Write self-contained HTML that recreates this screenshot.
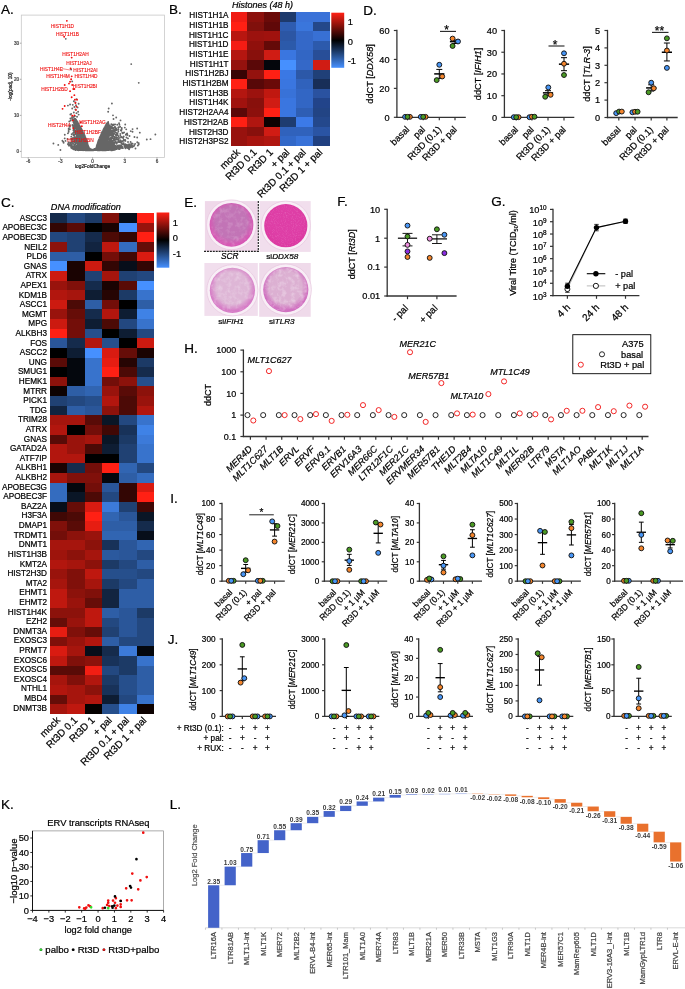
<!DOCTYPE html>
<html><head><meta charset="utf-8"><title>Figure</title>
<style>
html,body{margin:0;padding:0;background:#fff;}
body{width:685px;height:989px;overflow:hidden;font-family:"Liberation Sans",sans-serif;}
svg{display:block;font-family:"Liberation Sans",sans-serif;will-change:transform;}
</style></head><body>
<svg width="685" height="989" viewBox="0 0 685 989">
<defs><linearGradient id="cb" x1="0" y1="0" x2="0" y2="1"><stop offset="0" stop-color="#ff2014"/><stop offset="0.5" stop-color="#000"/><stop offset="1" stop-color="#4690ff"/></linearGradient></defs>
<text stroke="#000" stroke-width="0.22" x="1" y="13.5" font-size="13.5" text-anchor="start" fill="#000">A.</text>
<rect x="21.3" y="15.1" width="143.1" height="142.3" fill="#fff" stroke="#c8c8c8" stroke-width="0.8"/>
<line x1="28.22" y1="157.4" x2="28.22" y2="158.9" stroke="#555" stroke-width="0.5"/>
<text stroke="#444" stroke-width="0.22" x="28.22" y="163" font-size="4.6" text-anchor="middle" fill="#444">-6</text>
<line x1="60.41" y1="157.4" x2="60.41" y2="158.9" stroke="#555" stroke-width="0.5"/>
<text stroke="#444" stroke-width="0.22" x="60.41" y="163" font-size="4.6" text-anchor="middle" fill="#444">-3</text>
<line x1="92.6" y1="157.4" x2="92.6" y2="158.9" stroke="#555" stroke-width="0.5"/>
<text stroke="#444" stroke-width="0.22" x="92.6" y="163" font-size="4.6" text-anchor="middle" fill="#444">0</text>
<line x1="124.79" y1="157.4" x2="124.79" y2="158.9" stroke="#555" stroke-width="0.5"/>
<text stroke="#444" stroke-width="0.22" x="124.79" y="163" font-size="4.6" text-anchor="middle" fill="#444">3</text>
<line x1="156.98" y1="157.4" x2="156.98" y2="158.9" stroke="#555" stroke-width="0.5"/>
<text stroke="#444" stroke-width="0.22" x="156.98" y="163" font-size="4.6" text-anchor="middle" fill="#444">6</text>
<line x1="19.8" y1="151.4" x2="21.3" y2="151.4" stroke="#555" stroke-width="0.5"/>
<text stroke="#444" stroke-width="0.22" x="19" y="153" font-size="4.6" text-anchor="end" fill="#444">0</text>
<line x1="19.8" y1="115.33" x2="21.3" y2="115.33" stroke="#555" stroke-width="0.5"/>
<text stroke="#444" stroke-width="0.22" x="19" y="116.93" font-size="4.6" text-anchor="end" fill="#444">10</text>
<line x1="19.8" y1="79.26" x2="21.3" y2="79.26" stroke="#555" stroke-width="0.5"/>
<text stroke="#444" stroke-width="0.22" x="19" y="80.86" font-size="4.6" text-anchor="end" fill="#444">20</text>
<line x1="19.8" y1="43.19" x2="21.3" y2="43.19" stroke="#555" stroke-width="0.5"/>
<text stroke="#444" stroke-width="0.22" x="19" y="44.79" font-size="4.6" text-anchor="end" fill="#444">30</text>
<text stroke="#222" stroke-width="0.22" x="92.6" y="168.3" font-size="4.8" text-anchor="middle" fill="#222">log2FoldChange</text>
<text stroke="#222" stroke-width="0.22" transform="translate(12 86.5) rotate(-90)" font-size="4.8" text-anchor="middle" fill="#222">-log(padj, 10)</text>
<path d="M95.24 149.16h0M95.14 149.38h0M121.82 148h0M87.27 142.88h0M80.71 149.71h0M102.03 138.69h0M100.71 148.33h0M101.28 139h0M76.93 137.14h0M87.7 145.98h0M121.01 141.77h0M83.96 137.53h0M72.73 141.59h0M106.6 137.79h0M81.93 145.04h0M98.67 142.57h0M113.96 147.54h0M113.35 143.21h0M76.39 141.69h0M88.72 149.12h0M110.38 147.72h0M106.27 139.55h0M114.03 148.37h0M87.09 143.35h0M86.26 147.61h0M96.78 149.99h0M98.28 149.32h0M138.74 144.35h0M110.94 145.25h0M97.27 148.26h0M108.74 124.34h0M108.6 144.77h0M132.64 143.6h0M81.06 129.46h0M104.1 149.71h0M65.51 140.91h0M104.21 148.56h0M77.9 125.95h0M75.86 122h0M98.87 148.78h0M80.71 141.84h0M114.3 149.87h0M75.2 119.16h0M78.38 143.08h0M98.73 147.61h0M88.18 149.44h0M102.66 138.12h0M78.43 139.72h0M101.19 148.59h0M79.36 139.52h0M100.74 140.15h0M81.29 132.15h0M80.93 139.25h0M110.8 130.35h0M71.47 146.52h0M85.53 140.97h0M112.44 136.22h0M125.03 147.49h0M63.2 141.76h0M106.64 148.82h0M98.77 140.11h0M127.15 147.67h0M96.68 148.63h0M117.57 146.79h0M83.64 133.75h0M76.42 123.95h0M110.42 130.62h0M103.75 129.93h0M97.92 147.42h0M99.51 146.21h0M95.44 148.77h0M103.14 138.54h0M88.84 149.9h0M125.39 140.88h0M106.19 133.15h0M105.04 149.82h0M111.3 149.16h0M84.96 147h0M121.68 143.44h0M77.87 123.63h0M102.54 144.65h0M100.78 147.25h0M101.59 149.66h0M103.17 135.31h0M107.9 129.77h0M75.77 121.74h0M85.98 149.18h0M80.46 135.91h0M86.19 147.71h0M105.21 138.42h0M96.03 148.72h0M107.52 135.37h0M79.82 140.84h0M83.62 134.47h0M100.01 139.68h0M106.12 137.71h0M114.04 143.24h0M104.8 127.14h0M99.62 142h0M88.37 148.28h0M111.21 131.23h0M84.68 147.2h0M99.06 141.93h0M96.76 146.06h0M75.37 123.22h0M86.61 146.29h0M86.64 145.43h0M113.98 145.09h0M74.2 134.99h0M107.81 134.9h0M127.88 146.86h0M104.47 136.91h0M101.88 148.29h0M105.98 128.32h0M99.1 145.39h0M107.6 139.18h0M97.47 145.24h0M107.14 125.95h0M85.45 145.97h0M110.6 128.78h0M107.34 126.77h0M110.55 144.09h0M87.71 149.78h0M77 123.4h0M73.61 148.62h0M86.56 145.12h0M87.35 149.18h0M105.69 139.2h0M105.34 127.48h0M105.3 128.24h0M105.66 144.58h0M81.19 147.26h0M104.78 133.25h0M109.48 128.43h0M102.3 146.42h0M105.77 147.59h0M87.85 147.44h0M113.68 149.47h0M73.05 143.44h0M87.06 148.88h0M122.61 146.86h0M105.95 127.22h0M74.31 149.29h0M97.14 145.47h0M116.17 148.67h0M80.14 127.82h0M82.3 132.65h0M105.85 134.88h0M72.34 139.6h0M102.21 147.46h0M78.12 129.98h0M85.39 143.81h0M81.62 129.64h0M123.78 139.76h0M87.96 150.26h0M84.29 141.11h0M80.75 128.22h0M85.73 146.14h0M75.69 146.72h0M107.24 125.34h0M81.6 129.47h0M112 126.08h0M104.39 129.82h0M83.8 135.67h0M96.33 149.62h0M90.16 149.61h0M102.54 148.6h0M99.54 139.35h0M102.4 135.15h0M102.44 138.84h0M76.86 121.42h0M76.45 124.68h0M103.92 129.87h0M106.32 131.76h0M100.36 141.77h0M121.46 141.39h0M126.84 146.08h0M109.6 127.69h0M103.75 133.86h0M84.3 147.39h0M104.54 149.98h0M68.67 128.48h0M105.23 138.39h0M101.77 144.22h0M97.39 148.98h0M88.68 148.34h0M101.73 144.06h0M101.71 148.73h0M118.61 141.08h0M103.16 131.88h0M74.77 141.8h0M95.43 149.56h0M87.73 146.88h0M99.74 147.03h0M119.73 148.94h0M79.47 128.54h0M83.45 143.89h0M75.83 120.29h0M83.43 146.42h0M95.47 148.95h0M88.83 149.99h0M104.36 129.54h0M85.42 143.79h0M100.43 139.19h0M78.65 124.39h0M108.42 137.53h0M102.18 137.45h0M80.48 141.05h0M100.32 140.42h0M112.55 133.65h0M80.77 135.27h0M87.19 148.39h0M127.13 133.49h0M84.04 141.35h0M104.61 149.59h0M80.37 131.42h0M124.81 147.08h0M105.91 132.3h0M111.37 134.53h0M104.42 148.49h0M81.14 141.45h0M83.14 143.06h0M96.03 148.35h0M105.83 125.88h0M107.42 136.02h0M109.52 138.58h0M74.66 125.57h0M95.95 148.47h0M79.62 126.85h0M98.81 148.68h0M100.42 146.52h0M110.09 127.16h0M84.72 140.67h0M77.34 137.94h0M127.76 148.01h0M99.35 142.18h0M99.23 147.67h0M101.91 133.75h0M79.57 130.51h0M113.89 143.5h0M116.14 148.36h0M99.19 144.66h0M102.42 136.61h0M104.07 149.41h0M81.1 128.93h0M104.8 128.26h0M96.68 149.47h0M100.63 142.56h0M93.6 150.09h0M108.44 127.23h0M97.17 150.12h0M106.25 143.25h0M98.06 149.71h0M78.31 126.05h0M78.62 132.52h0M78.01 126.09h0M105.57 149.41h0M84.92 146.25h0M77.94 126.07h0M68.57 142.35h0M104.67 134.18h0M106.84 139.61h0M118.66 141.99h0M107.93 138.14h0M93.34 149.72h0M100.68 143.62h0M105.2 127.65h0M86.45 141.75h0M85.3 139.96h0M78.54 144.58h0M78.15 138.57h0M104.61 130.81h0M97.8 148.76h0M105.08 141.81h0M77.28 129.22h0M76.75 126.6h0M77.38 122.41h0M107.49 149.57h0M111.34 131.02h0M75.88 126.68h0M78.98 132.26h0M103.86 131.09h0M100.56 149.31h0M98.9 139.58h0M82.82 135.29h0M107.64 126.96h0M81.51 131.35h0M76.04 138.81h0M100.51 145.69h0M99.62 142.05h0M109.57 133.75h0M103.09 140.88h0M86.16 145h0M84.93 136.51h0M87.55 149.67h0M78.99 136.63h0M81.47 136.3h0M85.08 147.85h0M82.94 148.64h0M105.82 131.38h0M105.11 146.17h0M87.93 149.09h0M79.84 142.53h0M78.36 125.32h0M96.31 147.98h0M117.91 135.17h0M107.07 148.76h0M112.61 148.64h0M74.97 130.47h0M105.48 125.89h0M95.23 149.64h0M84.67 141.04h0M87.93 149.36h0M82.41 134.32h0M84.41 135.5h0M82.24 133.14h0M82.03 133.94h0M82.78 143.35h0M86.31 149.75h0M69.84 126.71h0M78.83 145.73h0M79.71 126.1h0M102.52 133.98h0M83.2 134.09h0M109.54 142.55h0M74.77 147.65h0M84.66 137.58h0M104.75 135.98h0M96.97 148.16h0M79.38 129.29h0M101.8 148.17h0M85.25 146.39h0M77.32 121.83h0M94.94 149.29h0M105.33 126.4h0M70.75 143.08h0M104.91 130.3h0M137.83 145.55h0M109.78 129.47h0M106.61 131.69h0M78.94 129.64h0M99.85 138.77h0M99.88 142.01h0M120.32 135.81h0M113.63 147.49h0M89.86 149.17h0M78.49 140.32h0M100.53 139.28h0M96.59 149.59h0M110.54 149.57h0M97.8 145.76h0M87.95 148.38h0M137.27 142.27h0M77.49 150h0M118.57 127.13h0M106.77 128.3h0M106.43 148.69h0M101.34 138.07h0M109.29 138.15h0M78.93 131.1h0M109.9 131.81h0M75.95 124.73h0M99.33 148.79h0M101.19 149.19h0M110.75 134.02h0M111.09 134.58h0M83.07 140.34h0M97.36 147.31h0M103.63 131.62h0M82.03 135.97h0M84.19 149.96h0M99.28 140.76h0M111.89 149.56h0M119.34 147.62h0M104.06 132.71h0M85.21 146.88h0M77.59 129.99h0M75.99 120.15h0M104.06 137.33h0M106.49 150.02h0M76.6 134.29h0M86.53 145.77h0M105.11 128.1h0M105.32 147.61h0M103.75 137.83h0M94.73 149.68h0M99.49 143.74h0M105.42 140.48h0M104.5 136.24h0M84.35 147.15h0M107.11 138.96h0M76.64 148.62h0M98.66 142.41h0M105.42 126.76h0M109.7 139.28h0M108.08 132.9h0M110.52 128.36h0M103.97 136.11h0M79.81 130.79h0M106.99 143.09h0M109.18 145.04h0M85.11 138.7h0M114.45 138.42h0M114.56 129.56h0M99.01 150.22h0M100.37 145.31h0M83.81 134.48h0M120.48 140.53h0M137.49 142.53h0M129.07 144.26h0M103.49 150.15h0M85.06 140.46h0M99.54 141.47h0M77.77 122.6h0M106.81 133.99h0M100.17 139.8h0M105.56 138.28h0M98.9 142.94h0M91.36 149.91h0M102.5 131.52h0M85.76 145.32h0M104.98 129.46h0M114.11 144.15h0M83.86 134.13h0M75.82 127.07h0M74.55 123.3h0M99.33 143.54h0M103.15 131.66h0M98.08 148.97h0M87.01 142.38h0M104 130.54h0M96.64 148.88h0M80.55 150.1h0M102.83 135.44h0M86.28 142.8h0M80.99 141.42h0M105.05 129.55h0M105.4 131.37h0M100.57 147.24h0M86.62 143.28h0M87.51 144.95h0M86.22 145.77h0M96.17 149.74h0M105.01 127.41h0M99.04 148.85h0M100.08 147.82h0M74.16 148.62h0M90.19 149.97h0M95.38 149.65h0M81.71 147.05h0M98.58 148.51h0M107.02 149.79h0M103.01 131.1h0M81.63 129.8h0M81.19 141.07h0M81 140.38h0M98.85 142.26h0M78.43 126.07h0M83.06 134.21h0M96.72 148.66h0M82.39 132.52h0M114.47 146.41h0M109.48 138.98h0M103.42 136.75h0M80.42 128.54h0M106.67 146.82h0M98.46 150.03h0M96.75 148.17h0M76.62 120.85h0M80.53 134.75h0M98.56 148.64h0M114.5 136.99h0M102.24 133.92h0M83.72 145.67h0M110.24 149.09h0M78.52 125.82h0M106.26 138.78h0M98.48 142.47h0M129.53 135.95h0M80.58 128.84h0M81.96 144.81h0M78.6 124.83h0M98.7 148.82h0M110.38 127.87h0M77.82 126.08h0M70.71 145.58h0M97.06 145.69h0M100.28 137.3h0M83.14 142.61h0M113 149.94h0M102.88 146.93h0M100.13 140.72h0M82.68 135.45h0M103.51 142.52h0M76.78 121.08h0M70.66 143.04h0M81.04 129.49h0M98.11 149.03h0M82.07 137.41h0M76.86 124.28h0M104.27 131.69h0M79.68 125.9h0M75.21 126.95h0M85.02 146.31h0M91.23 150.08h0M100.57 146.75h0M115.69 134.96h0M102.43 145.91h0M82.17 148.3h0M111.09 142.34h0M114.24 149.61h0M88.4 149.95h0M90.22 149.06h0M106.85 125.33h0M82.49 139.47h0M105.48 125.99h0M79.14 129.29h0M114.08 147.62h0M80.37 130.64h0M85.11 144.36h0M105.87 127.53h0M97.62 147.6h0M100.41 142.37h0M105.38 149.67h0M104.97 127.17h0M101.63 139.65h0M88.6 149.27h0M103.87 149.96h0M105.49 139.24h0M105.56 134.21h0M98.64 145.11h0M113.32 133.74h0M106.13 138.25h0M121.06 147.6h0M76.48 122.2h0M80.75 148.94h0M105.54 131.64h0M79.93 137.46h0M108.27 136.13h0M103.1 142.44h0M79.76 149.79h0M75.13 120.87h0M99.06 150.03h0M98.71 144.36h0M76.05 119.77h0M84.34 139.3h0M75.8 138.5h0M111.12 137.46h0M114.92 140.11h0M85.22 146.8h0M104.63 148.59h0M111.3 138.88h0M78.29 146.25h0M107.2 130.84h0M76.56 140.12h0M102.93 132.26h0M77.62 122.31h0M108.2 128.86h0M95.62 149.12h0M104.62 127.56h0M101.34 134.2h0M106.22 128.28h0M107.39 136.97h0M98.96 150.05h0M76.5 122.92h0M95.82 148.84h0M98.41 140.95h0M81.31 134.22h0M80.54 129.01h0M105.95 127.54h0M97.59 149h0M85.98 141.56h0M114.82 127.38h0M101.37 139.15h0M77.32 123.75h0M80.45 147.07h0M105.92 141h0M100.63 139.02h0M83.17 140.39h0M118.82 147.49h0M102.03 134.28h0M78.37 140.78h0M78.63 142.94h0M95.18 149.42h0M101.41 142.44h0M81.79 134.16h0M81.17 133.14h0M100.78 145.11h0M95.57 149.93h0M97.26 147.29h0M82.3 141.51h0M105.64 149.36h0M103.44 134.35h0M73.51 122.27h0M80.2 145.05h0M113.55 139.83h0M78.02 139.56h0M102.03 142.03h0M102.24 139.03h0M108.1 136.58h0M89.06 148.55h0M80.65 136.76h0M80.73 133.22h0M80.58 128.01h0M105.78 126.77h0M103.33 147.41h0M110.02 146.45h0M88.24 146.45h0M101.07 142.43h0M83.81 147.71h0M100.25 144.16h0M107.53 131.04h0M75.95 125.23h0M97.81 143.65h0M83.98 148.11h0M81.13 138.93h0M96.24 149.45h0M120.66 147.31h0M83.34 133.1h0M87.91 148.51h0M87.77 149.04h0M96.64 148.36h0M106.69 133.56h0M112.88 128.26h0M108.16 146.82h0M104.39 141.58h0M113.31 150.02h0M87.55 149.02h0M81.47 131.27h0M98.24 148.92h0M104.15 138.25h0M83.82 149.21h0M101.72 140h0M75.63 122.51h0M85.9 139.59h0M82.87 137.38h0M101.69 139.8h0M111.56 149.91h0M132.57 129.1h0M107.71 135.7h0M109.25 147.67h0M102.99 149.07h0M80.92 129.29h0M78.33 135.05h0M112.89 132.44h0M99.62 143.28h0M82.4 133.71h0M79.46 139.49h0M77.3 147.93h0M89.71 150.29h0M109.57 132.29h0M76.46 125.22h0M76.58 129.25h0M113.35 128.65h0M98.75 146.89h0M102.6 142.87h0M79.29 143.12h0M78.89 126.01h0M111.49 146.08h0M88.39 149.26h0M85.9 141.63h0M104.4 130.15h0M109.65 143.16h0M126.18 134.32h0M114.4 145.17h0M75.68 120.41h0M88.88 148.84h0M98.2 149.94h0M79.38 150.01h0M114.32 144.1h0M84.49 140.25h0M81.48 134.15h0M87.26 143.03h0M81.89 133.89h0M78.56 128.78h0M103.87 129.81h0M82.17 142.9h0M104.94 134.11h0M104.85 130.25h0M82.17 132.37h0M101.31 135.56h0M107.83 131.78h0M124.86 146.54h0M71.09 146.91h0M100.56 147.45h0M74.38 146.18h0M102.79 132.24h0M81.54 141.28h0M78.39 124.4h0M88.22 146.1h0M78.75 124.9h0M105.96 140.54h0M124.71 146.2h0M82 133.35h0M85.24 142.75h0M105.26 132.07h0M84.99 144.07h0M105.91 131.6h0M109.83 132.53h0M103.76 137.1h0M76.01 125.71h0M105.2 137h0M104.14 129.88h0M127.03 144.67h0M102.37 131.7h0M90.41 149.32h0M97.83 148.53h0M83.37 144.56h0M105.66 131.15h0M111.29 134.42h0M103.92 133.24h0M111.44 138.47h0M87.51 144.14h0M103.25 150.07h0M87.31 148.35h0M103.88 134.34h0M106.7 147.25h0M75.41 131.62h0M82.96 135.37h0M101.36 147.21h0M104.18 133.8h0M122.28 132.73h0M77.2 128.35h0M100.44 140.42h0M113.03 127.66h0M77.86 143.86h0M96.99 149.85h0M113.48 149.62h0M100.5 147.79h0M100.28 139.54h0M100.2 137.25h0M83.47 149.3h0M82.82 132.63h0M83.22 134.48h0M79.04 128.96h0M81.74 150.11h0M107.88 127.1h0M83.07 134.4h0M104.08 150.04h0M105.15 132.18h0M121.73 128.03h0M105.56 135.43h0M87.18 149.14h0M127.44 134.99h0M82.34 134.85h0M106.17 126.67h0M104.27 131.6h0M105.15 136.79h0M86.5 150.07h0M104.53 142.75h0M76.69 126.61h0M86.4 148.84h0M85.31 140.49h0M98.03 144.19h0M109.91 125.59h0M81.58 130.76h0M105.23 128.63h0M77.77 129.52h0M100.55 145.45h0M107.64 124.95h0M81.48 143.75h0M90.32 150.27h0M81.86 130.81h0M107.6 136.11h0M88.06 148.82h0M80.21 133.58h0M83.58 150.17h0M125.1 145.46h0M97.51 150.26h0M86.59 141.58h0M77.32 148.52h0M82.73 131.52h0M106.02 136.42h0M130.81 145.91h0M91.66 150.29h0M86.99 143.74h0M84.73 138.63h0M79.99 145.38h0M105.08 144.32h0M107.3 129.31h0M83.97 141.31h0M88.23 150.12h0M96.75 149.97h0M105.48 126.17h0M110.28 130.56h0M103.94 130.62h0M98.76 149.74h0M89.33 149.34h0M77.28 122.08h0M100.16 136.73h0M104.33 147.87h0M71.81 145.04h0M83.94 148.65h0M92.35 150.24h0M114.44 133.7h0M120.82 130.28h0M87.41 147.47h0M77.82 123.75h0M107.77 136.49h0M102.92 138.51h0M82.19 132.05h0M101.71 149.59h0M86.76 149.81h0M118.49 139.12h0M105.61 125.84h0M68.67 145.58h0M77.71 141.82h0M85.49 149.8h0M73.42 130.25h0M106.43 137.65h0M102.74 147.49h0M80.02 133.48h0M82.68 149.29h0M79.51 127.59h0M68.88 142.38h0M100.67 137h0M95.95 148.49h0M102.6 149.06h0M101.8 134.88h0M124.44 145.21h0M79.86 134.34h0M78.42 145.1h0M77.43 124h0M101.91 133.3h0M94.97 149.01h0M105.88 126.9h0M74.94 118.72h0M98.24 142.41h0M103.67 149.05h0M80.82 131.6h0M106.03 125.08h0M108.8 135.77h0M91.17 150.22h0M82.09 146.98h0M85.53 149.53h0M102.91 147.51h0M87.69 148.75h0M78.98 125.67h0M87.11 146.86h0M76.38 120.93h0M105.14 137.12h0M113.54 149.23h0M101.88 148.48h0M98.87 141.65h0M99.6 143.67h0M79.69 139.99h0M117.1 142.26h0M83.69 133.7h0M77.39 123.13h0M80.78 130.75h0M122.38 144h0M93.54 149.77h0M100.19 139.1h0M99.11 145.51h0M83.65 149.83h0M76.23 120.63h0M100.99 136.2h0M103.59 131.54h0M98.98 142.41h0M82 131.19h0M106.01 131.11h0M104.94 129.3h0M80.9 130.24h0M114.97 148.19h0M78.21 123.88h0M77.62 129.99h0M110.57 140.64h0M110.02 133.52h0M74.84 126.05h0M85.65 148.43h0M111.06 135.28h0M92.85 150.31h0M88.28 147.07h0M71.64 142.22h0M103.56 136.57h0M79.61 126h0M79.88 129.03h0M100 148.09h0M75.57 133.95h0M100.64 136.51h0M103.68 133.02h0M138.69 144.5h0M100.83 137.95h0M101.24 148.95h0M76.71 124.06h0M86.6 143.97h0M104.77 133.5h0M81.38 137.42h0M85.37 146.87h0M98.07 141.85h0M102.56 147.89h0M100.02 140.42h0M82.22 132.43h0M74.64 126.99h0M102.71 132.3h0M102.07 137.38h0M83.76 148.79h0M95.57 149.11h0M100.23 148.94h0M83.27 138.93h0M105.55 149.2h0M84.57 142.59h0M101.82 149.47h0M103.76 132.75h0M82.94 140.89h0M82.46 131.86h0M101.96 137.9h0M85.26 139.11h0M99.93 149.62h0M105.47 131.67h0M82.85 144.82h0M85.68 146.72h0M110.9 146.56h0M103.51 136.95h0M98.9 147.91h0M74.12 132.45h0M104.97 127.93h0M80.07 126.8h0M77.04 121.63h0M96.32 148.79h0M102.74 135.89h0M85.33 140.58h0M103.35 131.29h0M97.37 145.53h0M103.87 143.15h0M104.49 130.54h0M106.06 125.45h0M97.1 144.89h0M82.63 148.59h0M73.14 133.07h0M86.25 144.35h0M77.5 129.96h0M79.79 130.82h0M103.43 132.3h0M77.62 127.37h0M77.02 122.34h0M91.8 149.83h0M85.31 140.57h0M85.32 139.8h0M73.64 146.1h0M79.42 135.91h0M114.27 130.71h0M94.85 149.34h0M84.71 136.96h0M76.79 129.03h0M103.27 130.16h0M115.03 137.12h0M94.77 149.64h0M100.13 149.37h0M87.12 146.68h0M81 132.89h0M74.81 142.42h0M78.16 147.34h0M78.02 126.8h0M99.3 149.75h0M108.25 144.67h0M74.31 118.44h0M101.74 149.81h0M77.32 122.62h0M79.83 127.77h0M86.75 145.76h0M82.58 137.49h0M107.11 131.45h0M81.54 129.91h0M107.04 127.35h0M98.41 141h0M96.33 148.69h0M71.07 139.06h0M109.63 133.15h0M85.74 145.68h0M70.69 120.5h0M81.65 131.97h0M87.59 146.72h0M101.67 149.55h0M87.4 142.74h0M109.51 135.03h0M98.17 149.28h0M78.95 126.94h0M83.83 134.27h0M101.78 137.57h0M105.02 127.54h0M100.94 136.95h0M103.05 149.67h0M98.88 141.52h0M82.52 132.18h0M92.58 150.3h0M98.09 143.74h0M86.96 145.94h0M101.16 136.19h0M104.41 134.53h0M101.3 148.83h0M81.17 129.15h0M104.81 149.54h0M82.39 131.48h0M98.71 149.06h0M85.12 146.39h0M111.3 150.3h0M80.85 130.27h0M78.66 150.23h0M79.9 130.67h0M80.51 132.09h0M102.56 146.15h0M84.49 147.41h0M97.71 149.09h0M80.58 131.35h0M101.2 144.06h0M78.28 128.89h0M108.28 146.68h0M79.34 147.66h0M83.53 133.53h0M105.63 148.24h0M79.22 144.22h0M85.15 140.33h0M104.61 132.03h0M98.2 147.05h0M110.16 131.8h0M79.65 140.15h0M104.31 141.95h0M94.17 149.47h0M101.32 136.33h0M101.62 137.71h0M103.71 147.45h0M102.11 149.61h0M100.43 145.95h0M89.91 149.67h0M62.43 140.77h0M85.86 138.98h0M105.23 133.11h0M104.09 130.51h0M90.78 149.32h0M97.9 150.31h0M99.45 141.4h0M111.48 140.4h0M103.52 145.29h0M96.96 148.25h0M85.83 145h0M105.86 127.97h0M99.45 143.47h0M84.78 141.69h0M75.51 120.94h0M99.27 142.13h0M80.92 134.77h0M103.59 141.87h0M103.08 149.91h0M104.45 138.09h0M101.27 141.44h0M108.07 125.79h0M108.11 128.77h0M109.55 131.55h0M106.15 141.57h0M111.53 130.36h0M93.8 150.16h0M117.55 146.53h0M84.91 139.79h0M82.17 131.9h0M100.73 137.12h0M83.92 140.97h0M102.87 133.3h0M86.21 142.75h0M85.39 143.3h0M75 139.07h0M99.5 142.05h0M85.82 150.23h0M99.23 143.79h0M103.27 146.82h0M79 135.08h0M103.67 134.99h0M79.28 125.38h0M100.18 148.27h0M97.04 148.86h0M97.99 142.29h0M98.84 146.13h0M81.12 132.27h0M105.92 149.55h0M101.7 133.53h0M97.75 149.26h0M107.06 144.55h0M106.45 145.75h0M76.58 120.64h0M87.44 143.93h0M83.26 137.91h0M75.33 148.3h0M103.07 138.19h0M79.05 126.13h0M72.14 118.96h0M82.69 149.34h0M82.38 148.04h0M85.68 144.17h0M108.64 136.5h0M93.26 150.23h0M88.63 148.75h0M95.91 150.05h0M86.21 143.01h0M77.97 128.52h0M109.15 149.98h0M81.38 129.66h0M114.14 142.73h0M97.6 149.36h0M75.22 132.61h0M99.84 149.51h0M95.43 149.18h0M98.61 149.61h0M96.84 147.34h0M77.25 140.98h0M106.61 148.82h0M104.01 143.59h0M97.27 146.98h0M87.95 149.83h0M75.83 143.27h0M108.21 122h0M79.74 126.93h0M81.28 148.08h0M106.11 142.34h0M99.67 148.79h0M103.03 136.14h0M73.12 137.9h0M85.25 140.06h0M78.03 136.15h0M84.46 140.32h0M77.15 124.06h0M97 148.1h0M110.16 133.8h0M96.62 146.96h0M96.67 147.21h0M104.18 135.5h0M114.15 145.1h0M114.97 126.72h0M79.57 128.92h0M106.69 144.84h0M78.45 135.77h0M85.61 145.3h0M107.14 130h0M79.34 127.47h0M83.6 135.56h0M78.62 124.29h0M108.99 128.92h0M87.93 148.09h0M119.66 142.15h0M106.13 131.04h0M102.61 144.44h0M101.05 137.33h0M105.11 149.4h0M78.73 127.23h0M103.93 138.8h0M98.96 141.28h0M78.25 149.68h0M107.33 126.6h0M104.57 146.9h0M103.83 141.89h0M82.33 149.32h0M80.16 135.77h0M91.15 149.62h0M79.15 126.43h0M105.4 135.28h0M101.61 136.66h0M109.83 145.19h0M106.27 131.51h0M109.85 129.52h0M95.02 149.6h0M100.75 136.69h0M80.8 128.85h0M81.11 128.36h0M79.27 129.68h0M75.52 122.22h0M81.04 133.79h0M97.73 147.01h0M82.51 131.8h0M82.07 130.72h0M102.68 131.98h0M102.44 132.18h0M85.28 150.23h0M86.97 141.7h0M104.54 135.25h0M88.44 149.27h0M112.94 145.88h0M74.63 140.55h0M80.49 128.47h0M99.44 141.1h0M114.11 143.83h0M105.06 149.91h0M83.58 139.29h0M112.74 130.48h0M110.54 127.77h0M120.14 126.72h0M85.04 147.94h0M107.39 148.27h0M103.81 144.27h0M77.62 123.18h0M123.26 138.06h0M98.51 144.99h0M85.43 142.44h0M103.63 143.4h0M114.33 145.09h0M105.15 133.04h0M102.78 136.32h0M80.65 127.79h0M130.76 144.87h0M99.05 143.35h0M109.04 134.73h0M81.53 135.34h0M99.64 139.26h0M96.28 147.99h0M102.66 133.59h0M85.91 145.95h0M72.48 124.83h0M112.03 131.72h0M102.83 148.34h0M105.73 135.86h0M102.02 134.8h0M98.87 148.89h0M103.77 145.8h0M101.58 134.32h0M112.94 141.53h0M82.57 133.08h0M74.33 119.21h0M121.7 128.93h0M97.86 148.37h0M102.72 148.98h0M108.88 146.15h0M80.69 131h0M102.65 149.46h0M102.08 148.8h0M81.95 144.45h0M108 128.3h0M97.81 147.28h0M111.02 150.25h0M101.82 147.74h0M74.03 123.56h0M71.28 147.69h0M102.27 132.83h0M84 150.13h0M109.18 134.14h0M111.69 141.96h0M72.5 141.78h0M81.7 129.53h0M78.71 140.77h0M100.31 146.25h0M81.76 130.39h0M72.01 148.36h0M122.85 148.16h0M81.2 132.67h0M99.14 141.42h0M82.38 147.17h0M77.89 124.5h0M87.31 144.56h0M114.36 148.33h0M86.96 145.41h0M99.67 140.66h0M106.38 125.19h0M105.7 137.34h0M78.06 126.44h0M82.5 139.68h0M100.74 143.91h0M123.7 143.08h0M104.15 143.21h0M75.59 144.83h0M81.44 146.56h0M76.56 147.39h0M109.09 134.53h0M74 140.01h0M74.08 141.14h0M88.48 149.52h0M78.41 129h0M106.33 126.1h0M82.64 134.3h0M94.33 149.8h0M104.1 142.48h0M102.11 135.54h0M97.68 148.55h0M101.18 144.4h0M112.81 131.98h0M108.55 124.71h0M107.53 130.11h0M99.86 140.29h0M95.9 148.78h0M102.57 148.6h0M109.64 146.87h0M79.64 131.42h0M111.07 147.14h0M97.67 146.45h0M85.8 143.35h0M108.31 125.68h0M131.15 146.39h0M118.97 148.94h0M104.13 149.3h0M95.16 150.01h0M107.05 140.66h0M78.41 128.01h0M100.07 138.6h0M107.25 150.04h0M97.32 149.57h0M100.08 149.78h0M98.18 143.42h0M107.55 125.28h0M84.39 137.79h0M98.27 143.48h0M76.44 129.87h0M103.02 134.64h0M109.28 129.44h0M102.92 135.17h0M80.01 141.7h0M104.15 130.94h0M96 148.47h0M82.56 139.25h0M104.1 129.29h0M83.88 134.24h0M97.38 148.22h0M107.56 140.69h0M120.91 142.52h0M78.15 131.8h0M104.87 131.51h0M69.26 121.52h0M85.98 140.67h0M105.24 144.97h0M100.45 150.14h0M102.98 148.35h0M100.25 145.76h0M79.1 125.12h0M132.08 143.76h0M87.03 149.73h0M105.22 135.7h0M103.76 135.57h0M96.29 149.31h0M79.34 125.76h0M100.72 136.6h0M110.56 139.4h0M105.47 127.81h0M106.13 129.73h0M77.34 122.01h0M105.97 125.08h0M85.88 146.33h0M75.29 121.7h0M99.48 144.31h0M100.7 136.42h0M88.98 148.81h0M121.98 141.22h0M82.71 138.33h0M78.89 127.37h0M89.19 148.29h0M104.08 129.75h0M99 139.25h0M113.29 147.44h0M130.1 147.45h0M97.47 148.81h0M98.27 145.67h0M108.78 135.89h0M98.78 141.89h0M82.81 132.5h0M82.19 140.21h0M102.06 149.04h0M82.45 143.96h0M101.54 136.01h0M105.6 127.54h0M103.96 128.6h0M114.62 149.38h0M84.92 141.71h0M79.11 136.21h0M103.31 130.08h0M100.36 137.48h0M63.45 142.49h0M81.6 130.03h0M101.64 137h0M80.66 139.53h0M106.17 124.65h0M107.94 149.96h0M80.77 150.12h0M97.29 147.98h0M109.27 141.82h0M73.94 121.21h0M86.14 146.85h0M103.68 134.29h0M82.66 133.92h0M86.93 142.32h0M96.98 146.76h0M77.99 147.81h0M85.73 147.65h0M101.18 136.41h0M101.06 139.85h0M104.17 141.62h0M87.9 147.28h0M104.33 141.36h0M99.77 147.3h0M97.18 145.01h0M88.55 149.81h0M101.86 134.01h0M105.87 146.21h0M84.39 135.52h0M108.83 127.35h0M112.82 146.25h0M76.71 122.39h0M88.12 147.35h0M82.5 145.87h0M104 130.15h0M98.06 149.44h0M82.79 133.24h0M86.44 150.16h0M105.54 133.64h0M103.13 144.98h0M73.34 116.91h0M79.04 125.35h0M79.58 142.67h0M107.06 143.6h0M77.82 123.21h0M87.36 142.79h0M99.22 140.56h0M102.75 142.56h0M97.41 144.2h0M107.66 144.82h0M103.59 133.09h0M101.59 144.84h0M75.63 120.72h0M76.91 122.76h0M106.11 134.09h0M98.69 146.65h0M98.76 142.23h0M106.74 143.64h0M89.22 149.75h0M86.32 141.74h0M100.49 149.96h0M85.04 139.86h0M79.63 130.29h0M87.76 148.43h0M102.38 141.51h0M110.18 139.54h0M77.09 121.52h0M101.32 135.53h0M106.58 126.76h0M102.44 134.98h0M81.27 149h0M103.86 129.08h0M98.05 149.48h0M81.8 136.97h0M106.29 145.68h0M125.69 147.14h0M76.97 125.85h0M85.23 139.57h0M110.91 137.81h0M113.24 146.31h0M105.48 132.68h0M81.47 134.01h0M96.81 148.06h0M120.19 140.24h0M77.06 146.41h0M104.34 129.14h0M81.1 144.53h0M102.81 139.7h0M84.23 145.69h0M100.22 141.27h0M76.87 121.56h0M104.23 131.19h0M102.58 136.52h0M90.62 150.03h0M114.96 139h0M102.68 140.15h0M80.46 140.22h0M108.09 142.82h0M104.66 148.8h0M103.5 129.78h0M104.4 128.88h0M82.86 132.29h0M102.03 133.88h0M84.19 149.11h0M91.27 149.95h0M116.14 148.9h0M72.04 146.27h0M111.26 127.06h0M106.83 146.11h0M101.41 135.58h0M102.09 135.78h0M84.45 145.29h0M73.13 126.95h0M80.99 139.98h0M103.58 146.13h0M97.31 144.64h0M105.26 148.16h0M106.14 131.76h0M83.91 146.47h0M86.79 141.91h0M81.21 133.82h0M80.87 131.84h0M99.82 147.96h0M87.59 145.17h0M107.57 149.23h0M96.26 148.49h0M81.2 131.66h0M81.27 128.69h0M84.03 134.75h0M99.6 141.62h0M89.3 149.1h0M77.62 126.18h0M106.23 132.56h0M79.59 144.48h0M106.32 124.6h0M111.9 143.9h0M103.47 136.53h0M85.85 140.23h0M103.02 130.84h0M88.18 148.91h0M104.55 131.77h0M104.04 129.37h0M97.26 145.3h0M86.21 146h0M101.05 146.18h0M81.2 137.76h0M94.49 150.07h0M104.17 130.14h0M101.39 149.67h0M105.42 142.97h0M98.2 149.53h0M77.83 123.62h0M97.64 147.16h0M74.6 127.42h0M78.78 150.04h0M83.27 142.28h0M100.52 150.02h0M87.1 146.12h0M84.68 136.32h0M98.33 148.92h0M88.54 147.21h0M118.82 147.69h0M97.57 144.32h0M72.52 146.11h0M83.41 143.4h0M95.21 148.93h0M103.29 149.13h0M76.98 148.24h0M102.67 133.34h0M97.98 147.82h0M73.59 134.73h0M108.38 130.46h0M67.82 144.1h0M80.66 129.96h0M76.96 136.21h0M93.46 150.21h0M80.19 147.28h0M82.91 138.73h0M106.17 141.95h0M102.92 135.15h0M112.85 149.15h0M99.41 142.03h0M102.02 142.71h0M102.43 143.13h0M84.18 144.04h0M100.35 139.49h0M112.47 148.47h0M100.91 140.52h0M82.47 140.99h0M107.05 149.13h0M78.8 124.77h0M99.93 149.42h0M79.72 139.12h0M105.65 142.74h0M103.54 132.62h0M107.85 134.04h0M106.6 149.3h0M105.87 125.96h0M83.93 137.56h0M98.75 148.79h0M83.21 148.48h0M107.05 137.02h0M74.21 129.74h0M104.19 134.46h0M104.28 141.22h0M115.51 148.5h0M96.66 146.68h0M82.14 136.23h0M103.53 129.93h0M77.82 126.75h0M77.11 126.81h0M79 140.67h0M80.39 129.37h0M100.2 141.58h0M80.35 131.73h0M89.37 149.36h0M121.28 130.82h0M75.01 125.43h0M98.64 142.51h0M111.11 146.93h0M99.16 148.35h0M103.28 148.52h0M83.47 144.8h0M96.5 147.57h0M108.11 130.8h0M106.7 126.1h0M106.4 137.37h0M99.45 139.95h0M78.9 129.41h0M102.75 139.37h0M101.14 138.95h0M103.32 130.81h0M116.24 128.52h0M88.53 146.73h0M99.17 141.94h0M107.47 149.95h0M82.97 148.58h0M117.53 148.25h0M91.54 150.11h0M76.99 140.4h0M83.57 133.63h0M79.5 136.11h0M98.47 147.38h0M103.65 137.99h0M82.43 137h0M80.61 127.94h0M102.22 146.49h0M116.82 143.85h0M102.27 137.92h0M86.93 149.11h0M114.02 143.09h0M84.11 143.38h0M96.09 149.09h0M83.78 133.8h0M81.02 129.86h0M106.81 127.67h0M129.71 147.01h0M109.39 127.83h0M89.25 148.43h0M109.05 148.9h0M105.51 126.48h0M108.86 132.82h0M99.17 150.1h0M81.32 147.57h0M110.17 133.95h0M100.53 136.1h0M64.8 134.75h0M105.39 131.46h0M75.5 139.84h0M107.95 148.25h0M85.92 140.12h0M122.08 144.42h0M84.52 136.27h0M81.63 135.95h0M84.92 149.2h0M79.7 132.05h0M105.17 141.51h0M89.7 148.97h0M100.93 135.6h0M104.94 129.48h0M98.67 149.61h0M75.16 120.27h0M100.55 143.94h0M85.56 137.94h0M100.94 135.79h0M100 149.93h0M78.11 125.22h0M103.13 136.91h0M97.84 144.73h0M109.51 140.47h0M86.42 143.11h0M80.93 148.35h0M114.11 130.15h0M76.36 126.03h0M108.3 135.28h0M100.86 137.39h0M74.72 120.76h0M86.64 142.28h0M115.94 147.25h0M108.09 127.86h0M99.46 147.94h0M83.56 143.59h0M72.7 120.2h0M85.14 148.28h0M77.14 124.34h0M97.02 149.93h0M104.47 142.62h0M115.8 128.1h0M85.93 138.65h0M109.97 128.27h0M79.85 129.13h0M70.36 143.24h0M107.73 141.2h0M100.02 146.52h0M87.5 144.77h0M76.69 125.17h0M104.91 150.01h0M90.58 149.43h0M77.36 122.27h0M103.12 148.95h0M120.99 146.01h0M107.64 142.86h0M107.66 125.92h0M82.01 130.63h0M72.37 119.35h0M81.08 129.48h0M95.44 149.89h0M107.94 132.26h0M79.63 142.23h0M86.86 145.24h0M107.09 146.08h0M101.01 136.34h0M83.73 143.59h0M105.67 148.95h0M114.92 149.79h0M96.17 148.02h0M102.02 148.9h0M80.31 135.15h0M79.33 144.19h0M79.51 128.57h0M83.24 135.94h0M79.15 130.49h0M85.22 140.57h0M98.67 143.71h0M79.9 143.19h0M86.66 150.21h0M98.48 145.21h0M106.31 147.02h0M107.84 148.9h0M86.61 144.66h0M83.25 139.73h0M104.8 147.91h0M103.77 146.93h0M107.19 123.3h0M114.59 146.58h0M93.93 150.08h0M105.39 129.45h0M76.63 149.23h0M76.68 124.01h0M122.76 137.67h0M79.87 131.29h0M124.73 145.74h0M100.36 142.96h0M70.37 114.48h0M107.55 130.44h0M76.83 122.4h0M108.3 128.34h0M78.26 140.33h0M79 141.15h0M102.39 136.33h0M85.1 143.12h0M84.39 142.11h0M90.04 149.14h0M79.52 135.98h0M112.13 150.18h0M83.06 138.69h0M113.89 124.38h0M83.16 142.62h0M85.5 144.69h0M78.64 123.98h0M78.24 138.51h0M78.16 144.14h0M100.84 142.27h0M107.39 126.08h0M76.39 145.5h0M105.2 147.73h0M99.69 137.57h0M100.4 140.9h0M80.33 143.82h0M106.25 138.26h0M137.17 128.54h0M81.1 128.38h0M78.29 141.35h0M99.31 147.33h0M99.48 141.37h0M98.14 145.72h0M100.24 138.24h0M104.33 129h0M112.13 150.13h0M80.9 136.53h0M99.84 145.02h0M100.94 145.98h0M98.37 146.41h0M104.41 133.98h0M101.72 135.85h0M108.86 130.28h0M102.29 141.99h0M86.63 147.82h0M109.61 148.82h0M88.31 146.67h0M81.96 132.79h0M103.38 150.19h0M120.29 133.89h0M78.45 137.03h0M78.62 126.16h0M102.67 132.59h0M79.97 137.59h0M82.4 144.3h0M99.8 150.02h0M99.01 140.87h0M95.83 149.43h0M104.11 128.76h0M83.12 150.21h0M112.12 134.57h0M77.72 141.64h0M119.06 148.45h0M106.25 145.09h0M101.16 146.32h0M101.25 146.66h0M74.34 138.74h0M119.91 137.85h0M89.04 148.41h0M107.27 142.68h0M103.78 148.6h0M83.36 148.88h0M77.36 129.16h0M102.16 150.23h0M105.87 129.25h0M106.76 128.29h0M78.42 126.03h0M96.54 149.98h0M108.24 129.63h0M101.56 134.18h0M91.14 150.06h0M77.52 124.91h0M77.38 129.56h0M85.26 143.4h0M102.33 142.94h0M107.19 128.52h0M84.14 148.1h0M79.6 126.56h0M106.16 128.28h0M98.25 150.18h0M98.33 142.75h0M85.98 144.87h0M110.25 135.17h0M90.04 149.4h0M89.1 150.2h0M107.62 145.82h0M81.5 133.03h0M84.32 134.99h0M78 139.98h0M103.43 135.17h0M105.04 134.58h0M82.02 131.9h0M83.25 145.1h0M82.87 142.63h0M86.22 142.78h0M117.55 146.48h0M83.31 142.33h0M91.63 149.97h0M76.81 142.9h0M79.91 140.96h0M111.95 146.06h0M102.39 137.69h0M106.92 136.62h0M76.01 122.82h0M110.75 148.01h0M80.33 145.65h0M106.65 143.95h0M108.13 148.01h0M96.24 149.56h0M95.49 149.05h0M87.32 150.15h0M98.44 146.67h0M83.52 137.65h0M104.75 129.97h0M77.25 126.82h0M101.15 136.75h0M113.29 136.05h0M102.17 146.81h0M98.27 149.83h0M74.78 120.53h0M103.35 148.43h0M105.76 147h0M87.67 148.21h0M106.07 130.84h0M85.02 146.19h0M87.57 149.54h0M118.33 138.94h0M78.11 125.16h0M101.57 139.4h0M85.61 145.04h0M87.16 145.38h0M103.59 145.04h0M106.43 137.98h0M84.35 149.44h0M84 145.5h0M106.86 134.23h0M107.7 127.84h0M106.37 130.42h0M108.58 132.6h0M102.26 139.33h0M100.75 148.51h0M107.5 129.59h0M105.42 139.46h0M86.3 145.29h0M107.63 148.57h0M81.14 136.41h0M83.36 141.87h0M111.07 149.03h0M90.13 149.44h0M126.44 145.98h0M106.96 139.92h0M108.26 127.44h0M103.08 136.16h0M76.23 133.33h0M104.12 129.13h0M80.6 147.89h0M73.52 149.21h0M107.3 128.95h0M86.28 140.19h0M74.9 139.61h0M105.8 149.81h0M85.55 148.73h0M117.55 133.3h0M98.97 147.97h0M109.95 140.86h0M85.71 149.37h0M77.01 121.82h0M102.68 132.89h0M104.19 128.89h0M113.06 143.46h0M100.66 141.51h0M109.98 138.52h0M106.67 136.01h0M132.11 145.58h0M98.65 141.41h0M115.81 130.62h0M84.46 142.44h0M77.85 124.42h0M83.77 139.25h0M81.72 136.16h0M86.89 146.91h0M107.71 145.69h0M107.95 136.97h0M86.82 143.28h0M71.71 134.23h0M104.13 129.91h0M79.99 133.68h0M105.77 128.65h0M84.75 147.9h0M96.49 147.79h0M87.22 146.92h0M104.85 129.13h0M77.27 149.36h0M79.61 126.52h0M106.73 139.31h0M100.62 137.33h0M80.05 129.11h0M98.48 149.38h0M86.38 148.85h0M104.46 129.33h0M111.45 148.32h0M99.72 143.59h0M80.7 128.22h0M105.09 128.1h0M104.35 148.62h0M103.96 133.57h0M100.25 150.27h0M117.75 147.69h0M100.32 142.88h0M84.22 138.33h0M112.22 138.12h0M76.43 128.26h0M85.43 139.24h0M112.39 136.79h0M107.72 149.4h0M112.3 148.75h0M74.03 128.55h0M104.63 149.33h0M87.22 149.15h0M107.35 130.65h0M87.34 146.7h0M81.59 129.86h0M83.85 134.87h0M78.39 124.15h0M111.31 126.75h0M106.94 139.49h0M77.55 127.46h0M79.77 147.04h0M85.13 140.35h0M78.89 146.58h0M70.78 143.39h0M105.6 128.18h0M87.14 145.49h0M98.34 149h0M92.88 150.3h0M101.47 149.3h0M116.06 129.96h0M108.83 142.48h0M101.29 140.14h0M98.17 143.72h0M121.87 146.55h0M81.34 138.34h0M85.37 143.34h0M97.75 149.12h0M106.54 128.51h0M103.55 139.48h0M98.71 148.37h0M98.43 143.34h0M81.54 142.51h0M107.53 139.77h0M105.85 126.54h0M83.56 149.43h0M92.57 150.24h0M99.98 138.31h0M97.93 143.44h0M103.34 139.22h0M80.48 141.55h0M82.18 141.45h0M103.36 137.98h0M137.19 137.54h0M102.03 136.7h0M101.67 143.61h0M97.05 148.89h0M99.26 149.3h0M82.64 149.22h0M105.27 147.37h0M79.81 146.11h0M103.6 129.43h0M99.37 149.7h0M104.02 130.71h0M111.65 138.14h0M88.08 149.64h0M104.11 134.5h0M88.57 149.03h0M85.42 142.56h0M124.1 132.41h0M75.39 127.28h0M81.57 145.76h0M80.92 138.68h0M100.13 147.85h0M76.13 146.92h0M77.73 147.65h0M83.32 147.44h0M104.69 136.71h0M107.62 144.53h0M77.74 130.29h0M79.84 148.28h0M89.83 150.14h0M105.11 146.74h0M108.21 132.71h0M77.16 122.69h0M78.51 145.52h0M82.02 133.39h0M82.34 132.77h0M102.9 136.32h0M108.61 147.75h0M80.59 136.09h0M82.45 143.21h0M100.86 137.59h0M87.38 148.03h0M82.9 135.67h0M100.72 145.99h0M107.8 123.39h0M86.6 142.68h0M103.09 138.86h0M102.6 137.74h0M107.76 149.86h0M105.77 143.69h0M102.22 145.08h0M99.07 142.63h0M104.01 135.99h0M73.39 148.25h0M85.17 142.23h0M101.71 146.69h0M126.49 137.53h0M91.84 149.78h0M89.31 148.56h0M108.73 142.2h0M103.43 136.82h0M113.92 146.98h0M106.06 139.01h0M109.69 127.68h0M86.04 149.5h0M73.8 120.54h0M104.08 135.7h0M103.76 131.1h0M81.05 137.87h0M78.86 141.03h0M101.48 135.79h0M96.14 148.47h0M103.15 149.7h0M104.97 140.23h0M106.46 128.92h0M110.46 138.42h0M84.67 140.6h0M103.46 148.7h0M102.5 135.42h0M105.67 128.38h0M68.63 144.23h0M79.25 139.47h0M81.98 133.51h0M95.48 150.08h0M108.49 126.88h0M85.23 149.5h0M104.2 130.36h0M86.83 143.4h0M88.35 147.57h0M78.98 148.79h0M103 132.96h0M80.09 127.56h0M101.93 135.95h0M132.01 147.33h0M88.65 148.93h0M112.05 133.87h0M80.58 148.57h0M111.31 127.02h0M105.37 130.27h0M77.34 147h0M81.44 130.36h0M108.12 149.67h0M87.22 142h0M96.8 149.55h0M86.12 140.31h0M97.96 144.87h0M104.23 141.81h0M100.44 137.85h0M115.53 147.14h0M103.31 136.72h0M79.84 134.18h0M102.83 140.71h0M85.6 149.34h0M74.13 131.35h0M82.54 149.23h0M80.72 129.51h0M101.59 141.85h0M84.33 135.32h0M76.49 136.26h0M85.11 137.26h0M77.47 147.51h0M89.8 149.55h0M84.56 142.16h0M109.36 126.37h0M107.14 125.06h0M76.92 124.16h0M84.76 137.69h0M77.16 130.59h0M110 129.28h0M76.44 122.4h0M78.05 125.21h0M118.38 141.92h0M108.28 131.8h0M98.04 145.17h0M69.74 145.43h0M73.82 148.28h0M76.06 142.17h0M82.14 143.67h0M97.68 149.05h0M80.65 145.8h0M79.39 128.34h0M96.41 149.76h0M103.19 133.46h0M108.48 129.58h0M97.73 148.19h0M84.99 136.55h0M103.21 148.63h0M108.49 133.46h0M85.49 143.2h0M86.37 144.42h0M82.5 131.91h0M105.89 148.02h0M80.38 139.27h0M87.18 146.66h0M100.08 137.24h0M106.17 138.01h0M79.54 128.74h0M96.91 148.26h0M111.65 132.39h0M87.49 147.8h0M111.31 150.26h0M89.44 150.27h0M97.76 145.94h0M78.78 126.8h0M98.99 141.55h0M105.86 130.49h0M69.92 125.3h0M110.87 142.25h0M80.24 127.29h0M128.73 147.76h0M113.11 140.63h0M112.84 144.6h0M81.13 129.46h0M108.84 146.24h0M106.46 150.12h0M82.31 136.34h0M84.03 134.6h0M84.39 149.77h0M87.57 145.55h0M101.83 148.24h0M103.24 132.7h0M104.03 140.91h0M83.44 138.8h0M106.51 149.09h0M75.2 139.42h0M100.97 143.59h0M90.12 149.76h0M105.14 145.91h0M108.87 130.3h0M105.06 147.52h0M73.66 125.7h0M111.5 146.57h0M78.85 124.81h0M100.66 146.19h0M102.83 140.5h0M77.24 133.9h0M101.55 139.05h0M104.26 133.93h0M100.28 137.16h0M85.78 144.98h0M86.61 140.49h0M97.19 144.47h0M112.64 124.67h0M86.81 143.32h0M72.92 148.83h0M105.09 127.8h0M96.86 148.6h0M97.83 148.66h0M86.93 141.9h0M112.67 148.86h0M85.49 142.84h0M96.28 149.44h0M106.25 148.26h0M104.26 133.35h0M97.98 144.03h0M109.99 129.02h0M77.92 125.32h0M71.89 139.92h0M88.28 146.93h0M72.21 138.62h0M78.42 143.98h0M72.26 146.9h0M78.94 126.94h0M79.22 131.02h0M78.85 141.84h0M77.27 132.11h0M109.41 142.43h0M80.77 149.14h0M99.93 149.05h0M107.29 132.99h0M105.92 147.77h0M87.27 146.27h0M105.14 135.65h0M102.37 147.04h0M104.88 146.81h0M73.61 130.73h0M83.55 133.89h0M82.68 133.7h0M77.13 122.41h0M73.6 121.63h0M100.22 137.99h0M129.27 145.88h0M87.52 144.04h0M101.46 147.43h0M84.43 139.48h0M102.63 132.02h0M103.23 130.47h0M101.73 133.48h0M80.55 127.65h0M88.06 148.19h0M100.02 149.51h0M103.33 145.14h0M105.27 145.76h0M83.5 133.7h0M82.11 144.35h0M83 139.06h0M89.75 149.39h0M77.4 136.39h0M74.22 144.63h0M80.85 128.47h0M105.44 145.2h0M85.93 142.95h0M110.05 147.2h0M83.84 142.14h0M103.92 131.28h0M97.48 147.94h0M101.49 141.71h0M98.32 142.12h0M103.74 139.04h0M76.02 149.24h0M80.14 147.1h0M130.72 131.11h0M94.2 149.48h0M105.75 128.6h0M105.79 129.06h0M104.24 139.55h0M68.57 142.39h0M108.35 123.47h0M76.01 127.71h0M105.44 138.08h0M98.39 143.49h0M77.68 134.37h0M100.59 137.17h0M84.03 136.91h0M99.96 148.53h0M85.71 149.17h0M88.28 149.58h0M80.42 146.73h0M107.16 124.04h0M114.91 148.15h0M77.98 126.4h0M107.45 124.22h0M83.42 139.01h0M84.12 136.44h0M99.43 149.5h0M102.2 148.82h0M105.07 129.22h0M99.48 140.03h0M100.8 135.72h0M103.75 141.37h0M99.13 144.7h0M67.46 138.98h0M80.77 139.31h0M104.32 146.17h0M88 147.78h0M78.67 124.82h0M75.78 134.16h0M76.44 134.73h0M90.93 149.93h0M86.32 147.62h0M104.58 128.04h0M99.58 150.13h0M103.08 132.93h0M92.8 150.26h0M76.39 133.01h0M85.18 148.98h0M96.03 148.76h0M112.72 141.13h0M115.06 129.44h0M104.7 127.43h0M118.41 146.03h0M99.12 140.23h0M80.51 134.16h0M77.05 123.46h0M102.87 144.65h0M106.96 133.69h0M85.87 147.63h0M84.6 138.44h0M78.52 127.8h0M104.04 140.34h0M86.32 139.88h0M99.86 143.18h0M77.5 124.16h0M104.15 139.83h0M100.7 138.05h0M79.09 133.26h0M104.48 136.74h0M82.04 143.67h0M100.02 143.54h0M80.42 133.7h0M80.45 142.79h0M101.74 138.99h0M87.35 149.69h0M104.87 127.26h0M97.32 148.09h0M81.61 129.86h0M72.49 125.41h0M116.55 143.38h0M109.2 129.1h0M78.25 124.42h0M110.93 146.43h0M99.47 141.04h0M87.23 148.52h0M95.94 149.18h0M98.01 143.64h0M103.55 130.8h0M101.99 144.17h0M98.88 147.35h0M77.42 147.96h0M83.21 147.46h0M103.97 131.12h0M99.48 148.79h0M116.53 149.16h0M81.99 134.59h0M111.86 144.34h0M86.82 145.3h0M113.62 136.79h0M77.06 140.03h0M80.2 137.81h0M123.72 136.48h0M103.7 132.34h0M133.68 146.29h0M98.66 142.69h0M107.8 124.18h0M135.14 143.87h0M108 127.46h0M85.46 147.84h0M104.49 135.96h0M107.35 140.92h0M91.09 149.5h0M84.81 148.51h0M86.19 148.66h0M97.76 143.08h0M77.64 141.75h0M100.27 136.85h0M112.34 128.23h0M104.88 137.6h0M83.98 136.59h0M80.06 127.35h0M78.8 130.58h0M101.89 133.64h0M107.01 132.99h0M105.35 127.41h0M103.91 131.8h0M83.78 144.21h0M103.39 131.83h0M74.92 130.88h0M109.21 146.33h0M101.41 133.88h0M121.56 129.4h0M108.03 144.17h0M97.58 148.99h0M80.19 136.36h0M117.23 124.71h0M82.04 136.37h0M85.43 147.61h0M78.74 124.35h0M105.26 130.71h0M106.79 126.71h0M99.67 144.42h0M102.7 138.37h0M82.03 146.44h0M78.37 130.77h0M73.51 135.13h0M79.8 126.97h0M98.27 141.5h0M109.07 148.68h0M103.03 148.87h0M77.58 127.51h0M83.92 144.62h0M110.89 138.95h0M106.83 148.51h0M96.46 148.89h0M76.48 123.11h0M95.44 148.74h0M96.1 149.44h0M89.34 148.99h0M107.41 124.68h0M83.82 149.57h0M87.2 142.96h0M102.69 136.69h0M106.52 128.95h0M80.98 129.71h0M83.17 147.15h0M80.1 137h0M102.87 139.29h0M103.15 148.74h0M97.78 144.08h0M97.07 149.89h0M100.5 146h0M81.69 138.17h0M86.01 142.23h0M84.97 149.93h0M108.93 139.66h0M81.53 137.74h0M81.11 129.57h0M78.98 145.3h0M105.55 128.8h0M105.01 131.9h0M117.13 145.87h0M78.1 138.65h0M77.85 123.91h0M81.84 147.92h0M83.57 138.3h0M103.21 134.75h0M78.77 127.09h0M84.5 140.85h0M117.89 137.64h0M105.41 141.25h0M131.28 145.53h0M102.84 138.94h0M84.58 135.81h0M125.78 147.47h0M94.93 149.7h0M97.61 146.72h0M111.5 148.63h0M87.53 146.93h0M119.75 145.35h0M114.98 148.94h0M80.31 129h0M103.85 138.65h0M105.38 137.42h0M80.21 146.67h0M102.17 136.51h0M92.68 150.24h0M85.97 143.71h0M104.4 132.73h0M83.35 134.31h0M89.4 148.83h0M107.86 144.27h0M70.36 118.41h0M98.52 147.96h0M102.18 132.41h0M83.6 133.29h0M71.74 145.03h0M78.59 125.81h0M96.16 150.02h0M98.95 146.31h0M101.01 134.83h0M73.65 129.12h0M88.67 148.79h0M101.42 139.98h0M80.82 133.11h0M86.35 140.31h0M106.2 141.48h0M96.69 147.13h0M107.85 144.33h0M83.25 149.41h0M107.04 131.8h0M85.7 145.95h0M72.94 125.96h0M68.68 131.82h0M101.34 141.3h0M101.58 135.8h0M81.68 149.36h0M98.45 140.76h0M102.71 148.62h0M81.7 131.9h0M102.26 146.5h0M98.42 146.29h0M104.84 130.82h0M104.15 149.68h0M100.37 139.56h0M74.45 120.68h0M98.3 147.74h0M76 122.69h0M106.36 130.29h0M80.59 138.89h0M126.3 145.69h0M101.56 148.85h0M77.91 127.97h0M81.52 143.2h0M82.99 144.52h0M76.96 145.56h0M83.36 148.95h0M100.87 137.66h0M103.06 131h0M80.22 136.87h0M112.07 143.14h0M68.53 144.37h0M79.92 142.75h0M98.99 142.58h0M85.53 142h0M101.95 134.95h0M102.73 138.69h0M85 149.45h0M77.89 123.22h0M110.97 148.67h0M72.36 146.8h0M99 142.12h0M97.14 148.63h0M115.9 148.15h0M92.92 149.77h0M71.03 145.94h0M103.87 145.78h0M80.14 141.5h0M86.05 146.8h0M100.37 136.49h0M107.19 131.68h0M110.34 138.88h0M78.01 126.16h0M86.94 143.59h0M101.46 136.29h0M84.44 145.53h0M111.46 126.64h0M78.02 123.26h0M106.24 149.31h0M102.91 134.02h0M103.55 131.33h0M98.11 149.66h0M80.32 129.05h0M75.58 150.13h0M82.69 142.01h0M108.8 128.27h0M83.53 135.13h0M107.94 132.55h0M81.14 133.87h0M85.26 149.96h0M106.52 148.39h0M86.97 146.75h0M106.54 146.92h0M106.43 125.4h0M68.59 130.11h0M101.76 150.31h0M103.18 145.45h0M85.39 148.41h0M103.31 139.75h0M105.21 128.69h0M82.94 142.1h0M120.18 148.08h0M103.83 146.14h0M101.59 136.19h0M75.99 119.65h0M102.81 145.34h0M92.38 150.21h0M99.7 142.62h0M111.66 149.72h0M78.91 130.25h0M97.47 145.9h0M76.46 131.18h0M106.32 128.67h0M107.19 129.69h0M103.33 130.79h0M100.51 149.99h0M105.74 142.55h0M103.89 150.18h0M107.82 129.55h0M98.06 149.83h0M73.4 119.46h0M104.46 144.91h0M101.59 142.16h0M106.74 137.48h0M100.92 149.87h0M86.92 149.86h0M87.58 145.63h0M81.67 134.57h0M108.63 148.57h0M101.64 133.48h0M117.38 145.87h0M102.4 136.83h0M105.29 129.58h0M79.88 144.93h0M84.56 137.84h0M107.67 148.76h0M100.68 147.79h0M72.41 146.67h0M81.43 131.65h0M84.64 146.89h0M77.53 137.45h0M108.49 132.46h0M106.86 144.68h0M101.06 143.94h0M86.76 145.8h0M115.62 147.43h0M88.49 147.77h0M78.97 148.83h0M71.37 144.19h0M113.5 146.69h0M103.59 136.45h0M89.66 148.56h0M104.17 137.32h0M79.79 126.84h0M84.43 141.04h0M99.43 144.94h0M99.66 149.11h0M115.44 145.99h0M87.68 145.12h0M78.56 124.3h0M97.7 145.11h0M116.85 139.45h0M98.13 147.78h0M113.98 140.04h0M128.88 144.62h0M98.68 143.66h0M116.2 128.54h0M103.89 150.11h0M83.22 139.04h0M118.23 127.82h0M83.13 149.34h0M96.96 148.58h0M107.75 124.45h0M82.99 146.07h0M80.12 127.94h0M80.5 127.6h0M121.08 141.76h0M108.23 131.67h0M86.63 141.32h0M82.44 134.67h0M108.73 129.02h0M104.79 129.57h0M103.37 130.07h0M106.88 141.61h0M106.17 126.37h0M124.02 144.8h0M79.21 127.49h0M83.06 138.98h0M103.48 135.97h0M123.42 132.69h0M104.8 127.92h0M82.37 140.03h0M98.87 146.54h0M103.53 142.41h0M77.42 134.56h0M105.4 129.22h0M75.97 137.16h0M105.64 128.02h0M101.46 143.84h0M80.41 128.58h0M82.24 130.82h0M86.46 144.73h0M94.13 149.5h0M83.15 146.88h0M82.82 141.31h0M79.69 149.56h0M102.9 131.99h0M83.36 141.05h0M78.66 127.62h0M107 133.21h0M81.38 132.56h0M79.75 126.47h0M81.95 138.41h0M102.83 146.93h0M103.67 132.17h0M79.87 133.75h0M102.32 147.62h0M100.51 143.52h0M97.4 149.88h0M83.89 144.64h0M104.3 131.2h0M74.88 123.97h0M81.47 133.16h0M104.77 130.74h0M82.36 147.4h0M79.57 146.5h0M97.84 149.13h0M105.03 146.26h0M101.83 148.78h0M80.07 129.31h0M82.49 137.06h0M90 149.75h0M101.93 142.97h0M106.84 126.02h0M80.35 127.29h0M107.11 138.63h0M104.95 130.65h0M103.98 145.75h0M113.43 125.15h0M80.76 133.3h0M88.87 148.68h0M84.46 142.96h0M86.11 142.69h0M97.89 146.68h0M105.59 126.03h0M77.38 122.14h0M110.68 149.31h0M108.9 144.74h0M100.72 138.78h0M103.89 148.04h0M82.02 130.21h0M82.68 142.4h0M77.49 149.14h0M72.91 148.65h0M79.08 129.36h0M103.04 146.6h0M99.35 147.57h0M79.53 126.43h0M105.19 128.64h0M76.14 125.16h0M104.79 133.1h0M85.21 148.78h0M102.7 133.94h0M85.96 139.43h0M108.42 148.97h0M106.93 126.74h0M86.41 146.07h0M113.55 139h0M81.53 129.4h0M74.14 141.89h0M105.91 132.59h0M88.75 148.96h0M104.07 145.69h0M105.92 126.12h0M75.25 121.41h0M74.29 136.1h0M128.59 145.87h0M88.72 147.74h0M95.45 149.67h0M78.97 137.74h0M78.26 145.76h0M102.76 138.8h0M96.3 150.01h0M78.79 139.96h0M99.53 141.65h0M99.09 142.86h0M102.82 146.05h0M97.55 145.04h0M100.69 139.98h0M120.1 148.23h0M105.93 134.03h0M99.08 143.21h0M96.55 149.45h0M98.63 140.95h0M106.04 133.62h0M83.78 139.76h0M80.96 131.15h0M101.25 139.41h0M109.81 139.85h0M114.61 133.39h0M84.05 136.01h0M82.89 146.8h0M97.16 150h0M86.41 144.22h0M107.98 126.27h0M111.23 148.91h0M97.9 148.98h0M97.78 143.24h0M102.77 135.4h0M76.98 121.52h0M111.41 145.11h0M82.24 138.37h0M102.87 133.12h0M81.53 144.6h0M104.45 132.08h0M95.34 148.83h0M96.8 149.91h0M84.6 135.42h0M118.45 136.44h0M101.72 143.64h0M105.37 134.13h0M105.42 148.53h0M110.65 138.72h0M111.81 144.17h0M72.05 118.76h0M125.33 144.16h0M108.98 149.47h0M102.6 133.51h0M78.57 124.52h0M90.17 149.62h0M101.58 134.71h0M78.34 125.54h0M102.89 133.15h0M134.22 145.59h0M83.32 134.65h0M110.27 130.97h0M74.4 132.43h0M77.67 122.73h0M84.15 138.4h0M106.95 130.48h0M106.47 124.96h0M108.77 136.82h0M107.49 143.99h0M77.62 143.92h0M116.08 137.11h0M85.4 139.91h0M103.15 148.39h0M82.65 138.46h0M99.93 146.84h0M104.59 138.21h0M83.21 144.71h0M109.26 128.27h0M120.09 145.27h0M103.93 138.07h0M114.73 148.91h0M102.2 149.97h0M79.5 128.97h0M102.18 139.08h0M102.32 137.48h0M105.38 145.69h0M103.58 142.65h0M77.44 142.57h0M108.62 148.91h0M78.36 124.59h0M87.52 145.88h0M104.71 134.77h0M121.55 137.25h0M74.62 137.65h0M107.56 141.58h0M93.42 149.72h0M75.91 126.39h0M91.92 150.25h0M82.05 133.32h0M125.23 124.45h0M104.71 134.95h0M92.22 150.26h0M84.91 138.72h0M75.86 123.52h0M97.26 145.15h0M115.18 141.4h0M83.4 137.91h0M76.37 125.94h0M102.46 134.8h0M103.42 130.47h0M102.1 132.23h0M89.9 148.77h0M106.1 150.18h0M99.08 147.84h0M88.66 149.82h0M106.13 133.75h0M75.69 141.64h0M96.56 148.96h0M98.42 148.5h0M105.38 146.68h0M103.51 149.55h0M123.3 140.8h0M114.51 143.7h0M86.09 143.74h0M100.77 139.15h0M91.95 150.24h0M80.34 129.61h0M81.52 131.55h0M106.65 137.77h0M84.5 139.77h0M105.51 132.14h0M95.48 150.06h0M118.71 148.19h0M104.73 143.06h0M104.9 148.29h0M101.97 137.08h0M104.19 149.41h0M115.01 147.61h0M118.25 139.64h0M87.7 148.16h0M109.12 126.67h0M84.75 136.27h0M107.83 126.28h0M107.68 145.77h0M106.3 132.77h0M102.52 147.72h0M83.25 142.96h0M100.91 138.31h0M87.07 142.53h0M98.39 146.84h0M81.34 140.63h0M79.17 128.29h0M97.05 146.38h0M103.57 139.63h0M99.2 147.33h0M78.82 131.63h0M76.65 123.64h0M78.01 124.03h0M103.63 133.59h0M86.03 144.09h0M86.33 141.7h0M83.56 138.14h0M105.73 129.83h0M111.34 124.18h0M75.67 126.51h0M72.02 117.24h0M102.53 141.47h0M85.01 145.09h0M101.49 142.67h0M76.02 140.65h0M81.22 129.39h0M105.58 126.86h0M103.03 131.63h0M73.98 121.32h0M85.72 149.29h0M79.94 129.06h0M78.71 124.62h0M106.71 133.3h0M102.53 146.89h0M122.74 133.3h0M111.42 149.24h0M105.57 143h0M103.47 143.96h0M100.3 142.77h0M103.39 130.34h0M104.19 130.37h0M100.41 139.74h0M76.87 125.93h0M75.37 141.74h0M115.84 148.68h0M106.12 140.11h0M76.74 121.32h0M103.09 132.2h0M109.95 132.75h0M111.79 145.38h0M106.52 143.24h0M106.78 127.1h0M104.17 148.34h0M95.82 148.58h0M132.54 131.82h0M110.51 148.67h0M105 134.89h0M83.72 140.85h0M84.53 136.98h0M85.96 148.42h0M81.75 140.39h0M104.99 127.21h0M86.11 142.23h0M114.16 131.47h0M107.69 144.29h0M74.29 149.16h0M87.79 146h0M99.06 149.38h0M78.74 125.28h0M109.82 148.06h0M87.91 146.15h0M81.35 149.25h0M82.35 137.9h0M109.83 134.99h0M77.26 130h0M103.82 130.42h0M99.05 144.15h0M106.58 139.8h0M107.68 133.14h0M98.56 145.88h0M86.06 140.5h0M115.75 141.94h0M105.52 133.45h0M78.07 128.51h0M118.44 129.55h0M109.64 148.16h0M79.68 135.52h0M85.81 149.32h0M85.11 145.2h0M101.39 148.69h0M76.54 133.11h0M74.69 119.4h0M100.55 136.91h0M79.04 126.99h0M97.96 149.89h0M84.85 137h0M86.61 148.56h0M84.46 135.44h0M100.53 145.8h0M102.63 147.24h0M100.62 142.29h0M103.08 134.01h0M82.64 148.14h0M101.45 143.14h0M86.52 142.45h0M96.42 147.73h0M102.36 147.34h0M102 150.25h0M105.16 138.13h0M86.44 143.59h0M96.96 146.55h0M108.57 137.48h0M108.98 129h0M111.27 143.83h0M83.73 147.41h0M119.06 123.21h0M80.03 132.56h0M111.71 145.03h0M117.23 134.52h0M86.48 144.75h0M109.03 130.61h0M102.31 140.94h0M85.6 143.72h0M103.53 148.93h0M110.8 138.61h0M97.68 144.3h0M104.1 129.94h0M83.15 136.88h0M100.13 149.81h0M134.35 145.07h0M81.62 129.36h0M96.78 149.94h0M100.49 146.35h0M100.84 148.24h0M106.17 129.69h0M84.71 149.88h0M103.62 133.05h0M82.72 139.03h0M102.62 149.29h0M79.1 133.51h0M100.19 139.26h0M109.03 145.97h0M103.51 132.97h0M97.37 144.87h0M104.03 134.64h0M78.51 132.91h0M101.8 132.87h0M106.99 127.61h0M101.54 146.56h0M87.47 149.66h0M80.28 147.69h0M125.47 148.22h0M77.53 124.13h0M97.5 146.17h0M112.31 141.41h0M84.53 145.21h0M76.05 126.59h0M80.84 136.55h0M85.92 140.73h0M121.87 146.35h0M98.33 142.23h0M102.1 136.11h0M78.68 133.56h0M81.22 129.18h0M80.28 126.92h0M78.3 125.05h0M76.35 122.83h0M104.72 129.08h0M75.34 120.76h0M77.95 147.35h0M79.48 149.78h0M106.09 128.34h0M80.1 143.3h0M77.06 132.58h0M79.08 132.62h0M103.12 134.67h0M98.25 147.51h0M85.06 138.46h0M119.48 146.42h0M73.67 122.19h0M74.36 134.8h0M83.31 136.31h0M78.37 142.58h0M82.05 146.63h0M69.93 129.32h0M78.38 125.84h0M88.67 148.01h0M77.29 127.89h0M79.95 132.53h0M80.42 132.18h0M102.48 148.76h0M102.31 141.24h0M97.71 143.87h0M78.11 124.08h0M74.99 119.95h0M107.36 137.71h0M87.91 146.4h0M104.59 149.05h0M80.88 149.2h0M78.46 124.26h0M85.8 142.78h0M87.91 145.32h0M109.68 144.63h0M102.37 134.01h0M102.33 144.8h0M81.63 129.49h0M79.05 127.21h0M86.48 149.2h0M84.6 147.46h0M78.46 124.73h0M116.64 139.65h0M85.44 138.49h0M100.12 137.36h0M99.57 147.59h0M114.29 146.87h0M77.78 134.36h0M85.97 147.07h0M82.84 147.34h0M83.77 139.48h0M109.51 130.2h0M95.81 148.82h0M97.56 146.34h0M74.33 120h0M90.67 149.49h0M110.38 127.78h0M97.25 145.24h0M100.57 147.84h0M102.85 141.76h0M107.23 149.66h0M109.37 145.96h0M107.22 140.13h0M103.43 142.4h0M111.74 150.13h0M79.11 146.77h0M106.26 126.72h0M103.61 135.45h0M89.68 149.19h0M118.7 145.41h0M76.68 121.45h0M108.84 138.82h0M88.72 147.44h0M78.7 125.87h0M108.64 126.4h0M86.31 143.38h0M107.11 141.49h0M103 133h0M107.36 129.54h0M77.66 148.88h0M77.48 134.46h0M85.91 146.03h0M85.45 138.38h0M104.78 129.98h0M99.58 139.14h0M79.62 130.95h0M109.76 141.94h0M104.59 129.76h0M96.55 149.14h0M104.23 139.19h0M125.23 140.04h0M90.91 150.06h0M110.74 149.13h0M78.59 124.21h0M78 125.07h0M99.13 150.17h0M113.1 134.9h0M105.32 127.26h0M88.32 148.81h0M75.97 130.5h0M89.03 148.06h0M95.35 149.85h0M79.32 128.22h0M96.1 149.52h0M98.61 147.93h0M74.65 124.76h0M76.52 120.63h0M114.78 142.7h0M106.05 137.19h0M100.2 146.8h0M99.43 145.98h0M79.51 126.67h0M76.83 121.42h0M108.58 146.01h0M108.66 134.13h0M102.83 131.71h0M103.8 134.09h0M112.05 141.33h0M81.42 136.74h0M99.7 142.48h0M110.23 147.36h0M101.19 136.26h0M85.56 140.21h0M86.53 148.37h0M86.86 148.68h0M102.15 147.87h0M81.34 129.64h0M82.34 134.2h0M85.02 140.87h0M118.58 148.88h0M76.98 126.39h0M101.5 136.3h0M96.74 146.4h0M77.53 128.04h0M79.24 140.4h0M112.61 143.08h0M90.14 149.12h0M113.67 147.84h0M105.65 136.12h0M102.49 144.09h0M116.87 132.99h0M115.32 132.33h0M99.44 141.93h0M122.48 141.57h0M129.87 145.69h0M105.92 132.19h0M84.18 136.6h0M80.63 141.76h0M78.52 130.64h0M104.79 143.03h0M103.13 146.11h0M99.22 147.05h0M116.27 135.38h0M101.54 137.71h0M75.16 142.31h0M105.18 140.04h0M83.71 144.59h0M96.59 148.56h0M98.06 148.83h0M79.69 145.12h0M104.48 149.68h0M102.63 134.51h0M84.8 144.95h0M98.76 142.54h0M102.62 148.52h0M80.69 127.81h0M107.63 148.65h0M116.33 137.9h0M84.31 145.52h0M104.93 130.26h0M69.72 144.34h0M80.16 128.04h0M104.93 129.05h0M84.9 136.17h0M83.66 134.78h0M96.95 149.88h0M87.21 149.32h0M106.98 123.33h0M79.73 127.12h0M78.08 133.79h0M110.71 135.27h0M86.05 139.76h0M128.02 147.16h0M109.62 135.47h0M102.53 140.42h0M127.81 145.65h0M104.91 148.44h0M106.57 133.01h0M84.22 136.45h0M111.07 148.56h0M81.65 149.79h0M107.16 134.16h0M86.07 143.57h0M103.18 134.89h0M123.55 136.75h0M74.7 128.76h0M77.9 138.86h0M82.01 131.29h0M80.68 145.98h0M83.78 138.8h0M117.42 148.3h0M86.98 142.99h0M82.98 139.3h0M72.34 147.48h0M104.29 128.3h0M112.2 147.07h0M86.78 146.3h0M118.3 145.7h0M101.69 137.74h0M83.04 149.33h0M99.58 140.73h0M104.98 143.16h0M87.44 148.61h0M77.99 124.13h0M119.4 148.38h0M79.78 128.04h0M107.33 127.41h0M75.19 144.24h0M105.14 150.27h0M104.61 128.26h0M82.25 148.59h0M99.65 140.2h0M109.35 126.91h0M71.29 136.67h0M98.05 145.69h0M76.42 132.4h0M106.83 134.6h0M80.49 129.3h0M116.84 129.99h0M101.13 142.39h0M78.78 125.33h0M88.08 149.95h0M83.14 136.19h0M100.21 140.99h0M82.9 148.21h0M130.59 141.92h0M78.36 125.46h0M83.25 145.24h0M85.61 138.7h0M108.35 129.77h0M105.93 140.85h0M126.24 129.34h0M105.94 126.96h0M81.02 134.92h0M101.68 134.92h0M116.96 133.46h0M131.23 64.11h0M138.74 82.87h0M155.37 134.45h0M150.54 139.14h0M146.79 139.5h0M138.74 143.1h0M134.45 136.97h0M139.81 132.64h0M132.3 147.07h0M128.01 142.02h0M124.79 127.59h0M125.86 134.81h0M120.5 120.38h0M116.21 117.49h0M113.52 118.94h0M111.91 103.43h0M108.69 108.48h0M108.16 111.72h0M112.99 115.33h0M53.44 143.46h0M58.26 144.91h0M63.63 142.74h0M65.77 38.86h0M67.92 105.59h0M70.07 104.51h0M72.21 108.48h0M74.36 107.03h0M76.5 99.1h0M75.43 102.34h0M78.65 114.61h0M71.14 69.52h0M72.21 81.42h0M64.7 138.41h0M67.92 133.37h0M60.41 149.96h0M78.11 111.72h0M76.5 113.17h0M73.82 112.44h0M75.43 109.56h0M77.58 107.39h0M72.75 104.87h0M75.97 105.23h0M78.65 103.79h0M73.82 101.26h0M71.14 113.89h0M77.04 116.77h0M74.9 116.05h0M118.35 131.56h0M121.57 136.97h0M123.72 140.58h0M128.01 138.41h0M131.23 143.46h0M119.42 124.71h0M115.13 124.35h0M129.08 149.24h0M135.52 148.51h0M122.64 147.79h0" stroke="#666" stroke-width="1.9" stroke-linecap="round" fill="none"/>
<path d="M66.85 20.83h0M64.17 36.7h0M71.68 57.62h0M70.6 68.44h0M71.68 76.37h0M71.14 79.26h0M70.07 81.78h0M68.99 83.59h0M64.7 85.03h0M72.21 85.03h0M73.29 89h0M74.36 89h0M70.07 91.16h0M74.36 95.13h0M71.68 97.3h0M74.9 99.82h0M77.04 99.82h0M75.43 103.07h0M76.5 106.67h0M64.7 105.95h0M62.56 108.84h0M75.97 109.92h0M74.36 115.33h0M72.21 115.69h0M72.75 120.38h0M73.29 128.32h0M80.8 122.54h0M81.87 126.15h0" stroke="#f01010" stroke-width="1.9" stroke-linecap="round" fill="none"/>
<text x="62.5" y="27.8" font-size="4.8" text-anchor="middle" fill="#f01010" stroke="#f01010" stroke-width="0.12">HIST1H1D</text>
<text x="67.5" y="35.8" font-size="4.8" text-anchor="middle" fill="#f01010" stroke="#f01010" stroke-width="0.12">HIST1H1B</text>
<text x="75.5" y="56.2" font-size="4.8" text-anchor="middle" fill="#f01010" stroke="#f01010" stroke-width="0.12">HIST1H2AH</text>
<text x="79" y="64.8" font-size="4.8" text-anchor="middle" fill="#f01010" stroke="#f01010" stroke-width="0.12">HIST1H2AJ</text>
<text x="51.5" y="71" font-size="4.8" text-anchor="middle" fill="#f01010" stroke="#f01010" stroke-width="0.12">HIST1H4E</text>
<text x="85.5" y="71.6" font-size="4.8" text-anchor="middle" fill="#f01010" stroke="#f01010" stroke-width="0.12">HIST1H2AI</text>
<text x="58" y="77.6" font-size="4.8" text-anchor="middle" fill="#f01010" stroke="#f01010" stroke-width="0.12">HIST1H4M</text>
<text x="86" y="78.2" font-size="4.8" text-anchor="middle" fill="#f01010" stroke="#f01010" stroke-width="0.12">HIST1H4D</text>
<text x="85" y="88" font-size="4.8" text-anchor="middle" fill="#f01010" stroke="#f01010" stroke-width="0.12">HIST1H2BI</text>
<text x="54.5" y="91.3" font-size="4.8" text-anchor="middle" fill="#f01010" stroke="#f01010" stroke-width="0.12">HIST1H2BD</text>
<text x="92.5" y="123.9" font-size="4.8" text-anchor="middle" fill="#f01010" stroke="#f01010" stroke-width="0.12">HIST1H2AG</text>
<text x="59.5" y="126.8" font-size="4.8" text-anchor="middle" fill="#f01010" stroke="#f01010" stroke-width="0.12">HIST2H4A</text>
<text x="88" y="133.8" font-size="4.8" text-anchor="middle" fill="#f01010" stroke="#f01010" stroke-width="0.12">HIST1H2BF</text>
<text x="80.5" y="141.6" font-size="4.8" text-anchor="middle" fill="#f01010" stroke="#f01010" stroke-width="0.12">HIST1H2BN</text>
<line x1="62" y1="68.6" x2="70" y2="70" stroke="#f01010" stroke-width="0.5"/>
<text stroke="#000" stroke-width="0.22" x="169" y="13.8" font-size="13.5" text-anchor="start" fill="#000">B.</text>
<text stroke="#000" stroke-width="0.22" x="262.5" y="8.2" font-size="9" text-anchor="middle" fill="#000" font-style="italic">Histones (48 h)</text>
<g shape-rendering="crispEdges">
<rect x="230.7" y="12.2" width="16.72" height="9.85" fill="#f01c14"/>
<rect x="247.12" y="12.2" width="16.72" height="9.85" fill="#8c100c"/>
<rect x="263.53" y="12.2" width="16.72" height="9.85" fill="#6a0a08"/>
<rect x="279.95" y="12.2" width="16.72" height="9.85" fill="#1e3a6c"/>
<rect x="296.37" y="12.2" width="16.72" height="9.85" fill="#3a72d8"/>
<rect x="312.78" y="12.2" width="16.72" height="9.85" fill="#3a72d8"/>
<rect x="230.7" y="21.75" width="16.72" height="9.85" fill="#ff2014"/>
<rect x="247.12" y="21.75" width="16.72" height="9.85" fill="#80100c"/>
<rect x="263.53" y="21.75" width="16.72" height="9.85" fill="#600808"/>
<rect x="279.95" y="21.75" width="16.72" height="9.85" fill="#2e5cb0"/>
<rect x="296.37" y="21.75" width="16.72" height="9.85" fill="#3a76dc"/>
<rect x="312.78" y="21.75" width="16.72" height="9.85" fill="#24488a"/>
<rect x="230.7" y="31.3" width="16.72" height="9.85" fill="#b81610"/>
<rect x="247.12" y="31.3" width="16.72" height="9.85" fill="#9c120e"/>
<rect x="263.53" y="31.3" width="16.72" height="9.85" fill="#a0120e"/>
<rect x="279.95" y="31.3" width="16.72" height="9.85" fill="#2c56a4"/>
<rect x="296.37" y="31.3" width="16.72" height="9.85" fill="#3468c8"/>
<rect x="312.78" y="31.3" width="16.72" height="9.85" fill="#3870d4"/>
<rect x="230.7" y="40.85" width="16.72" height="9.85" fill="#f41c14"/>
<rect x="247.12" y="40.85" width="16.72" height="9.85" fill="#90100c"/>
<rect x="263.53" y="40.85" width="16.72" height="9.85" fill="#640a08"/>
<rect x="279.95" y="40.85" width="16.72" height="9.85" fill="#2c5aaa"/>
<rect x="296.37" y="40.85" width="16.72" height="9.85" fill="#3468c8"/>
<rect x="312.78" y="40.85" width="16.72" height="9.85" fill="#2c5aac"/>
<rect x="230.7" y="50.4" width="16.72" height="9.85" fill="#b41610"/>
<rect x="247.12" y="50.4" width="16.72" height="9.85" fill="#88100c"/>
<rect x="263.53" y="50.4" width="16.72" height="9.85" fill="#d01c14"/>
<rect x="279.95" y="50.4" width="16.72" height="9.85" fill="#3a76e0"/>
<rect x="296.37" y="50.4" width="16.72" height="9.85" fill="#3266c4"/>
<rect x="312.78" y="50.4" width="16.72" height="9.85" fill="#284e98"/>
<rect x="230.7" y="59.95" width="16.72" height="9.85" fill="#94120e"/>
<rect x="247.12" y="59.95" width="16.72" height="9.85" fill="#5a0808"/>
<rect x="263.53" y="59.95" width="16.72" height="9.85" fill="#04060c"/>
<rect x="279.95" y="59.95" width="16.72" height="9.85" fill="#4690ff"/>
<rect x="296.37" y="59.95" width="16.72" height="9.85" fill="#3468c8"/>
<rect x="312.78" y="59.95" width="16.72" height="9.85" fill="#d01c14"/>
<rect x="230.7" y="69.5" width="16.72" height="9.85" fill="#380404"/>
<rect x="247.12" y="69.5" width="16.72" height="9.85" fill="#94120e"/>
<rect x="263.53" y="69.5" width="16.72" height="9.85" fill="#ff2014"/>
<rect x="279.95" y="69.5" width="16.72" height="9.85" fill="#3a78e4"/>
<rect x="296.37" y="69.5" width="16.72" height="9.85" fill="#2c58a8"/>
<rect x="312.78" y="69.5" width="16.72" height="9.85" fill="#204078"/>
<rect x="230.7" y="79.05" width="16.72" height="9.85" fill="#ff2014"/>
<rect x="247.12" y="79.05" width="16.72" height="9.85" fill="#580808"/>
<rect x="263.53" y="79.05" width="16.72" height="9.85" fill="#6a0a08"/>
<rect x="279.95" y="79.05" width="16.72" height="9.85" fill="#3a76e0"/>
<rect x="296.37" y="79.05" width="16.72" height="9.85" fill="#3062bc"/>
<rect x="312.78" y="79.05" width="16.72" height="9.85" fill="#182e58"/>
<rect x="230.7" y="88.6" width="16.72" height="9.85" fill="#b41610"/>
<rect x="247.12" y="88.6" width="16.72" height="9.85" fill="#9c120e"/>
<rect x="263.53" y="88.6" width="16.72" height="9.85" fill="#c01810"/>
<rect x="279.95" y="88.6" width="16.72" height="9.85" fill="#3872d8"/>
<rect x="296.37" y="88.6" width="16.72" height="9.85" fill="#3266c4"/>
<rect x="312.78" y="88.6" width="16.72" height="9.85" fill="#2a52a0"/>
<rect x="230.7" y="98.15" width="16.72" height="9.85" fill="#a0120e"/>
<rect x="247.12" y="98.15" width="16.72" height="9.85" fill="#88100c"/>
<rect x="263.53" y="98.15" width="16.72" height="9.85" fill="#d01c14"/>
<rect x="279.95" y="98.15" width="16.72" height="9.85" fill="#3a76e0"/>
<rect x="296.37" y="98.15" width="16.72" height="9.85" fill="#3266c4"/>
<rect x="312.78" y="98.15" width="16.72" height="9.85" fill="#22448a"/>
<rect x="230.7" y="107.7" width="16.72" height="9.85" fill="#5c0808"/>
<rect x="247.12" y="107.7" width="16.72" height="9.85" fill="#8c100c"/>
<rect x="263.53" y="107.7" width="16.72" height="9.85" fill="#ff2014"/>
<rect x="279.95" y="107.7" width="16.72" height="9.85" fill="#3a76e0"/>
<rect x="296.37" y="107.7" width="16.72" height="9.85" fill="#2e5eb4"/>
<rect x="312.78" y="107.7" width="16.72" height="9.85" fill="#224484"/>
<rect x="230.7" y="117.25" width="16.72" height="9.85" fill="#ff2014"/>
<rect x="247.12" y="117.25" width="16.72" height="9.85" fill="#b01610"/>
<rect x="263.53" y="117.25" width="16.72" height="9.85" fill="#0c0202"/>
<rect x="279.95" y="117.25" width="16.72" height="9.85" fill="#1e3c70"/>
<rect x="296.37" y="117.25" width="16.72" height="9.85" fill="#3c7ae8"/>
<rect x="312.78" y="117.25" width="16.72" height="9.85" fill="#24488c"/>
<rect x="230.7" y="126.8" width="16.72" height="9.85" fill="#98120e"/>
<rect x="247.12" y="126.8" width="16.72" height="9.85" fill="#88100c"/>
<rect x="263.53" y="126.8" width="16.72" height="9.85" fill="#d01c14"/>
<rect x="279.95" y="126.8" width="16.72" height="9.85" fill="#3062bc"/>
<rect x="296.37" y="126.8" width="16.72" height="9.85" fill="#3062bc"/>
<rect x="312.78" y="126.8" width="16.72" height="9.85" fill="#2a54a4"/>
<rect x="230.7" y="136.35" width="16.72" height="9.85" fill="#98120e"/>
<rect x="247.12" y="136.35" width="16.72" height="9.85" fill="#a8140e"/>
<rect x="263.53" y="136.35" width="16.72" height="9.85" fill="#b01610"/>
<rect x="279.95" y="136.35" width="16.72" height="9.85" fill="#3268c8"/>
<rect x="296.37" y="136.35" width="16.72" height="9.85" fill="#3872d8"/>
<rect x="312.78" y="136.35" width="16.72" height="9.85" fill="#204080"/>
</g>
<text stroke="#000" stroke-width="0.22" x="228.5" y="18.1" font-size="8.2" text-anchor="end" fill="#000">HIST1H1A</text>
<text stroke="#000" stroke-width="0.22" x="228.5" y="27.8" font-size="8.2" text-anchor="end" fill="#000">HIST1H1B</text>
<text stroke="#000" stroke-width="0.22" x="228.5" y="37.5" font-size="8.2" text-anchor="end" fill="#000">HIST1H1C</text>
<text stroke="#000" stroke-width="0.22" x="228.5" y="47.2" font-size="8.2" text-anchor="end" fill="#000">HIST1H1D</text>
<text stroke="#000" stroke-width="0.22" x="228.5" y="56.9" font-size="8.2" text-anchor="end" fill="#000">HIST1H1E</text>
<text stroke="#000" stroke-width="0.22" x="228.5" y="66.6" font-size="8.2" text-anchor="end" fill="#000">HIST1H1T</text>
<text stroke="#000" stroke-width="0.22" x="228.5" y="76.3" font-size="8.2" text-anchor="end" fill="#000">HIST1H2BJ</text>
<text stroke="#000" stroke-width="0.22" x="228.5" y="86" font-size="8.2" text-anchor="end" fill="#000">HIST1H2BM</text>
<text stroke="#000" stroke-width="0.22" x="228.5" y="95.7" font-size="8.2" text-anchor="end" fill="#000">HIST1H3B</text>
<text stroke="#000" stroke-width="0.22" x="228.5" y="105.4" font-size="8.2" text-anchor="end" fill="#000">HIST1H4K</text>
<text stroke="#000" stroke-width="0.22" x="228.5" y="115.1" font-size="8.2" text-anchor="end" fill="#000">HIST2H2AA4</text>
<text stroke="#000" stroke-width="0.22" x="228.5" y="124.8" font-size="8.2" text-anchor="end" fill="#000">HIST2H2AB</text>
<text stroke="#000" stroke-width="0.22" x="228.5" y="134.5" font-size="8.2" text-anchor="end" fill="#000">HIST2H3D</text>
<text stroke="#000" stroke-width="0.22" x="228.5" y="144.2" font-size="8.2" text-anchor="end" fill="#000">HIST2H3PS2</text>
<text stroke="#000" stroke-width="0.22" transform="translate(240.91 152.9) rotate(-45)" font-size="10" text-anchor="end" fill="#000">mock</text>
<text stroke="#000" stroke-width="0.22" transform="translate(257.32 152.9) rotate(-45)" font-size="10" text-anchor="end" fill="#000">Rt3D 0.1</text>
<text stroke="#000" stroke-width="0.22" transform="translate(273.74 152.9) rotate(-45)" font-size="10" text-anchor="end" fill="#000">Rt3D 1</text>
<text stroke="#000" stroke-width="0.22" transform="translate(290.16 152.9) rotate(-45)" font-size="10" text-anchor="end" fill="#000">+ pal</text>
<text stroke="#000" stroke-width="0.22" transform="translate(306.57 152.9) rotate(-45)" font-size="10" text-anchor="end" fill="#000">Rt3D 0.1 + pal</text>
<text stroke="#000" stroke-width="0.22" transform="translate(322.99 152.9) rotate(-45)" font-size="10" text-anchor="end" fill="#000">Rt3D 1 + pal</text>
<rect x="331.3" y="12.7" width="12.9" height="55.1" fill="url(#cb)"/>
<text stroke="#000" stroke-width="0.22" x="347.7" y="24.8" font-size="9.3" text-anchor="start" fill="#000">1</text>
<text stroke="#000" stroke-width="0.22" x="347.7" y="44.5" font-size="9.3" text-anchor="start" fill="#000">0</text>
<text stroke="#000" stroke-width="0.22" x="347.7" y="64.3" font-size="9.3" text-anchor="start" fill="#000">-1</text>
<text stroke="#000" stroke-width="0.22" x="1" y="206.5" font-size="13.5" text-anchor="start" fill="#000">C.</text>
<text stroke="#000" stroke-width="0.22" x="85.8" y="209.8" font-size="9.1" text-anchor="middle" fill="#000" font-style="italic">DNA modification</text>
<g shape-rendering="crispEdges">
<rect x="50.2" y="213.1" width="17.57" height="9.93" fill="#152b4c"/>
<rect x="67.47" y="213.1" width="17.57" height="9.93" fill="#234880"/>
<rect x="84.73" y="213.1" width="17.57" height="9.93" fill="#1c3a66"/>
<rect x="102" y="213.1" width="17.57" height="9.93" fill="#80100a"/>
<rect x="119.27" y="213.1" width="17.57" height="9.93" fill="#070e1a"/>
<rect x="136.53" y="213.1" width="17.57" height="9.93" fill="#ff2014"/>
<rect x="50.2" y="222.73" width="17.57" height="9.93" fill="#330604"/>
<rect x="67.47" y="222.73" width="17.57" height="9.93" fill="#590b07"/>
<rect x="84.73" y="222.73" width="17.57" height="9.93" fill="#000000"/>
<rect x="102" y="222.73" width="17.57" height="9.93" fill="#1a0302"/>
<rect x="119.27" y="222.73" width="17.57" height="9.93" fill="#4690ff"/>
<rect x="136.53" y="222.73" width="17.57" height="9.93" fill="#99130c"/>
<rect x="50.2" y="232.36" width="17.57" height="9.93" fill="#234880"/>
<rect x="67.47" y="232.36" width="17.57" height="9.93" fill="#204173"/>
<rect x="84.73" y="232.36" width="17.57" height="9.93" fill="#152b4c"/>
<rect x="102" y="232.36" width="17.57" height="9.93" fill="#4c0a06"/>
<rect x="119.27" y="232.36" width="17.57" height="9.93" fill="#330604"/>
<rect x="136.53" y="232.36" width="17.57" height="9.93" fill="#ff2014"/>
<rect x="50.2" y="241.99" width="17.57" height="9.93" fill="#8c120b"/>
<rect x="67.47" y="241.99" width="17.57" height="9.93" fill="#204173"/>
<rect x="84.73" y="241.99" width="17.57" height="9.93" fill="#122440"/>
<rect x="102" y="241.99" width="17.57" height="9.93" fill="#bf180f"/>
<rect x="119.27" y="241.99" width="17.57" height="9.93" fill="#346cbf"/>
<rect x="136.53" y="241.99" width="17.57" height="9.93" fill="#660d08"/>
<rect x="50.2" y="251.62" width="17.57" height="9.93" fill="#2e5ea6"/>
<rect x="67.47" y="251.62" width="17.57" height="9.93" fill="#2e5ea6"/>
<rect x="84.73" y="251.62" width="17.57" height="9.93" fill="#000000"/>
<rect x="102" y="251.62" width="17.57" height="9.93" fill="#730e09"/>
<rect x="119.27" y="251.62" width="17.57" height="9.93" fill="#400805"/>
<rect x="136.53" y="251.62" width="17.57" height="9.93" fill="#d91b11"/>
<rect x="50.2" y="261.24" width="17.57" height="9.93" fill="#4690ff"/>
<rect x="67.47" y="261.24" width="17.57" height="9.93" fill="#1a0302"/>
<rect x="84.73" y="261.24" width="17.57" height="9.93" fill="#cc1a10"/>
<rect x="102" y="261.24" width="17.57" height="9.93" fill="#330604"/>
<rect x="119.27" y="261.24" width="17.57" height="9.93" fill="#070e1a"/>
<rect x="136.53" y="261.24" width="17.57" height="9.93" fill="#330604"/>
<rect x="50.2" y="270.87" width="17.57" height="9.93" fill="#cc1a10"/>
<rect x="67.47" y="270.87" width="17.57" height="9.93" fill="#1a0302"/>
<rect x="84.73" y="270.87" width="17.57" height="9.93" fill="#204173"/>
<rect x="102" y="270.87" width="17.57" height="9.93" fill="#a6150d"/>
<rect x="119.27" y="270.87" width="17.57" height="9.93" fill="#204173"/>
<rect x="136.53" y="270.87" width="17.57" height="9.93" fill="#234880"/>
<rect x="50.2" y="280.5" width="17.57" height="9.93" fill="#99130c"/>
<rect x="67.47" y="280.5" width="17.57" height="9.93" fill="#80100a"/>
<rect x="84.73" y="280.5" width="17.57" height="9.93" fill="#152b4c"/>
<rect x="102" y="280.5" width="17.57" height="9.93" fill="#1a0302"/>
<rect x="119.27" y="280.5" width="17.57" height="9.93" fill="#590b07"/>
<rect x="136.53" y="280.5" width="17.57" height="9.93" fill="#4690ff"/>
<rect x="50.2" y="290.13" width="17.57" height="9.93" fill="#b2160e"/>
<rect x="67.47" y="290.13" width="17.57" height="9.93" fill="#a6150d"/>
<rect x="84.73" y="290.13" width="17.57" height="9.93" fill="#0e1d33"/>
<rect x="102" y="290.13" width="17.57" height="9.93" fill="#260503"/>
<rect x="119.27" y="290.13" width="17.57" height="9.93" fill="#1c3a66"/>
<rect x="136.53" y="290.13" width="17.57" height="9.93" fill="#3873cc"/>
<rect x="50.2" y="299.76" width="17.57" height="9.93" fill="#cc1a10"/>
<rect x="67.47" y="299.76" width="17.57" height="9.93" fill="#4c0a06"/>
<rect x="84.73" y="299.76" width="17.57" height="9.93" fill="#2e5ea6"/>
<rect x="102" y="299.76" width="17.57" height="9.93" fill="#730e09"/>
<rect x="119.27" y="299.76" width="17.57" height="9.93" fill="#000000"/>
<rect x="136.53" y="299.76" width="17.57" height="9.93" fill="#2e5ea6"/>
<rect x="50.2" y="309.39" width="17.57" height="9.93" fill="#99130c"/>
<rect x="67.47" y="309.39" width="17.57" height="9.93" fill="#660d08"/>
<rect x="84.73" y="309.39" width="17.57" height="9.93" fill="#152b4c"/>
<rect x="102" y="309.39" width="17.57" height="9.93" fill="#b2160e"/>
<rect x="119.27" y="309.39" width="17.57" height="9.93" fill="#0e1d33"/>
<rect x="136.53" y="309.39" width="17.57" height="9.93" fill="#3f82e6"/>
<rect x="50.2" y="319.02" width="17.57" height="9.93" fill="#cc1a10"/>
<rect x="67.47" y="319.02" width="17.57" height="9.93" fill="#730e09"/>
<rect x="84.73" y="319.02" width="17.57" height="9.93" fill="#0e1d33"/>
<rect x="102" y="319.02" width="17.57" height="9.93" fill="#4c0a06"/>
<rect x="119.27" y="319.02" width="17.57" height="9.93" fill="#234880"/>
<rect x="136.53" y="319.02" width="17.57" height="9.93" fill="#3873cc"/>
<rect x="50.2" y="328.65" width="17.57" height="9.93" fill="#ff2014"/>
<rect x="67.47" y="328.65" width="17.57" height="9.93" fill="#730e09"/>
<rect x="84.73" y="328.65" width="17.57" height="9.93" fill="#264f8c"/>
<rect x="102" y="328.65" width="17.57" height="9.93" fill="#000000"/>
<rect x="119.27" y="328.65" width="17.57" height="9.93" fill="#0e1d33"/>
<rect x="136.53" y="328.65" width="17.57" height="9.93" fill="#234880"/>
<rect x="50.2" y="338.27" width="17.57" height="9.93" fill="#2a5699"/>
<rect x="67.47" y="338.27" width="17.57" height="9.93" fill="#152b4c"/>
<rect x="84.73" y="338.27" width="17.57" height="9.93" fill="#b2160e"/>
<rect x="102" y="338.27" width="17.57" height="9.93" fill="#264f8c"/>
<rect x="119.27" y="338.27" width="17.57" height="9.93" fill="#000000"/>
<rect x="136.53" y="338.27" width="17.57" height="9.93" fill="#cc1a10"/>
<rect x="50.2" y="347.9" width="17.57" height="9.93" fill="#000000"/>
<rect x="67.47" y="347.9" width="17.57" height="9.93" fill="#0e1d33"/>
<rect x="84.73" y="347.9" width="17.57" height="9.93" fill="#4690ff"/>
<rect x="102" y="347.9" width="17.57" height="9.93" fill="#d91b11"/>
<rect x="119.27" y="347.9" width="17.57" height="9.93" fill="#660d08"/>
<rect x="136.53" y="347.9" width="17.57" height="9.93" fill="#1a0302"/>
<rect x="50.2" y="357.53" width="17.57" height="9.93" fill="#590b07"/>
<rect x="67.47" y="357.53" width="17.57" height="9.93" fill="#04070d"/>
<rect x="84.73" y="357.53" width="17.57" height="9.93" fill="#3873cc"/>
<rect x="102" y="357.53" width="17.57" height="9.93" fill="#e61d12"/>
<rect x="119.27" y="357.53" width="17.57" height="9.93" fill="#260503"/>
<rect x="136.53" y="357.53" width="17.57" height="9.93" fill="#1c3a66"/>
<rect x="50.2" y="367.16" width="17.57" height="9.93" fill="#000000"/>
<rect x="67.47" y="367.16" width="17.57" height="9.93" fill="#04070d"/>
<rect x="84.73" y="367.16" width="17.57" height="9.93" fill="#3873cc"/>
<rect x="102" y="367.16" width="17.57" height="9.93" fill="#ff2014"/>
<rect x="119.27" y="367.16" width="17.57" height="9.93" fill="#4c0a06"/>
<rect x="136.53" y="367.16" width="17.57" height="9.93" fill="#152b4c"/>
<rect x="50.2" y="376.79" width="17.57" height="9.93" fill="#8c120b"/>
<rect x="67.47" y="376.79" width="17.57" height="9.93" fill="#04070d"/>
<rect x="84.73" y="376.79" width="17.57" height="9.93" fill="#3873cc"/>
<rect x="102" y="376.79" width="17.57" height="9.93" fill="#730e09"/>
<rect x="119.27" y="376.79" width="17.57" height="9.93" fill="#8c120b"/>
<rect x="136.53" y="376.79" width="17.57" height="9.93" fill="#264f8c"/>
<rect x="50.2" y="386.42" width="17.57" height="9.93" fill="#0d0201"/>
<rect x="67.47" y="386.42" width="17.57" height="9.93" fill="#2e5ea6"/>
<rect x="84.73" y="386.42" width="17.57" height="9.93" fill="#3165b2"/>
<rect x="102" y="386.42" width="17.57" height="9.93" fill="#99130c"/>
<rect x="119.27" y="386.42" width="17.57" height="9.93" fill="#590b07"/>
<rect x="136.53" y="386.42" width="17.57" height="9.93" fill="#8c120b"/>
<rect x="50.2" y="396.05" width="17.57" height="9.93" fill="#204173"/>
<rect x="67.47" y="396.05" width="17.57" height="9.93" fill="#234880"/>
<rect x="84.73" y="396.05" width="17.57" height="9.93" fill="#264f8c"/>
<rect x="102" y="396.05" width="17.57" height="9.93" fill="#b2160e"/>
<rect x="119.27" y="396.05" width="17.57" height="9.93" fill="#4c0a06"/>
<rect x="136.53" y="396.05" width="17.57" height="9.93" fill="#99130c"/>
<rect x="50.2" y="405.68" width="17.57" height="9.93" fill="#122440"/>
<rect x="67.47" y="405.68" width="17.57" height="9.93" fill="#2e5ea6"/>
<rect x="84.73" y="405.68" width="17.57" height="9.93" fill="#2a5699"/>
<rect x="102" y="405.68" width="17.57" height="9.93" fill="#8c120b"/>
<rect x="119.27" y="405.68" width="17.57" height="9.93" fill="#4c0a06"/>
<rect x="136.53" y="405.68" width="17.57" height="9.93" fill="#b2160e"/>
<rect x="50.2" y="415.31" width="17.57" height="9.93" fill="#a6150d"/>
<rect x="67.47" y="415.31" width="17.57" height="9.93" fill="#a6150d"/>
<rect x="84.73" y="415.31" width="17.57" height="9.93" fill="#590b07"/>
<rect x="102" y="415.31" width="17.57" height="9.93" fill="#0a1626"/>
<rect x="119.27" y="415.31" width="17.57" height="9.93" fill="#234880"/>
<rect x="136.53" y="415.31" width="17.57" height="9.93" fill="#3873cc"/>
<rect x="50.2" y="424.93" width="17.57" height="9.93" fill="#b2160e"/>
<rect x="67.47" y="424.93" width="17.57" height="9.93" fill="#000000"/>
<rect x="84.73" y="424.93" width="17.57" height="9.93" fill="#730e09"/>
<rect x="102" y="424.93" width="17.57" height="9.93" fill="#400805"/>
<rect x="119.27" y="424.93" width="17.57" height="9.93" fill="#183259"/>
<rect x="136.53" y="424.93" width="17.57" height="9.93" fill="#3f82e6"/>
<rect x="50.2" y="434.56" width="17.57" height="9.93" fill="#590b07"/>
<rect x="67.47" y="434.56" width="17.57" height="9.93" fill="#99130c"/>
<rect x="84.73" y="434.56" width="17.57" height="9.93" fill="#a6150d"/>
<rect x="102" y="434.56" width="17.57" height="9.93" fill="#0a1626"/>
<rect x="119.27" y="434.56" width="17.57" height="9.93" fill="#1c3a66"/>
<rect x="136.53" y="434.56" width="17.57" height="9.93" fill="#3c7ad9"/>
<rect x="50.2" y="444.19" width="17.57" height="9.93" fill="#b2160e"/>
<rect x="67.47" y="444.19" width="17.57" height="9.93" fill="#99130c"/>
<rect x="84.73" y="444.19" width="17.57" height="9.93" fill="#4c0a06"/>
<rect x="102" y="444.19" width="17.57" height="9.93" fill="#0e1d33"/>
<rect x="119.27" y="444.19" width="17.57" height="9.93" fill="#204173"/>
<rect x="136.53" y="444.19" width="17.57" height="9.93" fill="#3873cc"/>
<rect x="50.2" y="453.82" width="17.57" height="9.93" fill="#b2160e"/>
<rect x="67.47" y="453.82" width="17.57" height="9.93" fill="#b2160e"/>
<rect x="84.73" y="453.82" width="17.57" height="9.93" fill="#000000"/>
<rect x="102" y="453.82" width="17.57" height="9.93" fill="#000000"/>
<rect x="119.27" y="453.82" width="17.57" height="9.93" fill="#204173"/>
<rect x="136.53" y="453.82" width="17.57" height="9.93" fill="#3873cc"/>
<rect x="50.2" y="463.45" width="17.57" height="9.93" fill="#1a0302"/>
<rect x="67.47" y="463.45" width="17.57" height="9.93" fill="#152b4c"/>
<rect x="84.73" y="463.45" width="17.57" height="9.93" fill="#730e09"/>
<rect x="102" y="463.45" width="17.57" height="9.93" fill="#ff2014"/>
<rect x="119.27" y="463.45" width="17.57" height="9.93" fill="#3165b2"/>
<rect x="136.53" y="463.45" width="17.57" height="9.93" fill="#234880"/>
<rect x="50.2" y="473.08" width="17.57" height="9.93" fill="#a6150d"/>
<rect x="67.47" y="473.08" width="17.57" height="9.93" fill="#80100a"/>
<rect x="84.73" y="473.08" width="17.57" height="9.93" fill="#80100a"/>
<rect x="102" y="473.08" width="17.57" height="9.93" fill="#04070d"/>
<rect x="119.27" y="473.08" width="17.57" height="9.93" fill="#2e5ea6"/>
<rect x="136.53" y="473.08" width="17.57" height="9.93" fill="#346cbf"/>
<rect x="50.2" y="482.71" width="17.57" height="9.93" fill="#346cbf"/>
<rect x="67.47" y="482.71" width="17.57" height="9.93" fill="#04070d"/>
<rect x="84.73" y="482.71" width="17.57" height="9.93" fill="#730e09"/>
<rect x="102" y="482.71" width="17.57" height="9.93" fill="#2a5699"/>
<rect x="119.27" y="482.71" width="17.57" height="9.93" fill="#330604"/>
<rect x="136.53" y="482.71" width="17.57" height="9.93" fill="#d91b11"/>
<rect x="50.2" y="492.34" width="17.57" height="9.93" fill="#346cbf"/>
<rect x="67.47" y="492.34" width="17.57" height="9.93" fill="#0a1626"/>
<rect x="84.73" y="492.34" width="17.57" height="9.93" fill="#4c0a06"/>
<rect x="102" y="492.34" width="17.57" height="9.93" fill="#234880"/>
<rect x="119.27" y="492.34" width="17.57" height="9.93" fill="#330604"/>
<rect x="136.53" y="492.34" width="17.57" height="9.93" fill="#ff2014"/>
<rect x="50.2" y="501.97" width="17.57" height="9.93" fill="#070e1a"/>
<rect x="67.47" y="501.97" width="17.57" height="9.93" fill="#660d08"/>
<rect x="84.73" y="501.97" width="17.57" height="9.93" fill="#d91b11"/>
<rect x="102" y="501.97" width="17.57" height="9.93" fill="#3c7ad9"/>
<rect x="119.27" y="501.97" width="17.57" height="9.93" fill="#204173"/>
<rect x="136.53" y="501.97" width="17.57" height="9.93" fill="#400805"/>
<rect x="50.2" y="511.59" width="17.57" height="9.93" fill="#400805"/>
<rect x="67.47" y="511.59" width="17.57" height="9.93" fill="#4c0a06"/>
<rect x="84.73" y="511.59" width="17.57" height="9.93" fill="#ff2014"/>
<rect x="102" y="511.59" width="17.57" height="9.93" fill="#3165b2"/>
<rect x="119.27" y="511.59" width="17.57" height="9.93" fill="#2a5699"/>
<rect x="136.53" y="511.59" width="17.57" height="9.93" fill="#0a1626"/>
<rect x="50.2" y="521.22" width="17.57" height="9.93" fill="#80100a"/>
<rect x="67.47" y="521.22" width="17.57" height="9.93" fill="#590b07"/>
<rect x="84.73" y="521.22" width="17.57" height="9.93" fill="#e61d12"/>
<rect x="102" y="521.22" width="17.57" height="9.93" fill="#2e5ea6"/>
<rect x="119.27" y="521.22" width="17.57" height="9.93" fill="#2e5ea6"/>
<rect x="136.53" y="521.22" width="17.57" height="9.93" fill="#152b4c"/>
<rect x="50.2" y="530.85" width="17.57" height="9.93" fill="#730e09"/>
<rect x="67.47" y="530.85" width="17.57" height="9.93" fill="#8c120b"/>
<rect x="84.73" y="530.85" width="17.57" height="9.93" fill="#99130c"/>
<rect x="102" y="530.85" width="17.57" height="9.93" fill="#3165b2"/>
<rect x="119.27" y="530.85" width="17.57" height="9.93" fill="#3165b2"/>
<rect x="136.53" y="530.85" width="17.57" height="9.93" fill="#070e1a"/>
<rect x="50.2" y="540.48" width="17.57" height="9.93" fill="#a6150d"/>
<rect x="67.47" y="540.48" width="17.57" height="9.93" fill="#a6150d"/>
<rect x="84.73" y="540.48" width="17.57" height="9.93" fill="#8c120b"/>
<rect x="102" y="540.48" width="17.57" height="9.93" fill="#183259"/>
<rect x="119.27" y="540.48" width="17.57" height="9.93" fill="#2a5699"/>
<rect x="136.53" y="540.48" width="17.57" height="9.93" fill="#3165b2"/>
<rect x="50.2" y="550.11" width="17.57" height="9.93" fill="#9e140c"/>
<rect x="67.47" y="550.11" width="17.57" height="9.93" fill="#8c120b"/>
<rect x="84.73" y="550.11" width="17.57" height="9.93" fill="#a6150d"/>
<rect x="102" y="550.11" width="17.57" height="9.93" fill="#2b599e"/>
<rect x="119.27" y="550.11" width="17.57" height="9.93" fill="#2a5699"/>
<rect x="136.53" y="550.11" width="17.57" height="9.93" fill="#234880"/>
<rect x="50.2" y="559.74" width="17.57" height="9.93" fill="#b2160e"/>
<rect x="67.47" y="559.74" width="17.57" height="9.93" fill="#a6150d"/>
<rect x="84.73" y="559.74" width="17.57" height="9.93" fill="#8c120b"/>
<rect x="102" y="559.74" width="17.57" height="9.93" fill="#1c3a66"/>
<rect x="119.27" y="559.74" width="17.57" height="9.93" fill="#234880"/>
<rect x="136.53" y="559.74" width="17.57" height="9.93" fill="#2e5ea6"/>
<rect x="50.2" y="569.37" width="17.57" height="9.93" fill="#99130c"/>
<rect x="67.47" y="569.37" width="17.57" height="9.93" fill="#80100a"/>
<rect x="84.73" y="569.37" width="17.57" height="9.93" fill="#bf180f"/>
<rect x="102" y="569.37" width="17.57" height="9.93" fill="#264f8c"/>
<rect x="119.27" y="569.37" width="17.57" height="9.93" fill="#264f8c"/>
<rect x="136.53" y="569.37" width="17.57" height="9.93" fill="#234880"/>
<rect x="50.2" y="579" width="17.57" height="9.93" fill="#a6150d"/>
<rect x="67.47" y="579" width="17.57" height="9.93" fill="#80100a"/>
<rect x="84.73" y="579" width="17.57" height="9.93" fill="#a6150d"/>
<rect x="102" y="579" width="17.57" height="9.93" fill="#1c3a66"/>
<rect x="119.27" y="579" width="17.57" height="9.93" fill="#234880"/>
<rect x="136.53" y="579" width="17.57" height="9.93" fill="#2e5ea6"/>
<rect x="50.2" y="588.62" width="17.57" height="9.93" fill="#bf180f"/>
<rect x="67.47" y="588.62" width="17.57" height="9.93" fill="#8c120b"/>
<rect x="84.73" y="588.62" width="17.57" height="9.93" fill="#80100a"/>
<rect x="102" y="588.62" width="17.57" height="9.93" fill="#122440"/>
<rect x="119.27" y="588.62" width="17.57" height="9.93" fill="#2e5ea6"/>
<rect x="136.53" y="588.62" width="17.57" height="9.93" fill="#2e5ea6"/>
<rect x="50.2" y="598.25" width="17.57" height="9.93" fill="#bf180f"/>
<rect x="67.47" y="598.25" width="17.57" height="9.93" fill="#99130c"/>
<rect x="84.73" y="598.25" width="17.57" height="9.93" fill="#660d08"/>
<rect x="102" y="598.25" width="17.57" height="9.93" fill="#122440"/>
<rect x="119.27" y="598.25" width="17.57" height="9.93" fill="#2e5ea6"/>
<rect x="136.53" y="598.25" width="17.57" height="9.93" fill="#2e5ea6"/>
<rect x="50.2" y="607.88" width="17.57" height="9.93" fill="#8c120b"/>
<rect x="67.47" y="607.88" width="17.57" height="9.93" fill="#8c120b"/>
<rect x="84.73" y="607.88" width="17.57" height="9.93" fill="#bf180f"/>
<rect x="102" y="607.88" width="17.57" height="9.93" fill="#2e5ea6"/>
<rect x="119.27" y="607.88" width="17.57" height="9.93" fill="#2a5699"/>
<rect x="136.53" y="607.88" width="17.57" height="9.93" fill="#1c3a66"/>
<rect x="50.2" y="617.51" width="17.57" height="9.93" fill="#660d08"/>
<rect x="67.47" y="617.51" width="17.57" height="9.93" fill="#99130c"/>
<rect x="84.73" y="617.51" width="17.57" height="9.93" fill="#bf180f"/>
<rect x="102" y="617.51" width="17.57" height="9.93" fill="#234880"/>
<rect x="119.27" y="617.51" width="17.57" height="9.93" fill="#2a5699"/>
<rect x="136.53" y="617.51" width="17.57" height="9.93" fill="#234880"/>
<rect x="50.2" y="627.14" width="17.57" height="9.93" fill="#e61d12"/>
<rect x="67.47" y="627.14" width="17.57" height="9.93" fill="#80100a"/>
<rect x="84.73" y="627.14" width="17.57" height="9.93" fill="#660d08"/>
<rect x="102" y="627.14" width="17.57" height="9.93" fill="#204173"/>
<rect x="119.27" y="627.14" width="17.57" height="9.93" fill="#2a5699"/>
<rect x="136.53" y="627.14" width="17.57" height="9.93" fill="#234880"/>
<rect x="50.2" y="636.77" width="17.57" height="9.93" fill="#80100a"/>
<rect x="67.47" y="636.77" width="17.57" height="9.93" fill="#99130c"/>
<rect x="84.73" y="636.77" width="17.57" height="9.93" fill="#b2160e"/>
<rect x="102" y="636.77" width="17.57" height="9.93" fill="#2e5ea6"/>
<rect x="119.27" y="636.77" width="17.57" height="9.93" fill="#234880"/>
<rect x="136.53" y="636.77" width="17.57" height="9.93" fill="#234880"/>
<rect x="50.2" y="646.4" width="17.57" height="9.93" fill="#d91b11"/>
<rect x="67.47" y="646.4" width="17.57" height="9.93" fill="#a6150d"/>
<rect x="84.73" y="646.4" width="17.57" height="9.93" fill="#070e1a"/>
<rect x="102" y="646.4" width="17.57" height="9.93" fill="#152b4c"/>
<rect x="119.27" y="646.4" width="17.57" height="9.93" fill="#3c7ad9"/>
<rect x="136.53" y="646.4" width="17.57" height="9.93" fill="#04070d"/>
<rect x="50.2" y="656.03" width="17.57" height="9.93" fill="#bf180f"/>
<rect x="67.47" y="656.03" width="17.57" height="9.93" fill="#80100a"/>
<rect x="84.73" y="656.03" width="17.57" height="9.93" fill="#8c120b"/>
<rect x="102" y="656.03" width="17.57" height="9.93" fill="#183259"/>
<rect x="119.27" y="656.03" width="17.57" height="9.93" fill="#1c3a66"/>
<rect x="136.53" y="656.03" width="17.57" height="9.93" fill="#3873cc"/>
<rect x="50.2" y="665.66" width="17.57" height="9.93" fill="#590b07"/>
<rect x="67.47" y="665.66" width="17.57" height="9.93" fill="#590b07"/>
<rect x="84.73" y="665.66" width="17.57" height="9.93" fill="#f21e13"/>
<rect x="102" y="665.66" width="17.57" height="9.93" fill="#234880"/>
<rect x="119.27" y="665.66" width="17.57" height="9.93" fill="#1c3a66"/>
<rect x="136.53" y="665.66" width="17.57" height="9.93" fill="#2e5ea6"/>
<rect x="50.2" y="675.28" width="17.57" height="9.93" fill="#a6150d"/>
<rect x="67.47" y="675.28" width="17.57" height="9.93" fill="#80100a"/>
<rect x="84.73" y="675.28" width="17.57" height="9.93" fill="#b2160e"/>
<rect x="102" y="675.28" width="17.57" height="9.93" fill="#1c3a66"/>
<rect x="119.27" y="675.28" width="17.57" height="9.93" fill="#264f8c"/>
<rect x="136.53" y="675.28" width="17.57" height="9.93" fill="#2e5ea6"/>
<rect x="50.2" y="684.91" width="17.57" height="9.93" fill="#b2160e"/>
<rect x="67.47" y="684.91" width="17.57" height="9.93" fill="#a6150d"/>
<rect x="84.73" y="684.91" width="17.57" height="9.93" fill="#8c120b"/>
<rect x="102" y="684.91" width="17.57" height="9.93" fill="#183259"/>
<rect x="119.27" y="684.91" width="17.57" height="9.93" fill="#264f8c"/>
<rect x="136.53" y="684.91" width="17.57" height="9.93" fill="#2e5ea6"/>
<rect x="50.2" y="694.54" width="17.57" height="9.93" fill="#660d08"/>
<rect x="67.47" y="694.54" width="17.57" height="9.93" fill="#a6150d"/>
<rect x="84.73" y="694.54" width="17.57" height="9.93" fill="#b2160e"/>
<rect x="102" y="694.54" width="17.57" height="9.93" fill="#0e1d33"/>
<rect x="119.27" y="694.54" width="17.57" height="9.93" fill="#234880"/>
<rect x="136.53" y="694.54" width="17.57" height="9.93" fill="#3873cc"/>
<rect x="50.2" y="704.17" width="17.57" height="9.93" fill="#a6150d"/>
<rect x="67.47" y="704.17" width="17.57" height="9.93" fill="#bf180f"/>
<rect x="84.73" y="704.17" width="17.57" height="9.93" fill="#050100"/>
<rect x="102" y="704.17" width="17.57" height="9.93" fill="#264f8c"/>
<rect x="119.27" y="704.17" width="17.57" height="9.93" fill="#3f82e6"/>
<rect x="136.53" y="704.17" width="17.57" height="9.93" fill="#0d0201"/>
</g>
<text stroke="#000" stroke-width="0.22" x="47" y="220.7" font-size="8.2" text-anchor="end" fill="#000">ASCC3</text>
<text stroke="#000" stroke-width="0.22" x="47" y="230.31" font-size="8.2" text-anchor="end" fill="#000">APOBEC3C</text>
<text stroke="#000" stroke-width="0.22" x="47" y="239.91" font-size="8.2" text-anchor="end" fill="#000">APOBEC3D</text>
<text stroke="#000" stroke-width="0.22" x="47" y="249.52" font-size="8.2" text-anchor="end" fill="#000">NEIL2</text>
<text stroke="#000" stroke-width="0.22" x="47" y="259.12" font-size="8.2" text-anchor="end" fill="#000">PLD6</text>
<text stroke="#000" stroke-width="0.22" x="47" y="268.73" font-size="8.2" text-anchor="end" fill="#000">GNAS</text>
<text stroke="#000" stroke-width="0.22" x="47" y="278.34" font-size="8.2" text-anchor="end" fill="#000">ATRX</text>
<text stroke="#000" stroke-width="0.22" x="47" y="287.94" font-size="8.2" text-anchor="end" fill="#000">APEX1</text>
<text stroke="#000" stroke-width="0.22" x="47" y="297.55" font-size="8.2" text-anchor="end" fill="#000">KDM1B</text>
<text stroke="#000" stroke-width="0.22" x="47" y="307.15" font-size="8.2" text-anchor="end" fill="#000">ASCC1</text>
<text stroke="#000" stroke-width="0.22" x="47" y="316.76" font-size="8.2" text-anchor="end" fill="#000">MGMT</text>
<text stroke="#000" stroke-width="0.22" x="47" y="326.37" font-size="8.2" text-anchor="end" fill="#000">MPG</text>
<text stroke="#000" stroke-width="0.22" x="47" y="335.97" font-size="8.2" text-anchor="end" fill="#000">ALKBH3</text>
<text stroke="#000" stroke-width="0.22" x="47" y="345.58" font-size="8.2" text-anchor="end" fill="#000">FOS</text>
<text stroke="#000" stroke-width="0.22" x="47" y="355.18" font-size="8.2" text-anchor="end" fill="#000">ASCC2</text>
<text stroke="#000" stroke-width="0.22" x="47" y="364.79" font-size="8.2" text-anchor="end" fill="#000">UNG</text>
<text stroke="#000" stroke-width="0.22" x="47" y="374.4" font-size="8.2" text-anchor="end" fill="#000">SMUG1</text>
<text stroke="#000" stroke-width="0.22" x="47" y="384" font-size="8.2" text-anchor="end" fill="#000">HEMK1</text>
<text stroke="#000" stroke-width="0.22" x="47" y="393.61" font-size="8.2" text-anchor="end" fill="#000">MTRR</text>
<text stroke="#000" stroke-width="0.22" x="47" y="403.21" font-size="8.2" text-anchor="end" fill="#000">PICK1</text>
<text stroke="#000" stroke-width="0.22" x="47" y="412.82" font-size="8.2" text-anchor="end" fill="#000">TDG</text>
<text stroke="#000" stroke-width="0.22" x="47" y="422.43" font-size="8.2" text-anchor="end" fill="#000">TRIM28</text>
<text stroke="#000" stroke-width="0.22" x="47" y="432.03" font-size="8.2" text-anchor="end" fill="#000">ATRX</text>
<text stroke="#000" stroke-width="0.22" x="47" y="441.64" font-size="8.2" text-anchor="end" fill="#000">GNAS</text>
<text stroke="#000" stroke-width="0.22" x="47" y="451.24" font-size="8.2" text-anchor="end" fill="#000">GATAD2A</text>
<text stroke="#000" stroke-width="0.22" x="47" y="460.85" font-size="8.2" text-anchor="end" fill="#000">ATF7IP</text>
<text stroke="#000" stroke-width="0.22" x="47" y="470.46" font-size="8.2" text-anchor="end" fill="#000">ALKBH1</text>
<text stroke="#000" stroke-width="0.22" x="47" y="480.06" font-size="8.2" text-anchor="end" fill="#000">ALKBH2</text>
<text stroke="#000" stroke-width="0.22" x="47" y="489.67" font-size="8.2" text-anchor="end" fill="#000">APOBEC3G</text>
<text stroke="#000" stroke-width="0.22" x="47" y="499.27" font-size="8.2" text-anchor="end" fill="#000">APOBEC3F</text>
<text stroke="#000" stroke-width="0.22" x="47" y="508.88" font-size="8.2" text-anchor="end" fill="#000">BAZ2A</text>
<text stroke="#000" stroke-width="0.22" x="47" y="518.49" font-size="8.2" text-anchor="end" fill="#000">H3F3A</text>
<text stroke="#000" stroke-width="0.22" x="47" y="528.09" font-size="8.2" text-anchor="end" fill="#000">DMAP1</text>
<text stroke="#000" stroke-width="0.22" x="47" y="537.7" font-size="8.2" text-anchor="end" fill="#000">TRDMT1</text>
<text stroke="#000" stroke-width="0.22" x="47" y="547.3" font-size="8.2" text-anchor="end" fill="#000">DNMT1</text>
<text stroke="#000" stroke-width="0.22" x="47" y="556.91" font-size="8.2" text-anchor="end" fill="#000">HIST1H3B</text>
<text stroke="#000" stroke-width="0.22" x="47" y="566.52" font-size="8.2" text-anchor="end" fill="#000">KMT2A</text>
<text stroke="#000" stroke-width="0.22" x="47" y="576.12" font-size="8.2" text-anchor="end" fill="#000">HIST2H3D</text>
<text stroke="#000" stroke-width="0.22" x="47" y="585.73" font-size="8.2" text-anchor="end" fill="#000">MTA2</text>
<text stroke="#000" stroke-width="0.22" x="47" y="595.33" font-size="8.2" text-anchor="end" fill="#000">EHMT1</text>
<text stroke="#000" stroke-width="0.22" x="47" y="604.94" font-size="8.2" text-anchor="end" fill="#000">EHMT2</text>
<text stroke="#000" stroke-width="0.22" x="47" y="614.55" font-size="8.2" text-anchor="end" fill="#000">HIST1H4K</text>
<text stroke="#000" stroke-width="0.22" x="47" y="624.15" font-size="8.2" text-anchor="end" fill="#000">EZH2</text>
<text stroke="#000" stroke-width="0.22" x="47" y="633.76" font-size="8.2" text-anchor="end" fill="#000">DNMT3A</text>
<text stroke="#000" stroke-width="0.22" x="47" y="643.36" font-size="8.2" text-anchor="end" fill="#000">EXOSC3</text>
<text stroke="#000" stroke-width="0.22" x="47" y="652.97" font-size="8.2" text-anchor="end" fill="#000">PRMT7</text>
<text stroke="#000" stroke-width="0.22" x="47" y="662.58" font-size="8.2" text-anchor="end" fill="#000">EXOSC6</text>
<text stroke="#000" stroke-width="0.22" x="47" y="672.18" font-size="8.2" text-anchor="end" fill="#000">EXOSC5</text>
<text stroke="#000" stroke-width="0.22" x="47" y="681.79" font-size="8.2" text-anchor="end" fill="#000">EXOSC4</text>
<text stroke="#000" stroke-width="0.22" x="47" y="691.39" font-size="8.2" text-anchor="end" fill="#000">NTHL1</text>
<text stroke="#000" stroke-width="0.22" x="47" y="701" font-size="8.2" text-anchor="end" fill="#000">MBD4</text>
<text stroke="#000" stroke-width="0.22" x="47" y="710.61" font-size="8.2" text-anchor="end" fill="#000">DNMT3B</text>
<text stroke="#000" stroke-width="0.22" transform="translate(60.83 720.8) rotate(-45)" font-size="10" text-anchor="end" fill="#000">mock</text>
<text stroke="#000" stroke-width="0.22" transform="translate(78.1 720.8) rotate(-45)" font-size="10" text-anchor="end" fill="#000">Rt3D 0.1</text>
<text stroke="#000" stroke-width="0.22" transform="translate(95.37 720.8) rotate(-45)" font-size="10" text-anchor="end" fill="#000">Rt3D 1</text>
<text stroke="#000" stroke-width="0.22" transform="translate(112.63 720.8) rotate(-45)" font-size="10" text-anchor="end" fill="#000">+ pal</text>
<text stroke="#000" stroke-width="0.22" transform="translate(129.9 720.8) rotate(-45)" font-size="10" text-anchor="end" fill="#000">Rt3D 0.1 + pal</text>
<text stroke="#000" stroke-width="0.22" transform="translate(147.17 720.8) rotate(-45)" font-size="10" text-anchor="end" fill="#000">Rt3D 1 + pal</text>
<rect x="156.6" y="212.5" width="12.7" height="55.2" fill="url(#cb)"/>
<text stroke="#000" stroke-width="0.22" x="172.8" y="226" font-size="9.3" text-anchor="start" fill="#000">1</text>
<text stroke="#000" stroke-width="0.22" x="172.8" y="241.4" font-size="9.3" text-anchor="start" fill="#000">0</text>
<text stroke="#000" stroke-width="0.22" x="172.8" y="257.2" font-size="9.3" text-anchor="start" fill="#000">-1</text>
<text stroke="#000" stroke-width="0.22" x="363.3" y="15" font-size="13.5" text-anchor="start" fill="#000">D.</text>
<line x1="396.9" y1="29.85" x2="396.9" y2="117.95" stroke="#333" stroke-width="1.3"/>
<line x1="396.25" y1="117.3" x2="465.8" y2="117.3" stroke="#333" stroke-width="1.3"/>
<line x1="393.85" y1="117.3" x2="396.9" y2="117.3" stroke="#333" stroke-width="1.17"/>
<text stroke="#000" stroke-width="0.22" x="389.5" y="120.61" font-size="9.2" text-anchor="end" fill="#000">0</text>
<line x1="393.85" y1="88.37" x2="396.9" y2="88.37" stroke="#333" stroke-width="1.17"/>
<text stroke="#000" stroke-width="0.22" x="389.5" y="91.68" font-size="9.2" text-anchor="end" fill="#000">20</text>
<line x1="393.85" y1="59.43" x2="396.9" y2="59.43" stroke="#333" stroke-width="1.17"/>
<text stroke="#000" stroke-width="0.22" x="389.5" y="62.75" font-size="9.2" text-anchor="end" fill="#000">40</text>
<line x1="393.85" y1="30.5" x2="396.9" y2="30.5" stroke="#333" stroke-width="1.17"/>
<text stroke="#000" stroke-width="0.22" x="389.5" y="33.81" font-size="9.2" text-anchor="end" fill="#000">60</text>
<line x1="407.5" y1="117.3" x2="407.5" y2="120.35" stroke="#333" stroke-width="1.17"/>
<line x1="423.2" y1="117.3" x2="423.2" y2="120.35" stroke="#333" stroke-width="1.17"/>
<line x1="439.3" y1="117.3" x2="439.3" y2="120.35" stroke="#333" stroke-width="1.17"/>
<line x1="455" y1="117.3" x2="455" y2="120.35" stroke="#333" stroke-width="1.17"/>
<text stroke="#000" stroke-width="0.22" transform="translate(373.1 73.9) rotate(-90)" font-size="9.2" text-anchor="middle">ddCT [<tspan font-style="italic">DDX58</tspan>]</text>
<line x1="434.2" y1="73.9" x2="444.4" y2="73.9" stroke="#000" stroke-width="1.5"/>
<line x1="439.3" y1="69.42" x2="439.3" y2="78.38" stroke="#000" stroke-width="1"/>
<line x1="436.3" y1="69.42" x2="442.3" y2="69.42" stroke="#000" stroke-width="1"/>
<line x1="436.3" y1="78.38" x2="442.3" y2="78.38" stroke="#000" stroke-width="1"/>
<line x1="449.9" y1="41.64" x2="460.1" y2="41.64" stroke="#000" stroke-width="1.5"/>
<line x1="455" y1="40.05" x2="455" y2="43.52" stroke="#000" stroke-width="1"/>
<line x1="452" y1="40.05" x2="458" y2="40.05" stroke="#000" stroke-width="1"/>
<line x1="452" y1="43.52" x2="458" y2="43.52" stroke="#000" stroke-width="1"/>
<circle cx="405.1" cy="116.87" r="2.45" fill="#4896f6" stroke="#111" stroke-width="0.95"/>
<circle cx="409.9" cy="116.87" r="2.45" fill="#f4852c" stroke="#111" stroke-width="0.95"/>
<circle cx="407.5" cy="116.87" r="2.45" fill="#4a9a24" stroke="#111" stroke-width="0.95"/>
<circle cx="420.8" cy="116.87" r="2.45" fill="#4896f6" stroke="#111" stroke-width="0.95"/>
<circle cx="425.6" cy="116.87" r="2.45" fill="#f4852c" stroke="#111" stroke-width="0.95"/>
<circle cx="423.2" cy="116.87" r="2.45" fill="#4a9a24" stroke="#111" stroke-width="0.95"/>
<circle cx="439.3" cy="64.79" r="2.45" fill="#4896f6" stroke="#111" stroke-width="0.95"/>
<circle cx="436.7" cy="80.12" r="2.45" fill="#4a9a24" stroke="#111" stroke-width="0.95"/>
<circle cx="442.2" cy="76.5" r="2.45" fill="#f4852c" stroke="#111" stroke-width="0.95"/>
<circle cx="452.6" cy="38.6" r="2.45" fill="#f4852c" stroke="#111" stroke-width="0.95"/>
<circle cx="452.6" cy="45.98" r="2.45" fill="#4a9a24" stroke="#111" stroke-width="0.95"/>
<circle cx="458" cy="41.49" r="2.45" fill="#4896f6" stroke="#111" stroke-width="0.95"/>
<text stroke="#000" stroke-width="0.22" transform="translate(410.1 130.1) rotate(-45)" font-size="9.4" text-anchor="end" fill="#000">basal</text>
<text stroke="#000" stroke-width="0.22" transform="translate(425.8 130.1) rotate(-45)" font-size="9.4" text-anchor="end" fill="#000">pal</text>
<text stroke="#000" stroke-width="0.22" transform="translate(441.9 130.1) rotate(-45)" font-size="9.4" text-anchor="end" fill="#000">Rt3D (0.1)</text>
<text stroke="#000" stroke-width="0.22" transform="translate(457.6 130.1) rotate(-45)" font-size="9.4" text-anchor="end" fill="#000">Rt3D + pal</text>
<line x1="440" y1="31.4" x2="456" y2="31.4" stroke="#222" stroke-width="1.1"/>
<text stroke="#000" stroke-width="0.22" x="446.5" y="34" font-size="12" text-anchor="middle" fill="#000">*</text>
<line x1="504.4" y1="29.85" x2="504.4" y2="118.05" stroke="#333" stroke-width="1.3"/>
<line x1="503.75" y1="117.4" x2="574.3" y2="117.4" stroke="#333" stroke-width="1.3"/>
<line x1="501.35" y1="117.4" x2="504.4" y2="117.4" stroke="#333" stroke-width="1.17"/>
<text stroke="#000" stroke-width="0.22" x="497" y="120.71" font-size="9.2" text-anchor="end" fill="#000">0</text>
<line x1="501.35" y1="95.68" x2="504.4" y2="95.68" stroke="#333" stroke-width="1.17"/>
<text stroke="#000" stroke-width="0.22" x="497" y="98.99" font-size="9.2" text-anchor="end" fill="#000">10</text>
<line x1="501.35" y1="73.95" x2="504.4" y2="73.95" stroke="#333" stroke-width="1.17"/>
<text stroke="#000" stroke-width="0.22" x="497" y="77.26" font-size="9.2" text-anchor="end" fill="#000">20</text>
<line x1="501.35" y1="52.23" x2="504.4" y2="52.23" stroke="#333" stroke-width="1.17"/>
<text stroke="#000" stroke-width="0.22" x="497" y="55.54" font-size="9.2" text-anchor="end" fill="#000">30</text>
<line x1="501.35" y1="30.5" x2="504.4" y2="30.5" stroke="#333" stroke-width="1.17"/>
<text stroke="#000" stroke-width="0.22" x="497" y="33.81" font-size="9.2" text-anchor="end" fill="#000">40</text>
<line x1="516.2" y1="117.4" x2="516.2" y2="120.45" stroke="#333" stroke-width="1.17"/>
<line x1="531.9" y1="117.4" x2="531.9" y2="120.45" stroke="#333" stroke-width="1.17"/>
<line x1="548" y1="117.4" x2="548" y2="120.45" stroke="#333" stroke-width="1.17"/>
<line x1="564" y1="117.4" x2="564" y2="120.45" stroke="#333" stroke-width="1.17"/>
<text stroke="#000" stroke-width="0.22" transform="translate(481 73.95) rotate(-90)" font-size="9.2" text-anchor="middle">ddCT [<tspan font-style="italic">IFIH1</tspan>]</text>
<line x1="542.9" y1="92.85" x2="553.1" y2="92.85" stroke="#000" stroke-width="1.5"/>
<line x1="548" y1="90.68" x2="548" y2="95.24" stroke="#000" stroke-width="1"/>
<line x1="545" y1="90.68" x2="551" y2="90.68" stroke="#000" stroke-width="1"/>
<line x1="545" y1="95.24" x2="551" y2="95.24" stroke="#000" stroke-width="1"/>
<line x1="558.9" y1="64.17" x2="569.1" y2="64.17" stroke="#000" stroke-width="1.5"/>
<line x1="564" y1="57.66" x2="564" y2="70.69" stroke="#000" stroke-width="1"/>
<line x1="561" y1="57.66" x2="567" y2="57.66" stroke="#000" stroke-width="1"/>
<line x1="561" y1="70.69" x2="567" y2="70.69" stroke="#000" stroke-width="1"/>
<circle cx="513.8" cy="117.18" r="2.45" fill="#4896f6" stroke="#111" stroke-width="0.95"/>
<circle cx="518.6" cy="117.18" r="2.45" fill="#f4852c" stroke="#111" stroke-width="0.95"/>
<circle cx="516.2" cy="117.18" r="2.45" fill="#4a9a24" stroke="#111" stroke-width="0.95"/>
<circle cx="529.5" cy="117.18" r="2.45" fill="#4896f6" stroke="#111" stroke-width="0.95"/>
<circle cx="531.9" cy="116.75" r="2.45" fill="#f4852c" stroke="#111" stroke-width="0.95"/>
<circle cx="534.5" cy="116.75" r="2.45" fill="#4a9a24" stroke="#111" stroke-width="0.95"/>
<circle cx="548.3" cy="87.42" r="2.45" fill="#4896f6" stroke="#111" stroke-width="0.95"/>
<circle cx="545.2" cy="96.76" r="2.45" fill="#4a9a24" stroke="#111" stroke-width="0.95"/>
<circle cx="550.6" cy="94.81" r="2.45" fill="#f4852c" stroke="#111" stroke-width="0.95"/>
<circle cx="564" cy="53.31" r="2.45" fill="#4896f6" stroke="#111" stroke-width="0.95"/>
<circle cx="564" cy="63.74" r="2.45" fill="#f4852c" stroke="#111" stroke-width="0.95"/>
<circle cx="564" cy="75.04" r="2.45" fill="#4a9a24" stroke="#111" stroke-width="0.95"/>
<text stroke="#000" stroke-width="0.22" transform="translate(518.8 130.2) rotate(-45)" font-size="9.4" text-anchor="end" fill="#000">basal</text>
<text stroke="#000" stroke-width="0.22" transform="translate(534.5 130.2) rotate(-45)" font-size="9.4" text-anchor="end" fill="#000">pal</text>
<text stroke="#000" stroke-width="0.22" transform="translate(550.6 130.2) rotate(-45)" font-size="9.4" text-anchor="end" fill="#000">Rt3D (0.1)</text>
<text stroke="#000" stroke-width="0.22" transform="translate(566.6 130.2) rotate(-45)" font-size="9.4" text-anchor="end" fill="#000">Rt3D + pal</text>
<line x1="548.5" y1="46" x2="564.5" y2="46" stroke="#222" stroke-width="1.1"/>
<text stroke="#000" stroke-width="0.22" x="555" y="49.2" font-size="12" text-anchor="middle" fill="#000">*</text>
<line x1="607.5" y1="29.85" x2="607.5" y2="118.15" stroke="#333" stroke-width="1.3"/>
<line x1="606.85" y1="117.5" x2="677.7" y2="117.5" stroke="#333" stroke-width="1.3"/>
<line x1="604.45" y1="117.5" x2="607.5" y2="117.5" stroke="#333" stroke-width="1.17"/>
<text stroke="#000" stroke-width="0.22" x="600.1" y="120.81" font-size="9.2" text-anchor="end" fill="#000">0</text>
<line x1="604.45" y1="100.1" x2="607.5" y2="100.1" stroke="#333" stroke-width="1.17"/>
<text stroke="#000" stroke-width="0.22" x="600.1" y="103.41" font-size="9.2" text-anchor="end" fill="#000">1</text>
<line x1="604.45" y1="82.7" x2="607.5" y2="82.7" stroke="#333" stroke-width="1.17"/>
<text stroke="#000" stroke-width="0.22" x="600.1" y="86.01" font-size="9.2" text-anchor="end" fill="#000">2</text>
<line x1="604.45" y1="65.3" x2="607.5" y2="65.3" stroke="#333" stroke-width="1.17"/>
<text stroke="#000" stroke-width="0.22" x="600.1" y="68.61" font-size="9.2" text-anchor="end" fill="#000">3</text>
<line x1="604.45" y1="47.9" x2="607.5" y2="47.9" stroke="#333" stroke-width="1.17"/>
<text stroke="#000" stroke-width="0.22" x="600.1" y="51.21" font-size="9.2" text-anchor="end" fill="#000">4</text>
<line x1="604.45" y1="30.5" x2="607.5" y2="30.5" stroke="#333" stroke-width="1.17"/>
<text stroke="#000" stroke-width="0.22" x="600.1" y="33.81" font-size="9.2" text-anchor="end" fill="#000">5</text>
<line x1="618.8" y1="117.5" x2="618.8" y2="120.55" stroke="#333" stroke-width="1.17"/>
<line x1="635" y1="117.5" x2="635" y2="120.55" stroke="#333" stroke-width="1.17"/>
<line x1="651.2" y1="117.5" x2="651.2" y2="120.55" stroke="#333" stroke-width="1.17"/>
<line x1="666.9" y1="117.5" x2="666.9" y2="120.55" stroke="#333" stroke-width="1.17"/>
<text stroke="#000" stroke-width="0.22" transform="translate(589.6 74) rotate(-90)" font-size="9.2" text-anchor="middle">ddCT [<tspan font-style="italic">TLR-3</tspan>]</text>
<line x1="646.1" y1="87.92" x2="656.3" y2="87.92" stroke="#000" stroke-width="1.5"/>
<line x1="651.2" y1="84.79" x2="651.2" y2="91.05" stroke="#000" stroke-width="1"/>
<line x1="648.2" y1="84.79" x2="654.2" y2="84.79" stroke="#000" stroke-width="1"/>
<line x1="648.2" y1="91.05" x2="654.2" y2="91.05" stroke="#000" stroke-width="1"/>
<line x1="661.8" y1="52.25" x2="672" y2="52.25" stroke="#000" stroke-width="1.5"/>
<line x1="666.9" y1="43.03" x2="666.9" y2="60.95" stroke="#000" stroke-width="1"/>
<line x1="663.9" y1="43.03" x2="669.9" y2="43.03" stroke="#000" stroke-width="1"/>
<line x1="663.9" y1="60.95" x2="669.9" y2="60.95" stroke="#000" stroke-width="1"/>
<circle cx="616.2" cy="113.15" r="2.45" fill="#4896f6" stroke="#111" stroke-width="0.95"/>
<circle cx="619.1" cy="111.58" r="2.45" fill="#4a9a24" stroke="#111" stroke-width="0.95"/>
<circle cx="621.8" cy="111.58" r="2.45" fill="#f4852c" stroke="#111" stroke-width="0.95"/>
<circle cx="632.4" cy="112.28" r="2.45" fill="#4896f6" stroke="#111" stroke-width="0.95"/>
<circle cx="635" cy="111.76" r="2.45" fill="#f4852c" stroke="#111" stroke-width="0.95"/>
<circle cx="637.6" cy="111.76" r="2.45" fill="#4a9a24" stroke="#111" stroke-width="0.95"/>
<circle cx="651.2" cy="82.7" r="2.45" fill="#4896f6" stroke="#111" stroke-width="0.95"/>
<circle cx="648.6" cy="92.27" r="2.45" fill="#4a9a24" stroke="#111" stroke-width="0.95"/>
<circle cx="653.8" cy="88.27" r="2.45" fill="#f4852c" stroke="#111" stroke-width="0.95"/>
<circle cx="666.9" cy="38.33" r="2.45" fill="#4a9a24" stroke="#111" stroke-width="0.95"/>
<circle cx="666.9" cy="50.51" r="2.45" fill="#f4852c" stroke="#111" stroke-width="0.95"/>
<circle cx="666.9" cy="67.91" r="2.45" fill="#4896f6" stroke="#111" stroke-width="0.95"/>
<text stroke="#000" stroke-width="0.22" transform="translate(621.4 130.3) rotate(-45)" font-size="9.4" text-anchor="end" fill="#000">basal</text>
<text stroke="#000" stroke-width="0.22" transform="translate(637.6 130.3) rotate(-45)" font-size="9.4" text-anchor="end" fill="#000">pal</text>
<text stroke="#000" stroke-width="0.22" transform="translate(653.8 130.3) rotate(-45)" font-size="9.4" text-anchor="end" fill="#000">Rt3D (0.1)</text>
<text stroke="#000" stroke-width="0.22" transform="translate(669.5 130.3) rotate(-45)" font-size="9.4" text-anchor="end" fill="#000">Rt3D + pal</text>
<line x1="652" y1="32.4" x2="668.5" y2="32.4" stroke="#222" stroke-width="1.1"/>
<text stroke="#000" stroke-width="0.22" x="659.5" y="35" font-size="12" text-anchor="middle" fill="#000">**</text>
<text stroke="#000" stroke-width="0.22" x="184.3" y="206.6" font-size="13.5" text-anchor="start" fill="#000">E.</text>
<filter id="mot" x="0" y="0" width="1" height="1"><feTurbulence type="fractalNoise" baseFrequency="0.22" numOctaves="3" seed="4" result="n"/><feColorMatrix in="n" type="matrix" values="0 0 0 0 1  0 0 0 0 1  0 0 0 0 1  0 0 0 -2.2 1.25"/><feComposite in2="SourceGraphic" operator="in"/></filter>
<filter id="spk" x="0" y="0" width="1" height="1"><feTurbulence type="fractalNoise" baseFrequency="0.9" numOctaves="2" seed="9" result="n"/><feColorMatrix in="n" type="matrix" values="0 0 0 0 1  0 0 0 0 0.75  0 0 0 0 0.95  0 0 0 -2.6 1.35"/><feComposite in2="SourceGraphic" operator="in"/></filter>
<radialGradient id="w1" cx="0.5" cy="0.45" r="0.5"><stop offset="0" stop-color="#c274b6"/><stop offset="0.72" stop-color="#c274b6"/><stop offset="1" stop-color="#d658b4"/></radialGradient>
<rect x="204.9" y="201.1" width="52.9" height="50" fill="#efd8e9"/>
<circle cx="231.5" cy="224.8" r="24.9" fill="#f8eef6" stroke="#e6c6de" stroke-width="0.7"/>
<circle cx="231.5" cy="224.8" r="21.9" fill="url(#w1)"/>
<circle cx="231.5" cy="224.8" r="21.1" fill="#fff" opacity="0.2" filter="url(#mot)"/>
<radialGradient id="w2" cx="0.5" cy="0.45" r="0.5"><stop offset="0" stop-color="#de3ea6"/><stop offset="0.72" stop-color="#de3ea6"/><stop offset="1" stop-color="#dc3aa2"/></radialGradient>
<rect x="259.6" y="201.1" width="51.1" height="50.8" fill="#f1deed"/>
<circle cx="285.8" cy="225.7" r="24.6" fill="#f8eef6" stroke="#e6c6de" stroke-width="0.7"/>
<circle cx="285.8" cy="225.7" r="21.6" fill="url(#w2)"/>
<circle cx="285.8" cy="225.7" r="20.8" fill="#fff" opacity="0.16" filter="url(#spk)"/>
<radialGradient id="w3" cx="0.5" cy="0.45" r="0.5"><stop offset="0" stop-color="#deb6d6"/><stop offset="0.72" stop-color="#deb6d6"/><stop offset="1" stop-color="#d67cc6"/></radialGradient>
<rect x="204.4" y="263" width="53.4" height="52.9" fill="#f1deed"/>
<circle cx="232.4" cy="290.3" r="25.6" fill="#f8eef6" stroke="#e6c6de" stroke-width="0.7"/>
<circle cx="232.4" cy="290.3" r="22.6" fill="url(#w3)"/>
<circle cx="232.4" cy="290.3" r="21.8" fill="#fff" opacity="0.28" filter="url(#mot)"/>
<radialGradient id="w4" cx="0.5" cy="0.45" r="0.5"><stop offset="0" stop-color="#dcb0d2"/><stop offset="0.72" stop-color="#dcb0d2"/><stop offset="1" stop-color="#d070c0"/></radialGradient>
<rect x="259.2" y="263" width="51.5" height="53.8" fill="#efdaea"/>
<circle cx="285.8" cy="289.6" r="25.6" fill="#f8eef6" stroke="#e6c6de" stroke-width="0.7"/>
<circle cx="285.8" cy="289.6" r="22.6" fill="url(#w4)"/>
<circle cx="285.8" cy="289.6" r="21.8" fill="#fff" opacity="0.36" filter="url(#mot)"/>
<line x1="204" y1="251.35" x2="259.6" y2="251.35" stroke="#222" stroke-width="1.15" stroke-dasharray="2.0 0.93"/>
<line x1="258.3" y1="201" x2="258.3" y2="251.9" stroke="#222" stroke-width="1.15" stroke-dasharray="2.0 0.93"/>
<text stroke="#000" stroke-width="0.22" x="229.7" y="259.4" font-size="8.3" text-anchor="middle" fill="#000" font-style="italic">SCR</text>
<text stroke="#000" stroke-width="0.22" x="282.3" y="259.4" font-size="8.1" text-anchor="middle">si<tspan font-style="italic">DDX58</tspan></text>
<text stroke="#000" stroke-width="0.22" x="231" y="324.1" font-size="8.1" text-anchor="middle">si<tspan font-style="italic">IFIH1</tspan></text>
<text stroke="#000" stroke-width="0.22" x="281.8" y="324.1" font-size="8.1" text-anchor="middle">si<tspan font-style="italic">TLR3</tspan></text>
<text stroke="#000" stroke-width="0.22" x="337.2" y="206.4" font-size="13.5" text-anchor="start" fill="#000">F.</text>
<line x1="387.2" y1="208.7" x2="387.2" y2="296.6" stroke="#333" stroke-width="1.3"/>
<line x1="386.55" y1="296" x2="456.6" y2="296" stroke="#333" stroke-width="1.3"/>
<line x1="384.2" y1="209.3" x2="387.2" y2="209.3" stroke="#333" stroke-width="1.2"/>
<text stroke="#000" stroke-width="0.22" x="380.2" y="212.6" font-size="9.2" text-anchor="end" fill="#000">10</text>
<line x1="384.2" y1="238.2" x2="387.2" y2="238.2" stroke="#333" stroke-width="1.2"/>
<text stroke="#000" stroke-width="0.22" x="380.2" y="241.5" font-size="9.2" text-anchor="end" fill="#000">1</text>
<line x1="384.2" y1="267.1" x2="387.2" y2="267.1" stroke="#333" stroke-width="1.2"/>
<text stroke="#000" stroke-width="0.22" x="380.2" y="270.4" font-size="9.2" text-anchor="end" fill="#000">0.1</text>
<line x1="384.2" y1="296" x2="387.2" y2="296" stroke="#333" stroke-width="1.2"/>
<text stroke="#000" stroke-width="0.22" x="380.2" y="299.3" font-size="9.2" text-anchor="end" fill="#000">0.01</text>
<line x1="407.5" y1="296" x2="407.5" y2="299.2" stroke="#333" stroke-width="1.2"/>
<line x1="436.9" y1="296" x2="436.9" y2="299.2" stroke="#333" stroke-width="1.2"/>
<text stroke="#000" stroke-width="0.22" transform="translate(354.8 254.2) rotate(-90)" font-size="9.0" text-anchor="middle">ddCT [<tspan font-style="italic">Rt3D</tspan>]</text>
<line x1="397.9" y1="238.2" x2="417.1" y2="238.2" stroke="#000" stroke-width="1.2"/>
<line x1="407.5" y1="233.4" x2="407.5" y2="245.9" stroke="#000" stroke-width="0.9"/>
<line x1="402.5" y1="233.4" x2="412.5" y2="233.4" stroke="#000" stroke-width="0.9"/>
<line x1="402.5" y1="245.9" x2="412.5" y2="245.9" stroke="#000" stroke-width="0.9"/>
<line x1="427.3" y1="238.9" x2="447" y2="238.9" stroke="#000" stroke-width="1.2"/>
<line x1="436.9" y1="234.8" x2="436.9" y2="243.5" stroke="#000" stroke-width="0.9"/>
<line x1="432" y1="234.8" x2="441.8" y2="234.8" stroke="#000" stroke-width="0.9"/>
<line x1="432" y1="243.5" x2="441.8" y2="243.5" stroke="#000" stroke-width="0.9"/>
<circle cx="407.5" cy="225.6" r="2.45" fill="#4896f6" stroke="#111" stroke-width="0.95"/>
<circle cx="407.5" cy="236.5" r="2.45" fill="#4a9a24" stroke="#111" stroke-width="0.95"/>
<circle cx="407.5" cy="244.9" r="2.45" fill="#f090e0" stroke="#111" stroke-width="0.95"/>
<circle cx="407.5" cy="251.4" r="2.45" fill="#8a2be2" stroke="#111" stroke-width="0.95"/>
<circle cx="407.5" cy="257" r="2.45" fill="#f4852c" stroke="#111" stroke-width="0.95"/>
<circle cx="436.9" cy="229.3" r="2.45" fill="#4a9a24" stroke="#111" stroke-width="0.95"/>
<circle cx="444.4" cy="234.8" r="2.45" fill="#4896f6" stroke="#111" stroke-width="0.95"/>
<circle cx="429.7" cy="238.7" r="2.45" fill="#f090e0" stroke="#111" stroke-width="0.95"/>
<circle cx="444.4" cy="253.1" r="2.45" fill="#8a2be2" stroke="#111" stroke-width="0.95"/>
<circle cx="429.7" cy="257.9" r="2.45" fill="#f4852c" stroke="#111" stroke-width="0.95"/>
<text stroke="#000" stroke-width="0.22" transform="translate(408.8 308.8) rotate(-45)" font-size="9.7" text-anchor="end" fill="#000">- pal</text>
<text stroke="#000" stroke-width="0.22" transform="translate(438.2 308.8) rotate(-45)" font-size="9.7" text-anchor="end" fill="#000">+ pal</text>
<text stroke="#000" stroke-width="0.22" x="491.3" y="205.6" font-size="13.5" text-anchor="start" fill="#000">G.</text>
<line x1="553" y1="208.8" x2="553" y2="296.2" stroke="#333" stroke-width="1.3"/>
<line x1="552.4" y1="295.6" x2="639.4" y2="295.6" stroke="#333" stroke-width="1.3"/>
<line x1="550" y1="295.6" x2="553" y2="295.6" stroke="#333" stroke-width="1.2"/>
<text stroke="#000" stroke-width="0.22" x="546.6" y="299.5" font-size="9.2" text-anchor="end">10<tspan font-size="6.4" dy="-3.0">3</tspan></text>
<line x1="550" y1="283.29" x2="553" y2="283.29" stroke="#333" stroke-width="1.2"/>
<text stroke="#000" stroke-width="0.22" x="546.6" y="287.19" font-size="9.2" text-anchor="end">10<tspan font-size="6.4" dy="-3.0">4</tspan></text>
<line x1="550" y1="270.97" x2="553" y2="270.97" stroke="#333" stroke-width="1.2"/>
<text stroke="#000" stroke-width="0.22" x="546.6" y="274.87" font-size="9.2" text-anchor="end">10<tspan font-size="6.4" dy="-3.0">5</tspan></text>
<line x1="550" y1="258.66" x2="553" y2="258.66" stroke="#333" stroke-width="1.2"/>
<text stroke="#000" stroke-width="0.22" x="546.6" y="262.56" font-size="9.2" text-anchor="end">10<tspan font-size="6.4" dy="-3.0">6</tspan></text>
<line x1="550" y1="246.34" x2="553" y2="246.34" stroke="#333" stroke-width="1.2"/>
<text stroke="#000" stroke-width="0.22" x="546.6" y="250.24" font-size="9.2" text-anchor="end">10<tspan font-size="6.4" dy="-3.0">7</tspan></text>
<line x1="550" y1="234.03" x2="553" y2="234.03" stroke="#333" stroke-width="1.2"/>
<text stroke="#000" stroke-width="0.22" x="546.6" y="237.93" font-size="9.2" text-anchor="end">10<tspan font-size="6.4" dy="-3.0">8</tspan></text>
<line x1="550" y1="221.71" x2="553" y2="221.71" stroke="#333" stroke-width="1.2"/>
<text stroke="#000" stroke-width="0.22" x="546.6" y="225.61" font-size="9.2" text-anchor="end">10<tspan font-size="6.4" dy="-3.0">9</tspan></text>
<line x1="550" y1="209.4" x2="553" y2="209.4" stroke="#333" stroke-width="1.2"/>
<text stroke="#000" stroke-width="0.22" x="546.6" y="213.3" font-size="9.2" text-anchor="end">10<tspan font-size="6.4" dy="-3.0">10</tspan></text>
<line x1="567.4" y1="295.6" x2="567.4" y2="298.8" stroke="#333" stroke-width="1.2"/>
<line x1="596.5" y1="295.6" x2="596.5" y2="298.8" stroke="#333" stroke-width="1.2"/>
<line x1="625.5" y1="295.6" x2="625.5" y2="298.8" stroke="#333" stroke-width="1.2"/>
<text stroke="#000" stroke-width="0.22" transform="translate(570.9 308.1) rotate(-45)" font-size="10" text-anchor="end" fill="#000">4 h</text>
<text stroke="#000" stroke-width="0.22" transform="translate(600 308.1) rotate(-45)" font-size="10" text-anchor="end" fill="#000">24 h</text>
<text stroke="#000" stroke-width="0.22" transform="translate(629 308.1) rotate(-45)" font-size="10" text-anchor="end" fill="#000">48 h</text>
<text stroke="#000" stroke-width="0.22" transform="translate(516.3 253) rotate(-90)" font-size="9.0" text-anchor="middle">Viral Titre (TCID<tspan font-size="5.5" dy="1.6">50</tspan><tspan dy="-1.6">/ml)</tspan></text>
<polyline points="567.4,289.1 596.5,227.4 625.5,221.6" fill="none" stroke="#bbb" stroke-width="1"/>
<polyline points="567.4,286.2 596.5,227.6 625.5,221.3" fill="none" stroke="#000" stroke-width="1.1"/>
<line x1="567.4" y1="283.2" x2="567.4" y2="289.2" stroke="#000" stroke-width="0.8"/>
<line x1="565.2" y1="283.2" x2="569.6" y2="283.2" stroke="#000" stroke-width="0.8"/>
<line x1="565.2" y1="289.2" x2="569.6" y2="289.2" stroke="#000" stroke-width="0.8"/>
<line x1="567.4" y1="285.9" x2="567.4" y2="292.3" stroke="#000" stroke-width="0.8"/>
<line x1="565.2" y1="285.9" x2="569.6" y2="285.9" stroke="#000" stroke-width="0.8"/>
<line x1="565.2" y1="292.3" x2="569.6" y2="292.3" stroke="#000" stroke-width="0.8"/>
<line x1="596.5" y1="224.4" x2="596.5" y2="230.8" stroke="#000" stroke-width="0.8"/>
<line x1="594.3" y1="224.4" x2="598.7" y2="224.4" stroke="#000" stroke-width="0.8"/>
<line x1="594.3" y1="230.8" x2="598.7" y2="230.8" stroke="#000" stroke-width="0.8"/>
<line x1="625.5" y1="219.1" x2="625.5" y2="223.5" stroke="#000" stroke-width="0.8"/>
<line x1="623.3" y1="219.1" x2="627.7" y2="219.1" stroke="#000" stroke-width="0.8"/>
<line x1="623.3" y1="223.5" x2="627.7" y2="223.5" stroke="#000" stroke-width="0.8"/>
<circle cx="567.4" cy="289.1" r="2.5" fill="#fff" stroke="#000" stroke-width="0.9"/>
<circle cx="567.4" cy="286.2" r="2.7" fill="#000"/>
<circle cx="596.5" cy="227.6" r="2.7" fill="#000"/>
<circle cx="625.5" cy="221.3" r="2.7" fill="#000"/>
<line x1="586.8" y1="273.7" x2="605.3" y2="273.7" stroke="#000" stroke-width="1.1"/>
<circle cx="595.9" cy="273.7" r="2.7" fill="#000"/>
<line x1="586.8" y1="285.9" x2="605.3" y2="285.9" stroke="#bbb" stroke-width="1"/>
<circle cx="595.9" cy="285.9" r="2.6" fill="#fff" stroke="#000" stroke-width="0.9"/>
<text stroke="#000" stroke-width="0.22" x="615.2" y="277" font-size="9.2" text-anchor="start" fill="#000">- pal</text>
<text stroke="#000" stroke-width="0.22" x="615.2" y="289.2" font-size="9.2" text-anchor="start" fill="#000">+ pal</text>
<text stroke="#000" stroke-width="0.22" x="184.3" y="352.6" font-size="13.5" text-anchor="start" fill="#000">H.</text>
<line x1="243.4" y1="349.5" x2="243.4" y2="437.1" stroke="#333" stroke-width="1.3"/>
<line x1="242.8" y1="436.5" x2="648.5" y2="436.5" stroke="#333" stroke-width="1.3"/>
<line x1="240.4" y1="350.1" x2="243.4" y2="350.1" stroke="#333" stroke-width="1.2"/>
<text stroke="#000" stroke-width="0.22" x="236.2" y="353.3" font-size="9" text-anchor="end" fill="#000">1000</text>
<line x1="240.4" y1="371.8" x2="243.4" y2="371.8" stroke="#333" stroke-width="1.2"/>
<text stroke="#000" stroke-width="0.22" x="236.2" y="375" font-size="9" text-anchor="end" fill="#000">100</text>
<line x1="240.4" y1="393.4" x2="243.4" y2="393.4" stroke="#333" stroke-width="1.2"/>
<text stroke="#000" stroke-width="0.22" x="236.2" y="396.6" font-size="9" text-anchor="end" fill="#000">10</text>
<line x1="240.4" y1="415.1" x2="243.4" y2="415.1" stroke="#333" stroke-width="1.2"/>
<text stroke="#000" stroke-width="0.22" x="236.2" y="418.3" font-size="9" text-anchor="end" fill="#000">1</text>
<line x1="240.4" y1="436.5" x2="243.4" y2="436.5" stroke="#333" stroke-width="1.2"/>
<text stroke="#000" stroke-width="0.22" x="236.2" y="439.7" font-size="9" text-anchor="end" fill="#000">0.1</text>
<text stroke="#000" stroke-width="0.22" transform="translate(210.6 395) rotate(-90)" font-size="9" text-anchor="middle" fill="#000">ddCT</text>
<line x1="250.4" y1="436.5" x2="250.4" y2="439.7" stroke="#333" stroke-width="1.2"/>
<text stroke="#000" stroke-width="0.22" transform="translate(252.7 449.6) rotate(-45)" font-size="9.3" text-anchor="end" fill="#000" font-style="italic">MER4D</text>
<circle cx="247.5" cy="415.1" r="2.55" fill="#fff" stroke="#111" stroke-width="0.9"/>
<circle cx="253.3" cy="420.5" r="2.55" fill="#fff" stroke="#f01010" stroke-width="0.9"/>
<line x1="266.07" y1="436.5" x2="266.07" y2="439.7" stroke="#333" stroke-width="1.2"/>
<text stroke="#000" stroke-width="0.22" transform="translate(268.37 449.6) rotate(-45)" font-size="9.3" text-anchor="end" fill="#000" font-style="italic">MLT1C627</text>
<circle cx="263.17" cy="415.1" r="2.55" fill="#fff" stroke="#111" stroke-width="0.9"/>
<circle cx="268.97" cy="371.1" r="2.55" fill="#fff" stroke="#f01010" stroke-width="0.9"/>
<line x1="281.74" y1="436.5" x2="281.74" y2="439.7" stroke="#333" stroke-width="1.2"/>
<text stroke="#000" stroke-width="0.22" transform="translate(284.04 449.6) rotate(-45)" font-size="9.3" text-anchor="end" fill="#000" font-style="italic">MLT1B</text>
<circle cx="278.84" cy="415.1" r="2.55" fill="#fff" stroke="#111" stroke-width="0.9"/>
<circle cx="284.64" cy="415.1" r="2.55" fill="#fff" stroke="#f01010" stroke-width="0.9"/>
<line x1="297.42" y1="436.5" x2="297.42" y2="439.7" stroke="#333" stroke-width="1.2"/>
<text stroke="#000" stroke-width="0.22" transform="translate(299.72 449.6) rotate(-45)" font-size="9.3" text-anchor="end" fill="#000" font-style="italic">ERVL</text>
<circle cx="294.52" cy="415.1" r="2.55" fill="#fff" stroke="#111" stroke-width="0.9"/>
<circle cx="300.32" cy="419.1" r="2.55" fill="#fff" stroke="#f01010" stroke-width="0.9"/>
<line x1="313.09" y1="436.5" x2="313.09" y2="439.7" stroke="#333" stroke-width="1.2"/>
<text stroke="#000" stroke-width="0.22" transform="translate(315.39 449.6) rotate(-45)" font-size="9.3" text-anchor="end" fill="#000" font-style="italic">ERVF</text>
<circle cx="310.19" cy="415.1" r="2.55" fill="#fff" stroke="#111" stroke-width="0.9"/>
<circle cx="315.99" cy="414.1" r="2.55" fill="#fff" stroke="#f01010" stroke-width="0.9"/>
<line x1="328.76" y1="436.5" x2="328.76" y2="439.7" stroke="#333" stroke-width="1.2"/>
<text stroke="#000" stroke-width="0.22" transform="translate(331.06 449.6) rotate(-45)" font-size="9.3" text-anchor="end" fill="#000" font-style="italic">ERV9.1</text>
<circle cx="325.86" cy="415.1" r="2.55" fill="#fff" stroke="#111" stroke-width="0.9"/>
<circle cx="331.66" cy="420.9" r="2.55" fill="#fff" stroke="#f01010" stroke-width="0.9"/>
<line x1="344.43" y1="436.5" x2="344.43" y2="439.7" stroke="#333" stroke-width="1.2"/>
<text stroke="#000" stroke-width="0.22" transform="translate(346.73 449.6) rotate(-45)" font-size="9.3" text-anchor="end" fill="#000" font-style="italic">ERVB1</text>
<circle cx="341.53" cy="415.1" r="2.55" fill="#fff" stroke="#111" stroke-width="0.9"/>
<circle cx="347.33" cy="414.8" r="2.55" fill="#fff" stroke="#f01010" stroke-width="0.9"/>
<line x1="360.1" y1="436.5" x2="360.1" y2="439.7" stroke="#333" stroke-width="1.2"/>
<text stroke="#000" stroke-width="0.22" transform="translate(362.4 449.6) rotate(-45)" font-size="9.3" text-anchor="end" fill="#000" font-style="italic">ERV16A3</text>
<circle cx="357.2" cy="415.1" r="2.55" fill="#fff" stroke="#111" stroke-width="0.9"/>
<circle cx="363" cy="405.1" r="2.55" fill="#fff" stroke="#f01010" stroke-width="0.9"/>
<line x1="375.78" y1="436.5" x2="375.78" y2="439.7" stroke="#333" stroke-width="1.2"/>
<text stroke="#000" stroke-width="0.22" transform="translate(378.08 449.6) rotate(-45)" font-size="9.3" text-anchor="end" fill="#000" font-style="italic">MER66C</text>
<circle cx="372.88" cy="415.1" r="2.55" fill="#fff" stroke="#111" stroke-width="0.9"/>
<circle cx="378.68" cy="410.1" r="2.55" fill="#fff" stroke="#f01010" stroke-width="0.9"/>
<line x1="391.45" y1="436.5" x2="391.45" y2="439.7" stroke="#333" stroke-width="1.2"/>
<text stroke="#000" stroke-width="0.22" transform="translate(393.75 449.6) rotate(-45)" font-size="9.3" text-anchor="end" fill="#000" font-style="italic">LTR12F1C</text>
<circle cx="388.55" cy="415.1" r="2.55" fill="#fff" stroke="#111" stroke-width="0.9"/>
<circle cx="394.35" cy="416.9" r="2.55" fill="#fff" stroke="#f01010" stroke-width="0.9"/>
<line x1="407.12" y1="436.5" x2="407.12" y2="439.7" stroke="#333" stroke-width="1.2"/>
<text stroke="#000" stroke-width="0.22" transform="translate(409.42 449.6) rotate(-45)" font-size="9.3" text-anchor="end" fill="#000" font-style="italic">MER21C</text>
<circle cx="404.22" cy="415.1" r="2.55" fill="#fff" stroke="#111" stroke-width="0.9"/>
<circle cx="410.02" cy="352.2" r="2.55" fill="#fff" stroke="#f01010" stroke-width="0.9"/>
<line x1="422.79" y1="436.5" x2="422.79" y2="439.7" stroke="#333" stroke-width="1.2"/>
<text stroke="#000" stroke-width="0.22" transform="translate(425.09 449.6) rotate(-45)" font-size="9.3" text-anchor="end" fill="#000" font-style="italic">ERVMER34</text>
<circle cx="419.89" cy="415.1" r="2.55" fill="#fff" stroke="#111" stroke-width="0.9"/>
<circle cx="425.69" cy="421.9" r="2.55" fill="#fff" stroke="#f01010" stroke-width="0.9"/>
<line x1="438.46" y1="436.5" x2="438.46" y2="439.7" stroke="#333" stroke-width="1.2"/>
<text stroke="#000" stroke-width="0.22" transform="translate(440.76 449.6) rotate(-45)" font-size="9.3" text-anchor="end" fill="#000" font-style="italic">MER57B1</text>
<circle cx="435.56" cy="415.1" r="2.55" fill="#fff" stroke="#111" stroke-width="0.9"/>
<circle cx="441.36" cy="383.1" r="2.55" fill="#fff" stroke="#f01010" stroke-width="0.9"/>
<line x1="454.14" y1="436.5" x2="454.14" y2="439.7" stroke="#333" stroke-width="1.2"/>
<text stroke="#000" stroke-width="0.22" transform="translate(456.44 449.6) rotate(-45)" font-size="9.3" text-anchor="end" fill="#000" font-style="italic">THE1D</text>
<circle cx="451.24" cy="415.1" r="2.55" fill="#fff" stroke="#111" stroke-width="0.9"/>
<circle cx="457.04" cy="413.4" r="2.55" fill="#fff" stroke="#f01010" stroke-width="0.9"/>
<line x1="469.81" y1="436.5" x2="469.81" y2="439.7" stroke="#333" stroke-width="1.2"/>
<text stroke="#000" stroke-width="0.22" transform="translate(472.11 449.6) rotate(-45)" font-size="9.3" text-anchor="end" fill="#000" font-style="italic">MLT2B4</text>
<circle cx="466.91" cy="415.1" r="2.55" fill="#fff" stroke="#111" stroke-width="0.9"/>
<circle cx="472.71" cy="414.6" r="2.55" fill="#fff" stroke="#f01010" stroke-width="0.9"/>
<line x1="485.48" y1="436.5" x2="485.48" y2="439.7" stroke="#333" stroke-width="1.2"/>
<text stroke="#000" stroke-width="0.22" transform="translate(487.78 449.6) rotate(-45)" font-size="9.3" text-anchor="end" fill="#000" font-style="italic">MLTA10</text>
<circle cx="482.58" cy="415.1" r="2.55" fill="#fff" stroke="#111" stroke-width="0.9"/>
<circle cx="488.38" cy="394.1" r="2.55" fill="#fff" stroke="#f01010" stroke-width="0.9"/>
<line x1="501.15" y1="436.5" x2="501.15" y2="439.7" stroke="#333" stroke-width="1.2"/>
<text stroke="#000" stroke-width="0.22" transform="translate(503.45 449.6) rotate(-45)" font-size="9.3" text-anchor="end" fill="#000" font-style="italic">MLT1C49</text>
<circle cx="498.25" cy="415.1" r="2.55" fill="#fff" stroke="#111" stroke-width="0.9"/>
<circle cx="504.05" cy="381.4" r="2.55" fill="#fff" stroke="#f01010" stroke-width="0.9"/>
<line x1="516.82" y1="436.5" x2="516.82" y2="439.7" stroke="#333" stroke-width="1.2"/>
<text stroke="#000" stroke-width="0.22" transform="translate(519.12 449.6) rotate(-45)" font-size="9.3" text-anchor="end" fill="#000" font-style="italic">MLT1L</text>
<circle cx="513.92" cy="415.1" r="2.55" fill="#fff" stroke="#111" stroke-width="0.9"/>
<circle cx="519.72" cy="413.4" r="2.55" fill="#fff" stroke="#f01010" stroke-width="0.9"/>
<line x1="532.5" y1="436.5" x2="532.5" y2="439.7" stroke="#333" stroke-width="1.2"/>
<text stroke="#000" stroke-width="0.22" transform="translate(534.8 449.6) rotate(-45)" font-size="9.3" text-anchor="end" fill="#000" font-style="italic">MER92B</text>
<circle cx="529.6" cy="415.1" r="2.55" fill="#fff" stroke="#111" stroke-width="0.9"/>
<circle cx="535.4" cy="414.2" r="2.55" fill="#fff" stroke="#f01010" stroke-width="0.9"/>
<line x1="548.17" y1="436.5" x2="548.17" y2="439.7" stroke="#333" stroke-width="1.2"/>
<text stroke="#000" stroke-width="0.22" transform="translate(550.47 449.6) rotate(-45)" font-size="9.3" text-anchor="end" fill="#000" font-style="italic">LTR79</text>
<circle cx="545.27" cy="415.1" r="2.55" fill="#fff" stroke="#111" stroke-width="0.9"/>
<circle cx="551.07" cy="419.4" r="2.55" fill="#fff" stroke="#f01010" stroke-width="0.9"/>
<line x1="563.84" y1="436.5" x2="563.84" y2="439.7" stroke="#333" stroke-width="1.2"/>
<text stroke="#000" stroke-width="0.22" transform="translate(566.14 449.6) rotate(-45)" font-size="9.3" text-anchor="end" fill="#000" font-style="italic">MSTA</text>
<circle cx="560.94" cy="415.1" r="2.55" fill="#fff" stroke="#111" stroke-width="0.9"/>
<circle cx="566.74" cy="410.8" r="2.55" fill="#fff" stroke="#f01010" stroke-width="0.9"/>
<line x1="579.51" y1="436.5" x2="579.51" y2="439.7" stroke="#333" stroke-width="1.2"/>
<text stroke="#000" stroke-width="0.22" transform="translate(581.81 449.6) rotate(-45)" font-size="9.3" text-anchor="end" fill="#000" font-style="italic">MLT1AO</text>
<circle cx="576.61" cy="415.1" r="2.55" fill="#fff" stroke="#111" stroke-width="0.9"/>
<circle cx="582.41" cy="410.8" r="2.55" fill="#fff" stroke="#f01010" stroke-width="0.9"/>
<line x1="595.18" y1="436.5" x2="595.18" y2="439.7" stroke="#333" stroke-width="1.2"/>
<text stroke="#000" stroke-width="0.22" transform="translate(597.48 449.6) rotate(-45)" font-size="9.3" text-anchor="end" fill="#000" font-style="italic">PABL</text>
<circle cx="592.28" cy="415.1" r="2.55" fill="#fff" stroke="#111" stroke-width="0.9"/>
<circle cx="598.08" cy="407.1" r="2.55" fill="#fff" stroke="#f01010" stroke-width="0.9"/>
<line x1="610.86" y1="436.5" x2="610.86" y2="439.7" stroke="#333" stroke-width="1.2"/>
<text stroke="#000" stroke-width="0.22" transform="translate(613.16 449.6) rotate(-45)" font-size="9.3" text-anchor="end" fill="#000" font-style="italic">MLT1K</text>
<circle cx="607.96" cy="415.1" r="2.55" fill="#fff" stroke="#111" stroke-width="0.9"/>
<circle cx="613.76" cy="411.2" r="2.55" fill="#fff" stroke="#f01010" stroke-width="0.9"/>
<line x1="626.53" y1="436.5" x2="626.53" y2="439.7" stroke="#333" stroke-width="1.2"/>
<text stroke="#000" stroke-width="0.22" transform="translate(628.83 449.6) rotate(-45)" font-size="9.3" text-anchor="end" fill="#000" font-style="italic">MLT1J</text>
<circle cx="623.63" cy="415.1" r="2.55" fill="#fff" stroke="#111" stroke-width="0.9"/>
<circle cx="629.43" cy="405.6" r="2.55" fill="#fff" stroke="#f01010" stroke-width="0.9"/>
<line x1="642.2" y1="436.5" x2="642.2" y2="439.7" stroke="#333" stroke-width="1.2"/>
<text stroke="#000" stroke-width="0.22" transform="translate(644.5 449.6) rotate(-45)" font-size="9.3" text-anchor="end" fill="#000" font-style="italic">MLT1A</text>
<circle cx="639.3" cy="415.1" r="2.55" fill="#fff" stroke="#111" stroke-width="0.9"/>
<circle cx="645.1" cy="406.7" r="2.55" fill="#fff" stroke="#f01010" stroke-width="0.9"/>
<text stroke="#000" stroke-width="0.22" x="247.6" y="363.4" font-size="9" text-anchor="start" fill="#000" font-style="italic">MLT1C627</text>
<text stroke="#000" stroke-width="0.22" x="399.6" y="346.6" font-size="9" text-anchor="start" fill="#000" font-style="italic">MER21C</text>
<text stroke="#000" stroke-width="0.22" x="408.2" y="379.2" font-size="9" text-anchor="start" fill="#000" font-style="italic">MER57B1</text>
<text stroke="#000" stroke-width="0.22" x="450.5" y="399.3" font-size="9" text-anchor="start" fill="#000" font-style="italic">MLTA10</text>
<text stroke="#000" stroke-width="0.22" x="490.3" y="375.1" font-size="9" text-anchor="start" fill="#000" font-style="italic">MTL1C49</text>
<rect x="572.8" y="334.7" width="78.0" height="39.0" fill="#fff" stroke="#000" stroke-width="0.9"/>
<text stroke="#000" stroke-width="0.22" x="643.6" y="347" font-size="9.25" text-anchor="end" fill="#000">A375</text>
<text stroke="#000" stroke-width="0.22" x="643.2" y="357.5" font-size="9.25" text-anchor="end" fill="#000">basal</text>
<text stroke="#000" stroke-width="0.22" x="644.3" y="367.9" font-size="9.25" text-anchor="end" fill="#000">Rt3D + pal</text>
<circle cx="602" cy="354.3" r="2.55" fill="#fff" stroke="#111" stroke-width="0.9"/>
<circle cx="580.8" cy="364.7" r="2.55" fill="#fff" stroke="#f01010" stroke-width="0.9"/>
<text stroke="#000" stroke-width="0.22" x="170.3" y="503.3" font-size="13.5" text-anchor="start" fill="#000">I.</text>
<line x1="222" y1="502.85" x2="222" y2="581.85" stroke="#333" stroke-width="1.3"/>
<line x1="221.35" y1="581.2" x2="284.8" y2="581.2" stroke="#333" stroke-width="1.3"/>
<line x1="219.35" y1="581.2" x2="222" y2="581.2" stroke="#333" stroke-width="1.17"/>
<text stroke="#000" stroke-width="0.22" x="215.2" y="584.15" font-size="8.2" text-anchor="end" fill="#000">0</text>
<line x1="219.35" y1="565.66" x2="222" y2="565.66" stroke="#333" stroke-width="1.17"/>
<text stroke="#000" stroke-width="0.22" x="215.2" y="568.61" font-size="8.2" text-anchor="end" fill="#000">20</text>
<line x1="219.35" y1="550.12" x2="222" y2="550.12" stroke="#333" stroke-width="1.17"/>
<text stroke="#000" stroke-width="0.22" x="215.2" y="553.07" font-size="8.2" text-anchor="end" fill="#000">40</text>
<line x1="219.35" y1="534.58" x2="222" y2="534.58" stroke="#333" stroke-width="1.17"/>
<text stroke="#000" stroke-width="0.22" x="215.2" y="537.53" font-size="8.2" text-anchor="end" fill="#000">60</text>
<line x1="219.35" y1="519.04" x2="222" y2="519.04" stroke="#333" stroke-width="1.17"/>
<text stroke="#000" stroke-width="0.22" x="215.2" y="521.99" font-size="8.2" text-anchor="end" fill="#000">80</text>
<line x1="219.35" y1="503.5" x2="222" y2="503.5" stroke="#333" stroke-width="1.17"/>
<text stroke="#000" stroke-width="0.22" x="215.2" y="506.45" font-size="8.2" text-anchor="end" fill="#000">100</text>
<line x1="231.2" y1="581.2" x2="231.2" y2="583.85" stroke="#333" stroke-width="1.17"/>
<line x1="245.7" y1="581.2" x2="245.7" y2="583.85" stroke="#333" stroke-width="1.17"/>
<line x1="260.3" y1="581.2" x2="260.3" y2="583.85" stroke="#333" stroke-width="1.17"/>
<line x1="274.6" y1="581.2" x2="274.6" y2="583.85" stroke="#333" stroke-width="1.17"/>
<text stroke="#000" stroke-width="0.22" transform="translate(202.7 544.3) rotate(-90)" font-size="8.2" text-anchor="middle">ddCT [<tspan font-style="italic">MLT1C49</tspan>]</text>
<line x1="241" y1="568.38" x2="250.4" y2="568.38" stroke="#000" stroke-width="1.35"/>
<line x1="245.7" y1="564.49" x2="245.7" y2="572.26" stroke="#000" stroke-width="1"/>
<line x1="243.3" y1="564.49" x2="248.1" y2="564.49" stroke="#000" stroke-width="1"/>
<line x1="243.3" y1="572.26" x2="248.1" y2="572.26" stroke="#000" stroke-width="1"/>
<line x1="269.9" y1="529.92" x2="279.3" y2="529.92" stroke="#000" stroke-width="1.35"/>
<line x1="274.6" y1="523.7" x2="274.6" y2="536.13" stroke="#000" stroke-width="1"/>
<line x1="272.2" y1="523.7" x2="277" y2="523.7" stroke="#000" stroke-width="1"/>
<line x1="272.2" y1="536.13" x2="277" y2="536.13" stroke="#000" stroke-width="1"/>
<circle cx="228.8" cy="580.81" r="2.45" fill="#f4852c" stroke="#111" stroke-width="0.95"/>
<circle cx="233.6" cy="580.81" r="2.45" fill="#4a9a24" stroke="#111" stroke-width="0.95"/>
<circle cx="231.2" cy="580.81" r="2.45" fill="#4896f6" stroke="#111" stroke-width="0.95"/>
<circle cx="245.7" cy="560.22" r="2.45" fill="#4a9a24" stroke="#111" stroke-width="0.95"/>
<circle cx="248.1" cy="570.32" r="2.45" fill="#f4852c" stroke="#111" stroke-width="0.95"/>
<circle cx="243.3" cy="574.21" r="2.45" fill="#4896f6" stroke="#111" stroke-width="0.95"/>
<circle cx="257.9" cy="580.81" r="2.45" fill="#4896f6" stroke="#111" stroke-width="0.95"/>
<circle cx="262.7" cy="580.81" r="2.45" fill="#4a9a24" stroke="#111" stroke-width="0.95"/>
<circle cx="260.3" cy="580.81" r="2.45" fill="#f4852c" stroke="#111" stroke-width="0.95"/>
<circle cx="272.2" cy="521.37" r="2.45" fill="#4896f6" stroke="#111" stroke-width="0.95"/>
<circle cx="277.5" cy="526.03" r="2.45" fill="#4a9a24" stroke="#111" stroke-width="0.95"/>
<circle cx="274.6" cy="541.57" r="2.45" fill="#f4852c" stroke="#111" stroke-width="0.95"/>
<text stroke="#000" stroke-width="0.22" transform="translate(232.9 592.9) rotate(-45)" font-size="8.6" text-anchor="end" fill="#000">basal</text>
<text stroke="#000" stroke-width="0.22" transform="translate(247.4 592.9) rotate(-45)" font-size="8.6" text-anchor="end" fill="#000">Rt3D (0.1)</text>
<text stroke="#000" stroke-width="0.22" transform="translate(262 592.9) rotate(-45)" font-size="8.6" text-anchor="end" fill="#000">+ pal</text>
<text stroke="#000" stroke-width="0.22" transform="translate(276.3 592.9) rotate(-45)" font-size="8.6" text-anchor="end" fill="#000">Rt3D + pal</text>
<line x1="249.2" y1="514.8" x2="273.8" y2="514.8" stroke="#222" stroke-width="1"/>
<text stroke="#000" stroke-width="0.22" x="261.5" y="516.3" font-size="10" text-anchor="middle" fill="#000">*</text>
<line x1="324.4" y1="502.85" x2="324.4" y2="581.85" stroke="#333" stroke-width="1.3"/>
<line x1="323.75" y1="581.2" x2="387.2" y2="581.2" stroke="#333" stroke-width="1.3"/>
<line x1="321.75" y1="581.2" x2="324.4" y2="581.2" stroke="#333" stroke-width="1.17"/>
<text stroke="#000" stroke-width="0.22" x="319.2" y="584.15" font-size="8.2" text-anchor="end" fill="#000">0</text>
<line x1="321.75" y1="561.78" x2="324.4" y2="561.78" stroke="#333" stroke-width="1.17"/>
<text stroke="#000" stroke-width="0.22" x="319.2" y="564.73" font-size="8.2" text-anchor="end" fill="#000">1000</text>
<line x1="321.75" y1="542.35" x2="324.4" y2="542.35" stroke="#333" stroke-width="1.17"/>
<text stroke="#000" stroke-width="0.22" x="319.2" y="545.3" font-size="8.2" text-anchor="end" fill="#000">2000</text>
<line x1="321.75" y1="522.92" x2="324.4" y2="522.92" stroke="#333" stroke-width="1.17"/>
<text stroke="#000" stroke-width="0.22" x="319.2" y="525.88" font-size="8.2" text-anchor="end" fill="#000">3000</text>
<line x1="321.75" y1="503.5" x2="324.4" y2="503.5" stroke="#333" stroke-width="1.17"/>
<text stroke="#000" stroke-width="0.22" x="319.2" y="506.45" font-size="8.2" text-anchor="end" fill="#000">4000</text>
<line x1="335" y1="581.2" x2="335" y2="583.85" stroke="#333" stroke-width="1.17"/>
<line x1="349.3" y1="581.2" x2="349.3" y2="583.85" stroke="#333" stroke-width="1.17"/>
<line x1="363.6" y1="581.2" x2="363.6" y2="583.85" stroke="#333" stroke-width="1.17"/>
<line x1="378.2" y1="581.2" x2="378.2" y2="583.85" stroke="#333" stroke-width="1.17"/>
<text stroke="#000" stroke-width="0.22" transform="translate(295.2 544.3) rotate(-90)" font-size="8.2" text-anchor="middle">ddCT [<tspan font-style="italic">MER21C</tspan>]</text>
<line x1="344.6" y1="560.16" x2="354" y2="560.16" stroke="#000" stroke-width="1.35"/>
<line x1="349.3" y1="554.34" x2="349.3" y2="565.43" stroke="#000" stroke-width="1"/>
<line x1="346.9" y1="554.34" x2="351.7" y2="554.34" stroke="#000" stroke-width="1"/>
<line x1="346.9" y1="565.43" x2="351.7" y2="565.43" stroke="#000" stroke-width="1"/>
<line x1="373.5" y1="533.3" x2="382.9" y2="533.3" stroke="#000" stroke-width="1.35"/>
<line x1="378.2" y1="524.54" x2="378.2" y2="542.93" stroke="#000" stroke-width="1"/>
<line x1="375.8" y1="524.54" x2="380.6" y2="524.54" stroke="#000" stroke-width="1"/>
<line x1="375.8" y1="542.93" x2="380.6" y2="542.93" stroke="#000" stroke-width="1"/>
<circle cx="332.6" cy="581.2" r="2.45" fill="#4a9a24" stroke="#111" stroke-width="0.95"/>
<circle cx="337.4" cy="581.2" r="2.45" fill="#f4852c" stroke="#111" stroke-width="0.95"/>
<circle cx="335" cy="581.2" r="2.45" fill="#4896f6" stroke="#111" stroke-width="0.95"/>
<circle cx="349.3" cy="549.65" r="2.45" fill="#4a9a24" stroke="#111" stroke-width="0.95"/>
<circle cx="349.3" cy="561.04" r="2.45" fill="#4896f6" stroke="#111" stroke-width="0.95"/>
<circle cx="349.3" cy="569.82" r="2.45" fill="#f4852c" stroke="#111" stroke-width="0.95"/>
<circle cx="361.2" cy="581.2" r="2.45" fill="#4a9a24" stroke="#111" stroke-width="0.95"/>
<circle cx="366" cy="581.2" r="2.45" fill="#f4852c" stroke="#111" stroke-width="0.95"/>
<circle cx="363.6" cy="581.2" r="2.45" fill="#4896f6" stroke="#111" stroke-width="0.95"/>
<circle cx="375.8" cy="522.5" r="2.45" fill="#4a9a24" stroke="#111" stroke-width="0.95"/>
<circle cx="380.5" cy="524.54" r="2.45" fill="#f4852c" stroke="#111" stroke-width="0.95"/>
<circle cx="378.2" cy="552.86" r="2.45" fill="#4896f6" stroke="#111" stroke-width="0.95"/>
<text stroke="#000" stroke-width="0.22" transform="translate(336.7 592.9) rotate(-45)" font-size="8.6" text-anchor="end" fill="#000">basal</text>
<text stroke="#000" stroke-width="0.22" transform="translate(351 592.9) rotate(-45)" font-size="8.6" text-anchor="end" fill="#000">Rt3D (0.1)</text>
<text stroke="#000" stroke-width="0.22" transform="translate(365.3 592.9) rotate(-45)" font-size="8.6" text-anchor="end" fill="#000">+ 1 µM</text>
<text stroke="#000" stroke-width="0.22" transform="translate(379.9 592.9) rotate(-45)" font-size="8.6" text-anchor="end" fill="#000">Rt3D + 1 µM</text>
<line x1="419.4" y1="502.85" x2="419.4" y2="581.85" stroke="#333" stroke-width="1.3"/>
<line x1="418.75" y1="581.2" x2="482" y2="581.2" stroke="#333" stroke-width="1.3"/>
<line x1="416.75" y1="581.2" x2="419.4" y2="581.2" stroke="#333" stroke-width="1.17"/>
<text stroke="#000" stroke-width="0.22" x="414.2" y="584.15" font-size="8.2" text-anchor="end" fill="#000">0</text>
<line x1="416.75" y1="561.78" x2="419.4" y2="561.78" stroke="#333" stroke-width="1.17"/>
<text stroke="#000" stroke-width="0.22" x="414.2" y="564.73" font-size="8.2" text-anchor="end" fill="#000">10</text>
<line x1="416.75" y1="542.35" x2="419.4" y2="542.35" stroke="#333" stroke-width="1.17"/>
<text stroke="#000" stroke-width="0.22" x="414.2" y="545.3" font-size="8.2" text-anchor="end" fill="#000">20</text>
<line x1="416.75" y1="522.92" x2="419.4" y2="522.92" stroke="#333" stroke-width="1.17"/>
<text stroke="#000" stroke-width="0.22" x="414.2" y="525.88" font-size="8.2" text-anchor="end" fill="#000">30</text>
<line x1="416.75" y1="503.5" x2="419.4" y2="503.5" stroke="#333" stroke-width="1.17"/>
<text stroke="#000" stroke-width="0.22" x="414.2" y="506.45" font-size="8.2" text-anchor="end" fill="#000">40</text>
<line x1="429.2" y1="581.2" x2="429.2" y2="583.85" stroke="#333" stroke-width="1.17"/>
<line x1="443.5" y1="581.2" x2="443.5" y2="583.85" stroke="#333" stroke-width="1.17"/>
<line x1="457.8" y1="581.2" x2="457.8" y2="583.85" stroke="#333" stroke-width="1.17"/>
<line x1="472.4" y1="581.2" x2="472.4" y2="583.85" stroke="#333" stroke-width="1.17"/>
<text stroke="#000" stroke-width="0.22" transform="translate(398.2 544.3) rotate(-90)" font-size="8.2" text-anchor="middle">ddCT [<tspan font-style="italic">MLTA10</tspan>]</text>
<line x1="438.8" y1="564.69" x2="448.2" y2="564.69" stroke="#000" stroke-width="1.35"/>
<line x1="443.5" y1="560.42" x2="443.5" y2="569.16" stroke="#000" stroke-width="1"/>
<line x1="441.1" y1="560.42" x2="445.9" y2="560.42" stroke="#000" stroke-width="1"/>
<line x1="441.1" y1="569.16" x2="445.9" y2="569.16" stroke="#000" stroke-width="1"/>
<line x1="467.7" y1="538.47" x2="477.1" y2="538.47" stroke="#000" stroke-width="1.35"/>
<line x1="472.4" y1="529.72" x2="472.4" y2="547.21" stroke="#000" stroke-width="1"/>
<line x1="470" y1="529.72" x2="474.8" y2="529.72" stroke="#000" stroke-width="1"/>
<line x1="470" y1="547.21" x2="474.8" y2="547.21" stroke="#000" stroke-width="1"/>
<circle cx="427" cy="579.84" r="2.45" fill="#f4852c" stroke="#111" stroke-width="0.95"/>
<circle cx="431.4" cy="579.45" r="2.45" fill="#4896f6" stroke="#111" stroke-width="0.95"/>
<circle cx="429.2" cy="578.48" r="2.45" fill="#4a9a24" stroke="#111" stroke-width="0.95"/>
<circle cx="443.5" cy="556.34" r="2.45" fill="#4a9a24" stroke="#111" stroke-width="0.95"/>
<circle cx="443.5" cy="572.46" r="2.45" fill="#f4852c" stroke="#111" stroke-width="0.95"/>
<circle cx="443.5" cy="565.66" r="2.45" fill="#4896f6" stroke="#111" stroke-width="0.95"/>
<circle cx="455.5" cy="579.26" r="2.45" fill="#f4852c" stroke="#111" stroke-width="0.95"/>
<circle cx="460.3" cy="579.06" r="2.45" fill="#4a9a24" stroke="#111" stroke-width="0.95"/>
<circle cx="457.8" cy="578.67" r="2.45" fill="#4896f6" stroke="#111" stroke-width="0.95"/>
<circle cx="472.4" cy="524.67" r="2.45" fill="#4a9a24" stroke="#111" stroke-width="0.95"/>
<circle cx="472.4" cy="535.16" r="2.45" fill="#f4852c" stroke="#111" stroke-width="0.95"/>
<circle cx="472.4" cy="555.36" r="2.45" fill="#4896f6" stroke="#111" stroke-width="0.95"/>
<text stroke="#000" stroke-width="0.22" transform="translate(430.9 592.9) rotate(-45)" font-size="8.6" text-anchor="end" fill="#000">basal</text>
<text stroke="#000" stroke-width="0.22" transform="translate(445.2 592.9) rotate(-45)" font-size="8.6" text-anchor="end" fill="#000">Rt3D (0.1)</text>
<text stroke="#000" stroke-width="0.22" transform="translate(459.5 592.9) rotate(-45)" font-size="8.6" text-anchor="end" fill="#000">+ 1 µM</text>
<text stroke="#000" stroke-width="0.22" transform="translate(474.1 592.9) rotate(-45)" font-size="8.6" text-anchor="end" fill="#000">Rt3D + 1 µM</text>
<line x1="517.4" y1="502.85" x2="517.4" y2="581.85" stroke="#333" stroke-width="1.3"/>
<line x1="516.75" y1="581.2" x2="580.9" y2="581.2" stroke="#333" stroke-width="1.3"/>
<line x1="514.75" y1="581.2" x2="517.4" y2="581.2" stroke="#333" stroke-width="1.17"/>
<text stroke="#000" stroke-width="0.22" x="512.8" y="584.15" font-size="8.2" text-anchor="end" fill="#000">0</text>
<line x1="514.75" y1="565.66" x2="517.4" y2="565.66" stroke="#333" stroke-width="1.17"/>
<text stroke="#000" stroke-width="0.22" x="512.8" y="568.61" font-size="8.2" text-anchor="end" fill="#000">100</text>
<line x1="514.75" y1="550.12" x2="517.4" y2="550.12" stroke="#333" stroke-width="1.17"/>
<text stroke="#000" stroke-width="0.22" x="512.8" y="553.07" font-size="8.2" text-anchor="end" fill="#000">200</text>
<line x1="514.75" y1="534.58" x2="517.4" y2="534.58" stroke="#333" stroke-width="1.17"/>
<text stroke="#000" stroke-width="0.22" x="512.8" y="537.53" font-size="8.2" text-anchor="end" fill="#000">300</text>
<line x1="514.75" y1="519.04" x2="517.4" y2="519.04" stroke="#333" stroke-width="1.17"/>
<text stroke="#000" stroke-width="0.22" x="512.8" y="521.99" font-size="8.2" text-anchor="end" fill="#000">400</text>
<line x1="514.75" y1="503.5" x2="517.4" y2="503.5" stroke="#333" stroke-width="1.17"/>
<text stroke="#000" stroke-width="0.22" x="512.8" y="506.45" font-size="8.2" text-anchor="end" fill="#000">500</text>
<line x1="527.9" y1="581.2" x2="527.9" y2="583.85" stroke="#333" stroke-width="1.17"/>
<line x1="542.5" y1="581.2" x2="542.5" y2="583.85" stroke="#333" stroke-width="1.17"/>
<line x1="557.1" y1="581.2" x2="557.1" y2="583.85" stroke="#333" stroke-width="1.17"/>
<line x1="571.4" y1="581.2" x2="571.4" y2="583.85" stroke="#333" stroke-width="1.17"/>
<text stroke="#000" stroke-width="0.22" transform="translate(492.6 544.3) rotate(-90)" font-size="8.2" text-anchor="middle">ddCT [<tspan font-style="italic">MLT1C627</tspan>]</text>
<line x1="537.8" y1="542.66" x2="547.2" y2="542.66" stroke="#000" stroke-width="1.35"/>
<line x1="542.5" y1="531.16" x2="542.5" y2="554.32" stroke="#000" stroke-width="1"/>
<line x1="540.1" y1="531.16" x2="544.9" y2="531.16" stroke="#000" stroke-width="1"/>
<line x1="540.1" y1="554.32" x2="544.9" y2="554.32" stroke="#000" stroke-width="1"/>
<line x1="566.7" y1="534.89" x2="576.1" y2="534.89" stroke="#000" stroke-width="1.35"/>
<line x1="571.4" y1="524.48" x2="571.4" y2="544.99" stroke="#000" stroke-width="1"/>
<line x1="569" y1="524.48" x2="573.8" y2="524.48" stroke="#000" stroke-width="1"/>
<line x1="569" y1="544.99" x2="573.8" y2="544.99" stroke="#000" stroke-width="1"/>
<circle cx="525.5" cy="581.2" r="2.45" fill="#4a9a24" stroke="#111" stroke-width="0.95"/>
<circle cx="530.3" cy="581.2" r="2.45" fill="#f4852c" stroke="#111" stroke-width="0.95"/>
<circle cx="527.9" cy="581.2" r="2.45" fill="#4896f6" stroke="#111" stroke-width="0.95"/>
<circle cx="540.1" cy="530.85" r="2.45" fill="#4896f6" stroke="#111" stroke-width="0.95"/>
<circle cx="544.9" cy="531.94" r="2.45" fill="#4a9a24" stroke="#111" stroke-width="0.95"/>
<circle cx="542.5" cy="565.5" r="2.45" fill="#f4852c" stroke="#111" stroke-width="0.95"/>
<circle cx="554.7" cy="581.2" r="2.45" fill="#f4852c" stroke="#111" stroke-width="0.95"/>
<circle cx="559.5" cy="581.2" r="2.45" fill="#4a9a24" stroke="#111" stroke-width="0.95"/>
<circle cx="557.1" cy="581.2" r="2.45" fill="#4896f6" stroke="#111" stroke-width="0.95"/>
<circle cx="571.4" cy="521.84" r="2.45" fill="#4a9a24" stroke="#111" stroke-width="0.95"/>
<circle cx="571.4" cy="528.21" r="2.45" fill="#f4852c" stroke="#111" stroke-width="0.95"/>
<circle cx="571.4" cy="555.4" r="2.45" fill="#4896f6" stroke="#111" stroke-width="0.95"/>
<text stroke="#000" stroke-width="0.22" transform="translate(529.6 592.9) rotate(-45)" font-size="8.6" text-anchor="end" fill="#000">basal</text>
<text stroke="#000" stroke-width="0.22" transform="translate(544.2 592.9) rotate(-45)" font-size="8.6" text-anchor="end" fill="#000">Rt3D (0.1)</text>
<text stroke="#000" stroke-width="0.22" transform="translate(558.8 592.9) rotate(-45)" font-size="8.6" text-anchor="end" fill="#000">+ 1 µM</text>
<text stroke="#000" stroke-width="0.22" transform="translate(573.1 592.9) rotate(-45)" font-size="8.6" text-anchor="end" fill="#000">Rt3D + 1 µM</text>
<line x1="614.7" y1="502.85" x2="614.7" y2="581.85" stroke="#333" stroke-width="1.3"/>
<line x1="614.05" y1="581.2" x2="683" y2="581.2" stroke="#333" stroke-width="1.3"/>
<line x1="612.05" y1="581.2" x2="614.7" y2="581.2" stroke="#333" stroke-width="1.17"/>
<text stroke="#000" stroke-width="0.22" x="610.7" y="584.15" font-size="8.2" text-anchor="end" fill="#000">0</text>
<line x1="612.05" y1="565.66" x2="614.7" y2="565.66" stroke="#333" stroke-width="1.17"/>
<text stroke="#000" stroke-width="0.22" x="610.7" y="568.61" font-size="8.2" text-anchor="end" fill="#000">20</text>
<line x1="612.05" y1="550.12" x2="614.7" y2="550.12" stroke="#333" stroke-width="1.17"/>
<text stroke="#000" stroke-width="0.22" x="610.7" y="553.07" font-size="8.2" text-anchor="end" fill="#000">40</text>
<line x1="612.05" y1="534.58" x2="614.7" y2="534.58" stroke="#333" stroke-width="1.17"/>
<text stroke="#000" stroke-width="0.22" x="610.7" y="537.53" font-size="8.2" text-anchor="end" fill="#000">60</text>
<line x1="612.05" y1="519.04" x2="614.7" y2="519.04" stroke="#333" stroke-width="1.17"/>
<text stroke="#000" stroke-width="0.22" x="610.7" y="521.99" font-size="8.2" text-anchor="end" fill="#000">80</text>
<line x1="612.05" y1="503.5" x2="614.7" y2="503.5" stroke="#333" stroke-width="1.17"/>
<text stroke="#000" stroke-width="0.22" x="610.7" y="506.45" font-size="8.2" text-anchor="end" fill="#000">100</text>
<line x1="626.4" y1="581.2" x2="626.4" y2="583.85" stroke="#333" stroke-width="1.17"/>
<line x1="641.3" y1="581.2" x2="641.3" y2="583.85" stroke="#333" stroke-width="1.17"/>
<line x1="655.6" y1="581.2" x2="655.6" y2="583.85" stroke="#333" stroke-width="1.17"/>
<line x1="670.2" y1="581.2" x2="670.2" y2="583.85" stroke="#333" stroke-width="1.17"/>
<text stroke="#000" stroke-width="0.22" transform="translate(590.7 544.3) rotate(-90)" font-size="8.2" text-anchor="middle">ddCT [<tspan font-style="italic">MER57B1</tspan>]</text>
<line x1="636.6" y1="532.25" x2="646" y2="532.25" stroke="#000" stroke-width="1.35"/>
<line x1="641.3" y1="522.15" x2="641.3" y2="542.35" stroke="#000" stroke-width="1"/>
<line x1="638.9" y1="522.15" x2="643.7" y2="522.15" stroke="#000" stroke-width="1"/>
<line x1="638.9" y1="542.35" x2="643.7" y2="542.35" stroke="#000" stroke-width="1"/>
<line x1="665.5" y1="544.68" x2="674.9" y2="544.68" stroke="#000" stroke-width="1.35"/>
<line x1="670.2" y1="541.26" x2="670.2" y2="547.94" stroke="#000" stroke-width="1"/>
<line x1="667.8" y1="541.26" x2="672.6" y2="541.26" stroke="#000" stroke-width="1"/>
<line x1="667.8" y1="547.94" x2="672.6" y2="547.94" stroke="#000" stroke-width="1"/>
<circle cx="624" cy="580.81" r="2.45" fill="#f4852c" stroke="#111" stroke-width="0.95"/>
<circle cx="628.8" cy="580.81" r="2.45" fill="#4896f6" stroke="#111" stroke-width="0.95"/>
<circle cx="626.4" cy="580.81" r="2.45" fill="#4a9a24" stroke="#111" stroke-width="0.95"/>
<circle cx="641.3" cy="513.21" r="2.45" fill="#4a9a24" stroke="#111" stroke-width="0.95"/>
<circle cx="641.3" cy="534.89" r="2.45" fill="#4896f6" stroke="#111" stroke-width="0.95"/>
<circle cx="641.3" cy="548.33" r="2.45" fill="#f4852c" stroke="#111" stroke-width="0.95"/>
<circle cx="653.2" cy="580.81" r="2.45" fill="#f4852c" stroke="#111" stroke-width="0.95"/>
<circle cx="658" cy="580.81" r="2.45" fill="#4896f6" stroke="#111" stroke-width="0.95"/>
<circle cx="655.6" cy="580.81" r="2.45" fill="#4a9a24" stroke="#111" stroke-width="0.95"/>
<circle cx="667.6" cy="540.49" r="2.45" fill="#f4852c" stroke="#111" stroke-width="0.95"/>
<circle cx="672.8" cy="540.8" r="2.45" fill="#4a9a24" stroke="#111" stroke-width="0.95"/>
<circle cx="670.2" cy="551.29" r="2.45" fill="#4896f6" stroke="#111" stroke-width="0.95"/>
<text stroke="#000" stroke-width="0.22" transform="translate(628.1 592.9) rotate(-45)" font-size="8.6" text-anchor="end" fill="#000">basal</text>
<text stroke="#000" stroke-width="0.22" transform="translate(643 592.9) rotate(-45)" font-size="8.6" text-anchor="end" fill="#000">Rt3D (0.1)</text>
<text stroke="#000" stroke-width="0.22" transform="translate(657.3 592.9) rotate(-45)" font-size="8.6" text-anchor="end" fill="#000">+ 1 µM</text>
<text stroke="#000" stroke-width="0.22" transform="translate(671.9 592.9) rotate(-45)" font-size="8.6" text-anchor="end" fill="#000">Rt3D + 1 µM</text>
<text stroke="#000" stroke-width="0.22" x="167.7" y="644.1" font-size="13.5" text-anchor="start" fill="#000">J.</text>
<line x1="222.3" y1="638.35" x2="222.3" y2="717.05" stroke="#333" stroke-width="1.3"/>
<line x1="221.65" y1="716.4" x2="276" y2="716.4" stroke="#333" stroke-width="1.3"/>
<line x1="219.65" y1="716.4" x2="222.3" y2="716.4" stroke="#333" stroke-width="1.17"/>
<text stroke="#000" stroke-width="0.22" x="215.5" y="719.35" font-size="8.2" text-anchor="end" fill="#000">0</text>
<line x1="219.65" y1="690.6" x2="222.3" y2="690.6" stroke="#333" stroke-width="1.17"/>
<text stroke="#000" stroke-width="0.22" x="215.5" y="693.55" font-size="8.2" text-anchor="end" fill="#000">100</text>
<line x1="219.65" y1="664.8" x2="222.3" y2="664.8" stroke="#333" stroke-width="1.17"/>
<text stroke="#000" stroke-width="0.22" x="215.5" y="667.75" font-size="8.2" text-anchor="end" fill="#000">200</text>
<line x1="219.65" y1="639" x2="222.3" y2="639" stroke="#333" stroke-width="1.17"/>
<text stroke="#000" stroke-width="0.22" x="215.5" y="641.95" font-size="8.2" text-anchor="end" fill="#000">300</text>
<line x1="230.1" y1="716.4" x2="230.1" y2="719.05" stroke="#333" stroke-width="1.17"/>
<line x1="242.3" y1="716.4" x2="242.3" y2="719.05" stroke="#333" stroke-width="1.17"/>
<line x1="255.1" y1="716.4" x2="255.1" y2="719.05" stroke="#333" stroke-width="1.17"/>
<line x1="267.5" y1="716.4" x2="267.5" y2="719.05" stroke="#333" stroke-width="1.17"/>
<text stroke="#000" stroke-width="0.22" transform="translate(195.5 679.4) rotate(-90)" font-size="8.2" text-anchor="middle">ddCT [<tspan font-style="italic">MLT1C49</tspan>]</text>
<line x1="237.6" y1="668.93" x2="247" y2="668.93" stroke="#000" stroke-width="1.35"/>
<line x1="242.3" y1="656.8" x2="242.3" y2="680.8" stroke="#000" stroke-width="1"/>
<line x1="239.9" y1="656.8" x2="244.7" y2="656.8" stroke="#000" stroke-width="1"/>
<line x1="239.9" y1="680.8" x2="244.7" y2="680.8" stroke="#000" stroke-width="1"/>
<circle cx="227.7" cy="716.4" r="2.45" fill="#f4852c" stroke="#111" stroke-width="0.95"/>
<circle cx="232.5" cy="716.4" r="2.45" fill="#4896f6" stroke="#111" stroke-width="0.95"/>
<circle cx="230.1" cy="716.4" r="2.45" fill="#4a9a24" stroke="#111" stroke-width="0.95"/>
<circle cx="242.3" cy="644.93" r="2.45" fill="#4a9a24" stroke="#111" stroke-width="0.95"/>
<circle cx="244.3" cy="678.22" r="2.45" fill="#4896f6" stroke="#111" stroke-width="0.95"/>
<circle cx="240.6" cy="682.6" r="2.45" fill="#f4852c" stroke="#111" stroke-width="0.95"/>
<circle cx="252.7" cy="716.4" r="2.45" fill="#f4852c" stroke="#111" stroke-width="0.95"/>
<circle cx="257.5" cy="716.4" r="2.45" fill="#4896f6" stroke="#111" stroke-width="0.95"/>
<circle cx="255.1" cy="716.4" r="2.45" fill="#4a9a24" stroke="#111" stroke-width="0.95"/>
<circle cx="265.1" cy="716.4" r="2.45" fill="#f4852c" stroke="#111" stroke-width="0.95"/>
<circle cx="269.9" cy="716.4" r="2.45" fill="#4896f6" stroke="#111" stroke-width="0.95"/>
<circle cx="267.5" cy="716.4" r="2.45" fill="#4a9a24" stroke="#111" stroke-width="0.95"/>
<text stroke="#000" stroke-width="0.22" x="230.1" y="731.2" font-size="8.2" text-anchor="middle" fill="#000">-</text>
<text stroke="#000" stroke-width="0.22" x="242.3" y="731.2" font-size="8.2" text-anchor="middle" fill="#000">+</text>
<text stroke="#000" stroke-width="0.22" x="255.1" y="731.2" font-size="8.2" text-anchor="middle" fill="#000">+</text>
<text stroke="#000" stroke-width="0.22" x="267.5" y="731.2" font-size="8.2" text-anchor="middle" fill="#000">+</text>
<text stroke="#000" stroke-width="0.22" x="230.1" y="741" font-size="8.2" text-anchor="middle" fill="#000">-</text>
<text stroke="#000" stroke-width="0.22" x="242.3" y="741" font-size="8.2" text-anchor="middle" fill="#000">+</text>
<text stroke="#000" stroke-width="0.22" x="255.1" y="741" font-size="8.2" text-anchor="middle" fill="#000">-</text>
<text stroke="#000" stroke-width="0.22" x="267.5" y="741" font-size="8.2" text-anchor="middle" fill="#000">+</text>
<text stroke="#000" stroke-width="0.22" x="230.1" y="750.8" font-size="8.2" text-anchor="middle" fill="#000">-</text>
<text stroke="#000" stroke-width="0.22" x="242.3" y="750.8" font-size="8.2" text-anchor="middle" fill="#000">-</text>
<text stroke="#000" stroke-width="0.22" x="255.1" y="750.8" font-size="8.2" text-anchor="middle" fill="#000">+</text>
<text stroke="#000" stroke-width="0.22" x="267.5" y="750.8" font-size="8.2" text-anchor="middle" fill="#000">+</text>
<text stroke="#000" stroke-width="0.22" x="223.8" y="731.2" font-size="8.2" text-anchor="end" fill="#000">+ Rt3D (0.1):</text>
<text stroke="#000" stroke-width="0.22" x="223.8" y="741" font-size="8.2" text-anchor="end" fill="#000">+ pal:</text>
<text stroke="#000" stroke-width="0.22" x="223.8" y="750.8" font-size="8.2" text-anchor="end" fill="#000">+ RUX:</text>
<line x1="324.7" y1="638.35" x2="324.7" y2="717.05" stroke="#333" stroke-width="1.3"/>
<line x1="324.05" y1="716.4" x2="379.3" y2="716.4" stroke="#333" stroke-width="1.3"/>
<line x1="322.05" y1="716.4" x2="324.7" y2="716.4" stroke="#333" stroke-width="1.17"/>
<text stroke="#000" stroke-width="0.22" x="319.4" y="719.35" font-size="8.2" text-anchor="end" fill="#000">0</text>
<line x1="322.05" y1="690.6" x2="324.7" y2="690.6" stroke="#333" stroke-width="1.17"/>
<text stroke="#000" stroke-width="0.22" x="319.4" y="693.55" font-size="8.2" text-anchor="end" fill="#000">1000</text>
<line x1="322.05" y1="664.8" x2="324.7" y2="664.8" stroke="#333" stroke-width="1.17"/>
<text stroke="#000" stroke-width="0.22" x="319.4" y="667.75" font-size="8.2" text-anchor="end" fill="#000">2000</text>
<line x1="322.05" y1="639" x2="324.7" y2="639" stroke="#333" stroke-width="1.17"/>
<text stroke="#000" stroke-width="0.22" x="319.4" y="641.95" font-size="8.2" text-anchor="end" fill="#000">3000</text>
<line x1="334" y1="716.4" x2="334" y2="719.05" stroke="#333" stroke-width="1.17"/>
<line x1="346.3" y1="716.4" x2="346.3" y2="719.05" stroke="#333" stroke-width="1.17"/>
<line x1="358.8" y1="716.4" x2="358.8" y2="719.05" stroke="#333" stroke-width="1.17"/>
<line x1="371.1" y1="716.4" x2="371.1" y2="719.05" stroke="#333" stroke-width="1.17"/>
<text stroke="#000" stroke-width="0.22" transform="translate(294.6 679.4) rotate(-90)" font-size="8.2" text-anchor="middle">ddCT [<tspan font-style="italic">MER21C</tspan>]</text>
<line x1="341.6" y1="690.37" x2="351" y2="690.37" stroke="#000" stroke-width="1.35"/>
<line x1="346.3" y1="667.51" x2="346.3" y2="716.4" stroke="#000" stroke-width="1"/>
<line x1="343.9" y1="667.51" x2="348.7" y2="667.51" stroke="#000" stroke-width="1"/>
<line x1="343.9" y1="716.4" x2="348.7" y2="716.4" stroke="#000" stroke-width="1"/>
<circle cx="331.6" cy="716.4" r="2.45" fill="#4896f6" stroke="#111" stroke-width="0.95"/>
<circle cx="336.4" cy="716.4" r="2.45" fill="#f4852c" stroke="#111" stroke-width="0.95"/>
<circle cx="334" cy="716.4" r="2.45" fill="#4a9a24" stroke="#111" stroke-width="0.95"/>
<circle cx="346.3" cy="645.06" r="2.45" fill="#4a9a24" stroke="#111" stroke-width="0.95"/>
<circle cx="348.5" cy="711.06" r="2.45" fill="#f4852c" stroke="#111" stroke-width="0.95"/>
<circle cx="344.5" cy="715.34" r="2.45" fill="#4896f6" stroke="#111" stroke-width="0.95"/>
<circle cx="356.4" cy="716.4" r="2.45" fill="#4896f6" stroke="#111" stroke-width="0.95"/>
<circle cx="361.2" cy="716.4" r="2.45" fill="#f4852c" stroke="#111" stroke-width="0.95"/>
<circle cx="358.8" cy="716.4" r="2.45" fill="#4a9a24" stroke="#111" stroke-width="0.95"/>
<circle cx="368.7" cy="716.4" r="2.45" fill="#4896f6" stroke="#111" stroke-width="0.95"/>
<circle cx="373.5" cy="716.4" r="2.45" fill="#f4852c" stroke="#111" stroke-width="0.95"/>
<circle cx="371.1" cy="716.4" r="2.45" fill="#4a9a24" stroke="#111" stroke-width="0.95"/>
<text stroke="#000" stroke-width="0.22" x="334" y="731.2" font-size="8.2" text-anchor="middle" fill="#000">-</text>
<text stroke="#000" stroke-width="0.22" x="346.3" y="731.2" font-size="8.2" text-anchor="middle" fill="#000">+</text>
<text stroke="#000" stroke-width="0.22" x="358.8" y="731.2" font-size="8.2" text-anchor="middle" fill="#000">+</text>
<text stroke="#000" stroke-width="0.22" x="371.1" y="731.2" font-size="8.2" text-anchor="middle" fill="#000">+</text>
<text stroke="#000" stroke-width="0.22" x="334" y="741" font-size="8.2" text-anchor="middle" fill="#000">-</text>
<text stroke="#000" stroke-width="0.22" x="346.3" y="741" font-size="8.2" text-anchor="middle" fill="#000">+</text>
<text stroke="#000" stroke-width="0.22" x="358.8" y="741" font-size="8.2" text-anchor="middle" fill="#000">-</text>
<text stroke="#000" stroke-width="0.22" x="371.1" y="741" font-size="8.2" text-anchor="middle" fill="#000">+</text>
<text stroke="#000" stroke-width="0.22" x="334" y="750.8" font-size="8.2" text-anchor="middle" fill="#000">-</text>
<text stroke="#000" stroke-width="0.22" x="346.3" y="750.8" font-size="8.2" text-anchor="middle" fill="#000">-</text>
<text stroke="#000" stroke-width="0.22" x="358.8" y="750.8" font-size="8.2" text-anchor="middle" fill="#000">+</text>
<text stroke="#000" stroke-width="0.22" x="371.1" y="750.8" font-size="8.2" text-anchor="middle" fill="#000">+</text>
<line x1="418.7" y1="638.35" x2="418.7" y2="717.05" stroke="#333" stroke-width="1.3"/>
<line x1="418.05" y1="716.4" x2="473" y2="716.4" stroke="#333" stroke-width="1.3"/>
<line x1="416.05" y1="716.4" x2="418.7" y2="716.4" stroke="#333" stroke-width="1.17"/>
<text stroke="#000" stroke-width="0.22" x="413.4" y="719.35" font-size="8.2" text-anchor="end" fill="#000">0</text>
<line x1="416.05" y1="697.05" x2="418.7" y2="697.05" stroke="#333" stroke-width="1.17"/>
<text stroke="#000" stroke-width="0.22" x="413.4" y="700" font-size="8.2" text-anchor="end" fill="#000">10</text>
<line x1="416.05" y1="677.7" x2="418.7" y2="677.7" stroke="#333" stroke-width="1.17"/>
<text stroke="#000" stroke-width="0.22" x="413.4" y="680.65" font-size="8.2" text-anchor="end" fill="#000">20</text>
<line x1="416.05" y1="658.35" x2="418.7" y2="658.35" stroke="#333" stroke-width="1.17"/>
<text stroke="#000" stroke-width="0.22" x="413.4" y="661.3" font-size="8.2" text-anchor="end" fill="#000">30</text>
<line x1="416.05" y1="639" x2="418.7" y2="639" stroke="#333" stroke-width="1.17"/>
<text stroke="#000" stroke-width="0.22" x="413.4" y="641.95" font-size="8.2" text-anchor="end" fill="#000">40</text>
<line x1="428.3" y1="716.4" x2="428.3" y2="719.05" stroke="#333" stroke-width="1.17"/>
<line x1="440.2" y1="716.4" x2="440.2" y2="719.05" stroke="#333" stroke-width="1.17"/>
<line x1="452.7" y1="716.4" x2="452.7" y2="719.05" stroke="#333" stroke-width="1.17"/>
<line x1="465.2" y1="716.4" x2="465.2" y2="719.05" stroke="#333" stroke-width="1.17"/>
<text stroke="#000" stroke-width="0.22" transform="translate(398.2 679.4) rotate(-90)" font-size="8.2" text-anchor="middle">ddCT [<tspan font-style="italic">MLTA10</tspan>]</text>
<line x1="435.5" y1="677.7" x2="444.9" y2="677.7" stroke="#000" stroke-width="1.35"/>
<line x1="440.2" y1="663.57" x2="440.2" y2="691.83" stroke="#000" stroke-width="1"/>
<line x1="437.8" y1="663.57" x2="442.6" y2="663.57" stroke="#000" stroke-width="1"/>
<line x1="437.8" y1="691.83" x2="442.6" y2="691.83" stroke="#000" stroke-width="1"/>
<circle cx="426.1" cy="715.63" r="2.45" fill="#4896f6" stroke="#111" stroke-width="0.95"/>
<circle cx="430.5" cy="715.05" r="2.45" fill="#f4852c" stroke="#111" stroke-width="0.95"/>
<circle cx="428.3" cy="712.92" r="2.45" fill="#4a9a24" stroke="#111" stroke-width="0.95"/>
<circle cx="440.2" cy="649.84" r="2.45" fill="#4a9a24" stroke="#111" stroke-width="0.95"/>
<circle cx="440.2" cy="687.18" r="2.45" fill="#f4852c" stroke="#111" stroke-width="0.95"/>
<circle cx="440.2" cy="697.05" r="2.45" fill="#4896f6" stroke="#111" stroke-width="0.95"/>
<circle cx="450.5" cy="715.63" r="2.45" fill="#4896f6" stroke="#111" stroke-width="0.95"/>
<circle cx="454.9" cy="715.05" r="2.45" fill="#f4852c" stroke="#111" stroke-width="0.95"/>
<circle cx="452.7" cy="712.92" r="2.45" fill="#4a9a24" stroke="#111" stroke-width="0.95"/>
<circle cx="463" cy="715.63" r="2.45" fill="#4896f6" stroke="#111" stroke-width="0.95"/>
<circle cx="467.4" cy="715.05" r="2.45" fill="#f4852c" stroke="#111" stroke-width="0.95"/>
<circle cx="465.2" cy="712.92" r="2.45" fill="#4a9a24" stroke="#111" stroke-width="0.95"/>
<text stroke="#000" stroke-width="0.22" x="428.3" y="731.2" font-size="8.2" text-anchor="middle" fill="#000">-</text>
<text stroke="#000" stroke-width="0.22" x="440.2" y="731.2" font-size="8.2" text-anchor="middle" fill="#000">+</text>
<text stroke="#000" stroke-width="0.22" x="452.7" y="731.2" font-size="8.2" text-anchor="middle" fill="#000">+</text>
<text stroke="#000" stroke-width="0.22" x="465.2" y="731.2" font-size="8.2" text-anchor="middle" fill="#000">+</text>
<text stroke="#000" stroke-width="0.22" x="428.3" y="741" font-size="8.2" text-anchor="middle" fill="#000">-</text>
<text stroke="#000" stroke-width="0.22" x="440.2" y="741" font-size="8.2" text-anchor="middle" fill="#000">+</text>
<text stroke="#000" stroke-width="0.22" x="452.7" y="741" font-size="8.2" text-anchor="middle" fill="#000">-</text>
<text stroke="#000" stroke-width="0.22" x="465.2" y="741" font-size="8.2" text-anchor="middle" fill="#000">+</text>
<text stroke="#000" stroke-width="0.22" x="428.3" y="750.8" font-size="8.2" text-anchor="middle" fill="#000">-</text>
<text stroke="#000" stroke-width="0.22" x="440.2" y="750.8" font-size="8.2" text-anchor="middle" fill="#000">-</text>
<text stroke="#000" stroke-width="0.22" x="452.7" y="750.8" font-size="8.2" text-anchor="middle" fill="#000">+</text>
<text stroke="#000" stroke-width="0.22" x="465.2" y="750.8" font-size="8.2" text-anchor="middle" fill="#000">+</text>
<line x1="518.2" y1="638.35" x2="518.2" y2="717.05" stroke="#333" stroke-width="1.3"/>
<line x1="517.55" y1="716.4" x2="573.3" y2="716.4" stroke="#333" stroke-width="1.3"/>
<line x1="515.55" y1="716.4" x2="518.2" y2="716.4" stroke="#333" stroke-width="1.17"/>
<text stroke="#000" stroke-width="0.22" x="512.9" y="719.35" font-size="8.2" text-anchor="end" fill="#000">0</text>
<line x1="515.55" y1="700.92" x2="518.2" y2="700.92" stroke="#333" stroke-width="1.17"/>
<text stroke="#000" stroke-width="0.22" x="512.9" y="703.87" font-size="8.2" text-anchor="end" fill="#000">50</text>
<line x1="515.55" y1="685.44" x2="518.2" y2="685.44" stroke="#333" stroke-width="1.17"/>
<text stroke="#000" stroke-width="0.22" x="512.9" y="688.39" font-size="8.2" text-anchor="end" fill="#000">100</text>
<line x1="515.55" y1="669.96" x2="518.2" y2="669.96" stroke="#333" stroke-width="1.17"/>
<text stroke="#000" stroke-width="0.22" x="512.9" y="672.91" font-size="8.2" text-anchor="end" fill="#000">150</text>
<line x1="515.55" y1="654.48" x2="518.2" y2="654.48" stroke="#333" stroke-width="1.17"/>
<text stroke="#000" stroke-width="0.22" x="512.9" y="657.43" font-size="8.2" text-anchor="end" fill="#000">200</text>
<line x1="515.55" y1="639" x2="518.2" y2="639" stroke="#333" stroke-width="1.17"/>
<text stroke="#000" stroke-width="0.22" x="512.9" y="641.95" font-size="8.2" text-anchor="end" fill="#000">250</text>
<line x1="527.3" y1="716.4" x2="527.3" y2="719.05" stroke="#333" stroke-width="1.17"/>
<line x1="539.5" y1="716.4" x2="539.5" y2="719.05" stroke="#333" stroke-width="1.17"/>
<line x1="552" y1="716.4" x2="552" y2="719.05" stroke="#333" stroke-width="1.17"/>
<line x1="564.6" y1="716.4" x2="564.6" y2="719.05" stroke="#333" stroke-width="1.17"/>
<text stroke="#000" stroke-width="0.22" transform="translate(492.6 679.4) rotate(-90)" font-size="8.2" text-anchor="middle">ddCT [<tspan font-style="italic">MLT1C627</tspan>]</text>
<line x1="534.8" y1="669.96" x2="544.2" y2="669.96" stroke="#000" stroke-width="1.35"/>
<line x1="539.5" y1="656.34" x2="539.5" y2="685.13" stroke="#000" stroke-width="1"/>
<line x1="537.1" y1="656.34" x2="541.9" y2="656.34" stroke="#000" stroke-width="1"/>
<line x1="537.1" y1="685.13" x2="541.9" y2="685.13" stroke="#000" stroke-width="1"/>
<circle cx="524.9" cy="716.4" r="2.45" fill="#4896f6" stroke="#111" stroke-width="0.95"/>
<circle cx="529.7" cy="716.4" r="2.45" fill="#4a9a24" stroke="#111" stroke-width="0.95"/>
<circle cx="527.3" cy="716.4" r="2.45" fill="#f4852c" stroke="#111" stroke-width="0.95"/>
<circle cx="537.7" cy="653.3" r="2.45" fill="#4a9a24" stroke="#111" stroke-width="0.95"/>
<circle cx="541.7" cy="657.27" r="2.45" fill="#f4852c" stroke="#111" stroke-width="0.95"/>
<circle cx="539.5" cy="700.3" r="2.45" fill="#4896f6" stroke="#111" stroke-width="0.95"/>
<circle cx="549.6" cy="716.4" r="2.45" fill="#4896f6" stroke="#111" stroke-width="0.95"/>
<circle cx="554.4" cy="716.4" r="2.45" fill="#4a9a24" stroke="#111" stroke-width="0.95"/>
<circle cx="552" cy="716.4" r="2.45" fill="#f4852c" stroke="#111" stroke-width="0.95"/>
<circle cx="562.2" cy="716.4" r="2.45" fill="#4896f6" stroke="#111" stroke-width="0.95"/>
<circle cx="567" cy="716.4" r="2.45" fill="#4a9a24" stroke="#111" stroke-width="0.95"/>
<circle cx="564.6" cy="716.4" r="2.45" fill="#f4852c" stroke="#111" stroke-width="0.95"/>
<text stroke="#000" stroke-width="0.22" x="527.3" y="731.2" font-size="8.2" text-anchor="middle" fill="#000">-</text>
<text stroke="#000" stroke-width="0.22" x="539.5" y="731.2" font-size="8.2" text-anchor="middle" fill="#000">+</text>
<text stroke="#000" stroke-width="0.22" x="552" y="731.2" font-size="8.2" text-anchor="middle" fill="#000">+</text>
<text stroke="#000" stroke-width="0.22" x="564.6" y="731.2" font-size="8.2" text-anchor="middle" fill="#000">+</text>
<text stroke="#000" stroke-width="0.22" x="527.3" y="741" font-size="8.2" text-anchor="middle" fill="#000">-</text>
<text stroke="#000" stroke-width="0.22" x="539.5" y="741" font-size="8.2" text-anchor="middle" fill="#000">+</text>
<text stroke="#000" stroke-width="0.22" x="552" y="741" font-size="8.2" text-anchor="middle" fill="#000">-</text>
<text stroke="#000" stroke-width="0.22" x="564.6" y="741" font-size="8.2" text-anchor="middle" fill="#000">+</text>
<text stroke="#000" stroke-width="0.22" x="527.3" y="750.8" font-size="8.2" text-anchor="middle" fill="#000">-</text>
<text stroke="#000" stroke-width="0.22" x="539.5" y="750.8" font-size="8.2" text-anchor="middle" fill="#000">-</text>
<text stroke="#000" stroke-width="0.22" x="552" y="750.8" font-size="8.2" text-anchor="middle" fill="#000">+</text>
<text stroke="#000" stroke-width="0.22" x="564.6" y="750.8" font-size="8.2" text-anchor="middle" fill="#000">+</text>
<line x1="614" y1="638.35" x2="614" y2="717.05" stroke="#333" stroke-width="1.3"/>
<line x1="613.35" y1="716.4" x2="671.8" y2="716.4" stroke="#333" stroke-width="1.3"/>
<line x1="611.35" y1="716.4" x2="614" y2="716.4" stroke="#333" stroke-width="1.17"/>
<text stroke="#000" stroke-width="0.22" x="610.6" y="719.35" font-size="8.2" text-anchor="end" fill="#000">0</text>
<line x1="611.35" y1="690.6" x2="614" y2="690.6" stroke="#333" stroke-width="1.17"/>
<text stroke="#000" stroke-width="0.22" x="610.6" y="693.55" font-size="8.2" text-anchor="end" fill="#000">50</text>
<line x1="611.35" y1="664.8" x2="614" y2="664.8" stroke="#333" stroke-width="1.17"/>
<text stroke="#000" stroke-width="0.22" x="610.6" y="667.75" font-size="8.2" text-anchor="end" fill="#000">100</text>
<line x1="611.35" y1="639" x2="614" y2="639" stroke="#333" stroke-width="1.17"/>
<text stroke="#000" stroke-width="0.22" x="610.6" y="641.95" font-size="8.2" text-anchor="end" fill="#000">150</text>
<line x1="626.6" y1="716.4" x2="626.6" y2="719.05" stroke="#333" stroke-width="1.17"/>
<line x1="638.7" y1="716.4" x2="638.7" y2="719.05" stroke="#333" stroke-width="1.17"/>
<line x1="651.1" y1="716.4" x2="651.1" y2="719.05" stroke="#333" stroke-width="1.17"/>
<line x1="663.8" y1="716.4" x2="663.8" y2="719.05" stroke="#333" stroke-width="1.17"/>
<text stroke="#000" stroke-width="0.22" transform="translate(591.3 679.4) rotate(-90)" font-size="8.2" text-anchor="middle">ddCT [<tspan font-style="italic">MER57B1</tspan>]</text>
<line x1="634" y1="691.12" x2="643.4" y2="691.12" stroke="#000" stroke-width="1.35"/>
<line x1="638.7" y1="678.22" x2="638.7" y2="704.02" stroke="#000" stroke-width="1"/>
<line x1="636.3" y1="678.22" x2="641.1" y2="678.22" stroke="#000" stroke-width="1"/>
<line x1="636.3" y1="704.02" x2="641.1" y2="704.02" stroke="#000" stroke-width="1"/>
<circle cx="624.2" cy="715.88" r="2.45" fill="#f4852c" stroke="#111" stroke-width="0.95"/>
<circle cx="629" cy="715.88" r="2.45" fill="#4a9a24" stroke="#111" stroke-width="0.95"/>
<circle cx="626.6" cy="715.88" r="2.45" fill="#4896f6" stroke="#111" stroke-width="0.95"/>
<circle cx="638.7" cy="666.97" r="2.45" fill="#4a9a24" stroke="#111" stroke-width="0.95"/>
<circle cx="638.7" cy="698.34" r="2.45" fill="#4896f6" stroke="#111" stroke-width="0.95"/>
<circle cx="638.7" cy="708.25" r="2.45" fill="#f4852c" stroke="#111" stroke-width="0.95"/>
<circle cx="648.7" cy="715.88" r="2.45" fill="#f4852c" stroke="#111" stroke-width="0.95"/>
<circle cx="653.5" cy="715.88" r="2.45" fill="#4a9a24" stroke="#111" stroke-width="0.95"/>
<circle cx="651.1" cy="715.88" r="2.45" fill="#4896f6" stroke="#111" stroke-width="0.95"/>
<circle cx="661.4" cy="715.88" r="2.45" fill="#f4852c" stroke="#111" stroke-width="0.95"/>
<circle cx="666.2" cy="715.88" r="2.45" fill="#4a9a24" stroke="#111" stroke-width="0.95"/>
<circle cx="663.8" cy="715.88" r="2.45" fill="#4896f6" stroke="#111" stroke-width="0.95"/>
<text stroke="#000" stroke-width="0.22" x="626.6" y="731.2" font-size="8.2" text-anchor="middle" fill="#000">-</text>
<text stroke="#000" stroke-width="0.22" x="638.7" y="731.2" font-size="8.2" text-anchor="middle" fill="#000">+</text>
<text stroke="#000" stroke-width="0.22" x="651.1" y="731.2" font-size="8.2" text-anchor="middle" fill="#000">+</text>
<text stroke="#000" stroke-width="0.22" x="663.8" y="731.2" font-size="8.2" text-anchor="middle" fill="#000">+</text>
<text stroke="#000" stroke-width="0.22" x="626.6" y="741" font-size="8.2" text-anchor="middle" fill="#000">-</text>
<text stroke="#000" stroke-width="0.22" x="638.7" y="741" font-size="8.2" text-anchor="middle" fill="#000">+</text>
<text stroke="#000" stroke-width="0.22" x="651.1" y="741" font-size="8.2" text-anchor="middle" fill="#000">-</text>
<text stroke="#000" stroke-width="0.22" x="663.8" y="741" font-size="8.2" text-anchor="middle" fill="#000">+</text>
<text stroke="#000" stroke-width="0.22" x="626.6" y="750.8" font-size="8.2" text-anchor="middle" fill="#000">-</text>
<text stroke="#000" stroke-width="0.22" x="638.7" y="750.8" font-size="8.2" text-anchor="middle" fill="#000">-</text>
<text stroke="#000" stroke-width="0.22" x="651.1" y="750.8" font-size="8.2" text-anchor="middle" fill="#000">+</text>
<text stroke="#000" stroke-width="0.22" x="663.8" y="750.8" font-size="8.2" text-anchor="middle" fill="#000">+</text>
<text stroke="#000" stroke-width="0.22" x="1" y="808.8" font-size="13.5" text-anchor="start" fill="#000">K.</text>
<rect x="32.5" y="830.9" width="131.1" height="79.5" fill="#fff" stroke="#888" stroke-width="0.7"/>
<line x1="32.5" y1="830.9" x2="32.5" y2="910.4" stroke="#000" stroke-width="0.9"/>
<line x1="32.5" y1="910.4" x2="163.6" y2="910.4" stroke="#000" stroke-width="0.9"/>
<line x1="32.5" y1="910.4" x2="32.5" y2="912.6" stroke="#000" stroke-width="0.8"/>
<text stroke="#000" stroke-width="0.22" x="32.5" y="921.6" font-size="9.3" text-anchor="middle" fill="#000">−4</text>
<line x1="48.89" y1="910.4" x2="48.89" y2="912.6" stroke="#000" stroke-width="0.8"/>
<text stroke="#000" stroke-width="0.22" x="48.89" y="921.6" font-size="9.3" text-anchor="middle" fill="#000">−3</text>
<line x1="65.28" y1="910.4" x2="65.28" y2="912.6" stroke="#000" stroke-width="0.8"/>
<text stroke="#000" stroke-width="0.22" x="65.28" y="921.6" font-size="9.3" text-anchor="middle" fill="#000">−2</text>
<line x1="81.66" y1="910.4" x2="81.66" y2="912.6" stroke="#000" stroke-width="0.8"/>
<text stroke="#000" stroke-width="0.22" x="81.66" y="921.6" font-size="9.3" text-anchor="middle" fill="#000">−1</text>
<line x1="98.05" y1="910.4" x2="98.05" y2="912.6" stroke="#000" stroke-width="0.8"/>
<text stroke="#000" stroke-width="0.22" x="98.05" y="921.6" font-size="9.3" text-anchor="middle" fill="#000">0</text>
<line x1="114.44" y1="910.4" x2="114.44" y2="912.6" stroke="#000" stroke-width="0.8"/>
<text stroke="#000" stroke-width="0.22" x="114.44" y="921.6" font-size="9.3" text-anchor="middle" fill="#000">1</text>
<line x1="130.82" y1="910.4" x2="130.82" y2="912.6" stroke="#000" stroke-width="0.8"/>
<text stroke="#000" stroke-width="0.22" x="130.82" y="921.6" font-size="9.3" text-anchor="middle" fill="#000">2</text>
<line x1="147.21" y1="910.4" x2="147.21" y2="912.6" stroke="#000" stroke-width="0.8"/>
<text stroke="#000" stroke-width="0.22" x="147.21" y="921.6" font-size="9.3" text-anchor="middle" fill="#000">3</text>
<line x1="163.6" y1="910.4" x2="163.6" y2="912.6" stroke="#000" stroke-width="0.8"/>
<text stroke="#000" stroke-width="0.22" x="163.6" y="921.6" font-size="9.3" text-anchor="middle" fill="#000">4</text>
<line x1="30.3" y1="910.4" x2="32.5" y2="910.4" stroke="#000" stroke-width="0.8"/>
<text stroke="#000" stroke-width="0.22" x="29" y="913.7" font-size="9.3" text-anchor="end" fill="#000">0</text>
<line x1="30.3" y1="895.92" x2="32.5" y2="895.92" stroke="#000" stroke-width="0.8"/>
<text stroke="#000" stroke-width="0.22" x="29" y="899.22" font-size="9.3" text-anchor="end" fill="#000">10</text>
<line x1="30.3" y1="881.44" x2="32.5" y2="881.44" stroke="#000" stroke-width="0.8"/>
<text stroke="#000" stroke-width="0.22" x="29" y="884.74" font-size="9.3" text-anchor="end" fill="#000">20</text>
<line x1="30.3" y1="866.96" x2="32.5" y2="866.96" stroke="#000" stroke-width="0.8"/>
<text stroke="#000" stroke-width="0.22" x="29" y="870.26" font-size="9.3" text-anchor="end" fill="#000">30</text>
<line x1="30.3" y1="852.48" x2="32.5" y2="852.48" stroke="#000" stroke-width="0.8"/>
<text stroke="#000" stroke-width="0.22" x="29" y="855.78" font-size="9.3" text-anchor="end" fill="#000">40</text>
<line x1="30.3" y1="838" x2="32.5" y2="838" stroke="#000" stroke-width="0.8"/>
<text stroke="#000" stroke-width="0.22" x="29" y="841.3" font-size="9.3" text-anchor="end" fill="#000">50</text>
<text stroke="#000" stroke-width="0.22" x="98.4" y="826.3" font-size="9.35" text-anchor="middle" fill="#000">ERV transcripts RNAseq</text>
<text stroke="#000" stroke-width="0.22" x="98.2" y="932.9" font-size="9.2" text-anchor="middle" fill="#000">log2 fold change</text>
<text stroke="#000" stroke-width="0.22" transform="translate(16.6 871) rotate(-90)" font-size="9.5" text-anchor="middle" fill="#000">−log10 p−value</text>
<path d="M143.24 832.66h0M132.29 873.61h0M146.74 877.11h0M140.39 880.4h0M138.2 889.37h0M126.16 888.28h0M131.63 900.32h0M127.04 900.32h0M120.69 900.76h0M120.69 904.26h0M120.69 906.89h0M115.87 898.13h0M113.02 900.54h0M114.99 902.73h0M108.21 900.54h0M108.21 902.73h0M107.11 904.92h0M109.3 906.02h0M117.4 905.58h0M115.87 908.21h0M102.73 908.21h0M79.3 907.33h0M84.12 908.42h0M86.31 907.55h0M88.5 905.36h0M90.25 906.45h0M85.21 908.86h0" stroke="#f01010" stroke-width="2.7" stroke-linecap="round" fill="none"/>
<path d="M136.45 859.16h0M130.1 886.09h0M130.98 887.62h0M114.99 896.38h0M120.69 900.98h0M104.92 907.77h0M112.15 906.45h0M114.34 905.58h0M112.58 907.77h0" stroke="#000" stroke-width="2.7" stroke-linecap="round" fill="none"/>
<path d="M91.13 907.33h0M108.21 908.21h0" stroke="#30e030" stroke-width="2.7" stroke-linecap="round" fill="none"/>
<text stroke="#000" stroke-width="0.22" x="39.3" y="953.4" font-size="9.65"><tspan fill="#30e030">•</tspan> palbo <tspan>•</tspan> Rt3D <tspan fill="#f01010">•</tspan> Rt3D+palbo</text>
<text stroke="#000" stroke-width="0.22" x="169.8" y="808.8" font-size="13.5" text-anchor="start" fill="#000">L.</text>
<line x1="205.5" y1="927.8" x2="685" y2="927.8" stroke="#d0d0d0" stroke-width="0.8"/>
<text stroke="#555" stroke-width="0.22" transform="translate(197.2 855.2) rotate(-90)" font-size="7.5" text-anchor="middle" fill="#555">Log2 Fold Change</text>
<rect x="208.1" y="885.26" width="11.2" height="42.53" fill="#4463c9"/>
<line x1="219.3" y1="885.26" x2="224.6" y2="885.26" stroke="#d8d8d8" stroke-width="0.5"/>
<text x="213.7" y="883.87" font-size="6.6" text-anchor="middle" fill="#3c3c3c" font-weight="bold" stroke="none">2.35</text>
<line x1="205.45" y1="927.8" x2="205.45" y2="929.8" stroke="#999" stroke-width="0.5"/>
<text stroke="#444" stroke-width="0.22" transform="translate(216.3 932.1) rotate(-90)" font-size="7.5" text-anchor="end" fill="#444">LTR16A</text>
<rect x="224.6" y="866.62" width="11.2" height="18.64" fill="#4463c9"/>
<line x1="235.8" y1="866.62" x2="241.1" y2="866.62" stroke="#d8d8d8" stroke-width="0.5"/>
<text x="230.2" y="865.22" font-size="6.6" text-anchor="middle" fill="#3c3c3c" font-weight="bold" stroke="none">1.03</text>
<line x1="221.95" y1="927.8" x2="221.95" y2="929.8" stroke="#999" stroke-width="0.5"/>
<text stroke="#444" stroke-width="0.22" transform="translate(232.8 932.1) rotate(-90)" font-size="7.5" text-anchor="end" fill="#444">LTR81AB</text>
<rect x="241.1" y="853.05" width="11.2" height="13.58" fill="#4463c9"/>
<line x1="252.3" y1="853.05" x2="257.6" y2="853.05" stroke="#d8d8d8" stroke-width="0.5"/>
<text x="246.7" y="851.65" font-size="6.6" text-anchor="middle" fill="#3c3c3c" font-weight="bold" stroke="none">0.75</text>
<line x1="238.45" y1="927.8" x2="238.45" y2="929.8" stroke="#999" stroke-width="0.5"/>
<text stroke="#444" stroke-width="0.22" transform="translate(249.3 932.1) rotate(-90)" font-size="7.5" text-anchor="end" fill="#444">MLT1J-int</text>
<rect x="257.6" y="840.2" width="11.2" height="12.85" fill="#4463c9"/>
<line x1="268.8" y1="840.2" x2="274.1" y2="840.2" stroke="#d8d8d8" stroke-width="0.5"/>
<text x="263.2" y="838.8" font-size="6.6" text-anchor="middle" fill="#3c3c3c" font-weight="bold" stroke="none">0.71</text>
<line x1="254.95" y1="927.8" x2="254.95" y2="929.8" stroke="#999" stroke-width="0.5"/>
<text stroke="#444" stroke-width="0.22" transform="translate(265.8 932.1) rotate(-90)" font-size="7.5" text-anchor="end" fill="#444">MLT1K</text>
<rect x="274.1" y="830.24" width="11.2" height="9.95" fill="#4463c9"/>
<line x1="285.3" y1="830.24" x2="290.6" y2="830.24" stroke="#d8d8d8" stroke-width="0.5"/>
<text x="279.7" y="828.84" font-size="6.6" text-anchor="middle" fill="#3c3c3c" font-weight="bold" stroke="none">0.55</text>
<line x1="271.45" y1="927.8" x2="271.45" y2="929.8" stroke="#999" stroke-width="0.5"/>
<text stroke="#444" stroke-width="0.22" transform="translate(282.3 932.1) rotate(-90)" font-size="7.5" text-anchor="end" fill="#444">MER72</text>
<rect x="290.6" y="823.18" width="11.2" height="7.06" fill="#4463c9"/>
<line x1="301.8" y1="823.18" x2="307.1" y2="823.18" stroke="#d8d8d8" stroke-width="0.5"/>
<text x="296.2" y="821.78" font-size="6.6" text-anchor="middle" fill="#3c3c3c" font-weight="bold" stroke="none">0.39</text>
<line x1="287.95" y1="927.8" x2="287.95" y2="929.8" stroke="#999" stroke-width="0.5"/>
<text stroke="#444" stroke-width="0.22" transform="translate(298.8 932.1) rotate(-90)" font-size="7.5" text-anchor="end" fill="#444">MLT2B2</text>
<rect x="307.1" y="816.85" width="11.2" height="6.34" fill="#4463c9"/>
<line x1="318.3" y1="816.85" x2="323.6" y2="816.85" stroke="#d8d8d8" stroke-width="0.5"/>
<text x="312.7" y="815.45" font-size="6.6" text-anchor="middle" fill="#3c3c3c" font-weight="bold" stroke="none">0.35</text>
<line x1="304.45" y1="927.8" x2="304.45" y2="929.8" stroke="#999" stroke-width="0.5"/>
<text stroke="#444" stroke-width="0.22" transform="translate(315.3 932.1) rotate(-90)" font-size="7.5" text-anchor="end" fill="#444">ERVL-B4-int</text>
<rect x="323.6" y="811.05" width="11.2" height="5.79" fill="#4463c9"/>
<line x1="334.8" y1="811.05" x2="340.1" y2="811.05" stroke="#d8d8d8" stroke-width="0.5"/>
<text x="329.2" y="809.65" font-size="6.6" text-anchor="middle" fill="#3c3c3c" font-weight="bold" stroke="none">0.32</text>
<line x1="320.95" y1="927.8" x2="320.95" y2="929.8" stroke="#999" stroke-width="0.5"/>
<text stroke="#444" stroke-width="0.22" transform="translate(331.8 932.1) rotate(-90)" font-size="7.5" text-anchor="end" fill="#444">MER65-int</text>
<rect x="340.1" y="805.81" width="11.2" height="5.25" fill="#4463c9"/>
<line x1="351.3" y1="805.81" x2="356.6" y2="805.81" stroke="#d8d8d8" stroke-width="0.5"/>
<text x="345.7" y="804.41" font-size="6.6" text-anchor="middle" fill="#3c3c3c" font-weight="bold" stroke="none">0.29</text>
<line x1="337.45" y1="927.8" x2="337.45" y2="929.8" stroke="#999" stroke-width="0.5"/>
<text stroke="#444" stroke-width="0.22" transform="translate(348.3 932.1) rotate(-90)" font-size="7.5" text-anchor="end" fill="#444">LTR101_Mam</text>
<rect x="356.6" y="801.46" width="11.2" height="4.34" fill="#4463c9"/>
<line x1="367.8" y1="801.46" x2="373.1" y2="801.46" stroke="#d8d8d8" stroke-width="0.5"/>
<text x="362.2" y="800.06" font-size="6.6" text-anchor="middle" fill="#3c3c3c" font-weight="bold" stroke="none">0.24</text>
<line x1="353.95" y1="927.8" x2="353.95" y2="929.8" stroke="#999" stroke-width="0.5"/>
<text stroke="#444" stroke-width="0.22" transform="translate(364.8 932.1) rotate(-90)" font-size="7.5" text-anchor="end" fill="#444">MLT1A0</text>
<rect x="373.1" y="797.66" width="11.2" height="3.8" fill="#4463c9"/>
<line x1="384.3" y1="797.66" x2="389.6" y2="797.66" stroke="#d8d8d8" stroke-width="0.5"/>
<text x="378.7" y="796.26" font-size="6.6" text-anchor="middle" fill="#3c3c3c" font-weight="bold" stroke="none">0.21</text>
<line x1="370.45" y1="927.8" x2="370.45" y2="929.8" stroke="#999" stroke-width="0.5"/>
<text stroke="#444" stroke-width="0.22" transform="translate(381.3 932.1) rotate(-90)" font-size="7.5" text-anchor="end" fill="#444">MER74A</text>
<rect x="389.6" y="794.95" width="11.2" height="2.72" fill="#4463c9"/>
<line x1="400.8" y1="794.95" x2="406.1" y2="794.95" stroke="#d8d8d8" stroke-width="0.5"/>
<text x="395.2" y="793.55" font-size="6.6" text-anchor="middle" fill="#3c3c3c" font-weight="bold" stroke="none">0.15</text>
<line x1="386.95" y1="927.8" x2="386.95" y2="929.8" stroke="#999" stroke-width="0.5"/>
<text stroke="#444" stroke-width="0.22" transform="translate(397.8 932.1) rotate(-90)" font-size="7.5" text-anchor="end" fill="#444">LTR83</text>
<rect x="406.1" y="794.4" width="11.2" height="0.54" fill="#4463c9"/>
<line x1="417.3" y1="794.4" x2="422.6" y2="794.4" stroke="#d8d8d8" stroke-width="0.5"/>
<text x="411.7" y="793" font-size="6.6" text-anchor="middle" fill="#3c3c3c" font-weight="bold" stroke="none">0.03</text>
<line x1="403.45" y1="927.8" x2="403.45" y2="929.8" stroke="#999" stroke-width="0.5"/>
<text stroke="#444" stroke-width="0.22" transform="translate(414.3 932.1) rotate(-90)" font-size="7.5" text-anchor="end" fill="#444">MLT1B</text>
<rect x="422.6" y="794.04" width="11.2" height="0.36" fill="#4463c9"/>
<line x1="433.8" y1="794.04" x2="439.1" y2="794.04" stroke="#d8d8d8" stroke-width="0.5"/>
<text x="428.2" y="792.64" font-size="6.6" text-anchor="middle" fill="#3c3c3c" font-weight="bold" stroke="none">0.02</text>
<line x1="419.95" y1="927.8" x2="419.95" y2="929.8" stroke="#999" stroke-width="0.5"/>
<text stroke="#444" stroke-width="0.22" transform="translate(430.8 932.1) rotate(-90)" font-size="7.5" text-anchor="end" fill="#444">MER21A</text>
<rect x="439.1" y="793.86" width="11.2" height="0.35" fill="#4463c9"/>
<line x1="450.3" y1="793.86" x2="455.6" y2="793.86" stroke="#d8d8d8" stroke-width="0.5"/>
<text x="444.7" y="792.46" font-size="6.6" text-anchor="middle" fill="#3c3c3c" font-weight="bold" stroke="none">0.01</text>
<line x1="436.45" y1="927.8" x2="436.45" y2="929.8" stroke="#999" stroke-width="0.5"/>
<text stroke="#444" stroke-width="0.22" transform="translate(447.3 932.1) rotate(-90)" font-size="7.5" text-anchor="end" fill="#444">MER50</text>
<rect x="455.6" y="793.68" width="11.2" height="0.35" fill="#4463c9"/>
<line x1="466.8" y1="793.68" x2="472.1" y2="793.68" stroke="#d8d8d8" stroke-width="0.5"/>
<text x="461.2" y="792.28" font-size="6.6" text-anchor="middle" fill="#3c3c3c" font-weight="bold" stroke="none">0.01</text>
<line x1="452.95" y1="927.8" x2="452.95" y2="929.8" stroke="#999" stroke-width="0.5"/>
<text stroke="#444" stroke-width="0.22" transform="translate(463.8 932.1) rotate(-90)" font-size="7.5" text-anchor="end" fill="#444">LTR33B</text>
<rect x="472.1" y="793.68" width="11.2" height="0.36" fill="#e9712d"/>
<line x1="483.3" y1="794.04" x2="488.6" y2="794.04" stroke="#d8d8d8" stroke-width="0.5"/>
<text x="477.7" y="800.34" font-size="6.6" text-anchor="middle" fill="#3c3c3c" font-weight="bold" stroke="none">-0.02</text>
<line x1="469.45" y1="927.8" x2="469.45" y2="929.8" stroke="#999" stroke-width="0.5"/>
<text stroke="#444" stroke-width="0.22" transform="translate(480.3 932.1) rotate(-90)" font-size="7.5" text-anchor="end" fill="#444">MSTA</text>
<rect x="488.6" y="794.04" width="11.2" height="0.36" fill="#e9712d"/>
<line x1="499.8" y1="794.4" x2="505.1" y2="794.4" stroke="#d8d8d8" stroke-width="0.5"/>
<text x="494.2" y="800.7" font-size="6.6" text-anchor="middle" fill="#3c3c3c" font-weight="bold" stroke="none">-0.02</text>
<line x1="485.95" y1="927.8" x2="485.95" y2="929.8" stroke="#999" stroke-width="0.5"/>
<text stroke="#444" stroke-width="0.22" transform="translate(496.8 932.1) rotate(-90)" font-size="7.5" text-anchor="end" fill="#444">MLT1G3</text>
<rect x="505.1" y="794.4" width="11.2" height="1.45" fill="#e9712d"/>
<line x1="516.3" y1="795.85" x2="521.6" y2="795.85" stroke="#d8d8d8" stroke-width="0.5"/>
<text x="510.7" y="802.15" font-size="6.6" text-anchor="middle" fill="#3c3c3c" font-weight="bold" stroke="none">-0.08</text>
<line x1="502.45" y1="927.8" x2="502.45" y2="929.8" stroke="#999" stroke-width="0.5"/>
<text stroke="#444" stroke-width="0.22" transform="translate(513.3 932.1) rotate(-90)" font-size="7.5" text-anchor="end" fill="#444">LTR90A</text>
<rect x="521.6" y="795.85" width="11.2" height="1.45" fill="#e9712d"/>
<line x1="532.8" y1="797.3" x2="538.1" y2="797.3" stroke="#d8d8d8" stroke-width="0.5"/>
<text x="527.2" y="803.6" font-size="6.6" text-anchor="middle" fill="#3c3c3c" font-weight="bold" stroke="none">-0.08</text>
<line x1="518.95" y1="927.8" x2="518.95" y2="929.8" stroke="#999" stroke-width="0.5"/>
<text stroke="#444" stroke-width="0.22" transform="translate(529.8 932.1) rotate(-90)" font-size="7.5" text-anchor="end" fill="#444">MLT1D</text>
<rect x="538.1" y="797.3" width="11.2" height="1.81" fill="#e9712d"/>
<line x1="549.3" y1="799.11" x2="554.6" y2="799.11" stroke="#d8d8d8" stroke-width="0.5"/>
<text x="543.7" y="805.41" font-size="6.6" text-anchor="middle" fill="#3c3c3c" font-weight="bold" stroke="none">-0.10</text>
<line x1="535.45" y1="927.8" x2="535.45" y2="929.8" stroke="#999" stroke-width="0.5"/>
<text stroke="#444" stroke-width="0.22" transform="translate(546.3 932.1) rotate(-90)" font-size="7.5" text-anchor="end" fill="#444">MER4B-int</text>
<rect x="554.6" y="799.11" width="11.2" height="3.62" fill="#e9712d"/>
<line x1="565.8" y1="802.73" x2="571.1" y2="802.73" stroke="#d8d8d8" stroke-width="0.5"/>
<text x="560.2" y="809.03" font-size="6.6" text-anchor="middle" fill="#3c3c3c" font-weight="bold" stroke="none">-0.20</text>
<line x1="551.95" y1="927.8" x2="551.95" y2="929.8" stroke="#999" stroke-width="0.5"/>
<text stroke="#444" stroke-width="0.22" transform="translate(562.8 932.1) rotate(-90)" font-size="7.5" text-anchor="end" fill="#444">MER57C1</text>
<rect x="571.1" y="802.73" width="11.2" height="3.8" fill="#e9712d"/>
<line x1="582.3" y1="806.53" x2="587.6" y2="806.53" stroke="#d8d8d8" stroke-width="0.5"/>
<text x="576.7" y="812.83" font-size="6.6" text-anchor="middle" fill="#3c3c3c" font-weight="bold" stroke="none">-0.21</text>
<line x1="568.45" y1="927.8" x2="568.45" y2="929.8" stroke="#999" stroke-width="0.5"/>
<text stroke="#444" stroke-width="0.22" transform="translate(579.3 932.1) rotate(-90)" font-size="7.5" text-anchor="end" fill="#444">MamRep605</text>
<rect x="587.6" y="806.53" width="11.2" height="4.71" fill="#e9712d"/>
<line x1="598.8" y1="811.24" x2="604.1" y2="811.24" stroke="#d8d8d8" stroke-width="0.5"/>
<text x="593.2" y="817.54" font-size="6.6" text-anchor="middle" fill="#3c3c3c" font-weight="bold" stroke="none">-0.26</text>
<line x1="584.95" y1="927.8" x2="584.95" y2="929.8" stroke="#999" stroke-width="0.5"/>
<text stroke="#444" stroke-width="0.22" transform="translate(595.8 932.1) rotate(-90)" font-size="7.5" text-anchor="end" fill="#444">MLT1D</text>
<rect x="604.1" y="811.24" width="11.2" height="5.61" fill="#e9712d"/>
<line x1="615.3" y1="816.85" x2="620.6" y2="816.85" stroke="#d8d8d8" stroke-width="0.5"/>
<text x="609.7" y="823.15" font-size="6.6" text-anchor="middle" fill="#3c3c3c" font-weight="bold" stroke="none">-0.31</text>
<line x1="601.45" y1="927.8" x2="601.45" y2="929.8" stroke="#999" stroke-width="0.5"/>
<text stroke="#444" stroke-width="0.22" transform="translate(612.3 932.1) rotate(-90)" font-size="7.5" text-anchor="end" fill="#444">ERV3-16A3_I-int</text>
<rect x="620.6" y="816.85" width="11.2" height="6.88" fill="#e9712d"/>
<line x1="631.8" y1="823.72" x2="637.1" y2="823.72" stroke="#d8d8d8" stroke-width="0.5"/>
<text x="626.2" y="830.02" font-size="6.6" text-anchor="middle" fill="#3c3c3c" font-weight="bold" stroke="none">-0.38</text>
<line x1="617.95" y1="927.8" x2="617.95" y2="929.8" stroke="#999" stroke-width="0.5"/>
<text stroke="#444" stroke-width="0.22" transform="translate(628.8 932.1) rotate(-90)" font-size="7.5" text-anchor="end" fill="#444">MLT1B</text>
<rect x="637.1" y="823.72" width="11.2" height="7.96" fill="#e9712d"/>
<line x1="648.3" y1="831.69" x2="653.6" y2="831.69" stroke="#d8d8d8" stroke-width="0.5"/>
<text x="642.7" y="837.99" font-size="6.6" text-anchor="middle" fill="#3c3c3c" font-weight="bold" stroke="none">-0.44</text>
<line x1="634.45" y1="927.8" x2="634.45" y2="929.8" stroke="#999" stroke-width="0.5"/>
<text stroke="#444" stroke-width="0.22" transform="translate(645.3 932.1) rotate(-90)" font-size="7.5" text-anchor="end" fill="#444">MamGypLTR1d</text>
<rect x="653.6" y="831.69" width="11.2" height="10.68" fill="#e9712d"/>
<line x1="664.8" y1="842.37" x2="670.1" y2="842.37" stroke="#d8d8d8" stroke-width="0.5"/>
<text x="659.2" y="848.67" font-size="6.6" text-anchor="middle" fill="#3c3c3c" font-weight="bold" stroke="none">-0.59</text>
<line x1="650.95" y1="927.8" x2="650.95" y2="929.8" stroke="#999" stroke-width="0.5"/>
<text stroke="#444" stroke-width="0.22" transform="translate(661.8 932.1) rotate(-90)" font-size="7.5" text-anchor="end" fill="#444">LTR8</text>
<rect x="670.1" y="842.37" width="11.2" height="19.19" fill="#e9712d"/>
<text x="675.7" y="867.85" font-size="6.6" text-anchor="middle" fill="#3c3c3c" font-weight="bold" stroke="none">-1.06</text>
<line x1="667.45" y1="927.8" x2="667.45" y2="929.8" stroke="#999" stroke-width="0.5"/>
<text stroke="#444" stroke-width="0.22" transform="translate(678.3 932.1) rotate(-90)" font-size="7.5" text-anchor="end" fill="#444">ERVL-E-int</text>
</svg>
</body></html>
